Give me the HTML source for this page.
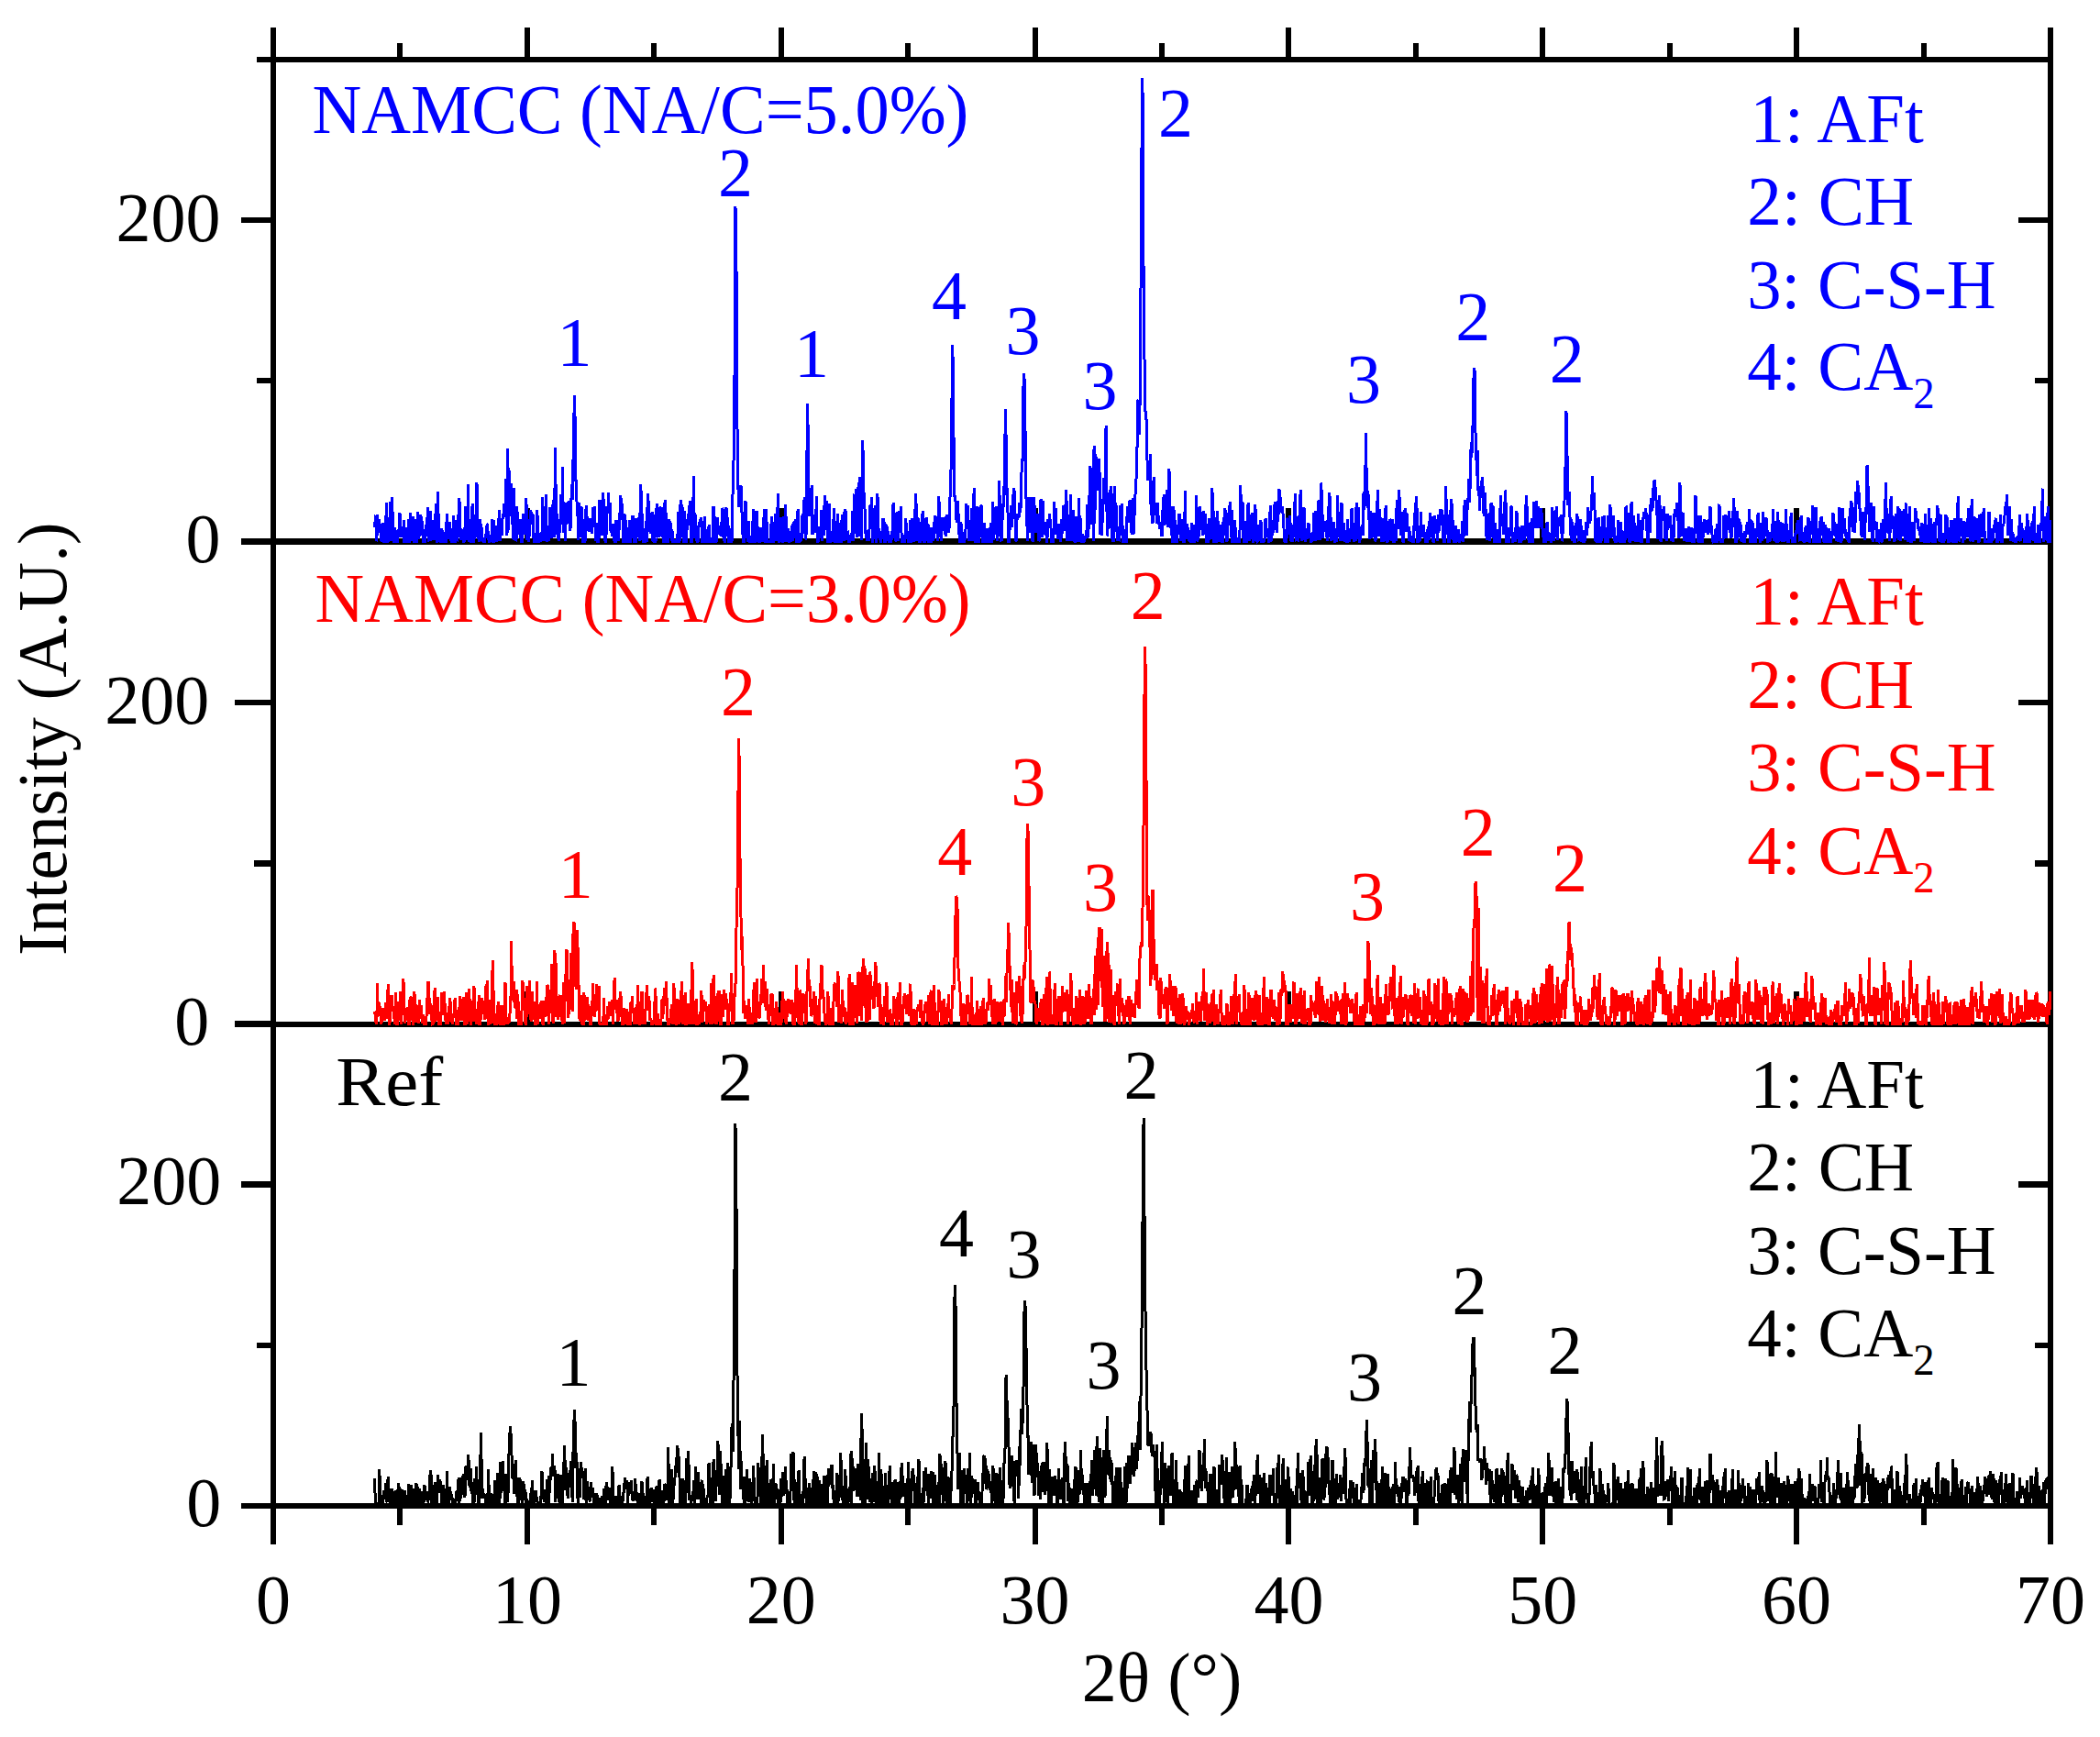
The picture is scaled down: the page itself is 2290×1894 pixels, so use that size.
<!DOCTYPE html>
<html lang="en"><head><meta charset="utf-8"><title>XRD patterns</title>
<style>html,body{margin:0;padding:0;background:#fff}svg{display:block}text{font-family:"Liberation Serif","Times New Roman",serif;font-size:76px}</style></head><body>
<svg width="2290" height="1894" viewBox="0 0 2290 1894">
<rect width="2290" height="1894" fill="#fff"/>
<g shape-rendering="crispEdges">
<rect x="295.0" y="30.0" width="6.0" height="1654.0" fill="#000"/>
<rect x="2233.0" y="30.0" width="6.0" height="1654.0" fill="#000"/>
<rect x="280.0" y="62.0" width="1959.0" height="6.0" fill="#000"/>
<rect x="263.0" y="587.0" width="1970.0" height="7.0" fill="#000"/>
<rect x="301.0" y="1114.0" width="1932.0" height="6.0" fill="#000"/>
<rect x="256.0" y="1112.7" width="39.0" height="7.0" fill="#000"/>
<rect x="263.0" y="1639.0" width="1976.0" height="6.0" fill="#000"/>
<rect x="295.0" y="30.0" width="6.0" height="32.0" fill="#000"/>
<rect x="295.0" y="1645.0" width="6.0" height="39.0" fill="#000"/>
<rect x="433.4" y="47.0" width="6.0" height="15.0" fill="#000"/>
<rect x="433.4" y="1645.0" width="6.0" height="18.0" fill="#000"/>
<rect x="571.9" y="30.0" width="6.0" height="32.0" fill="#000"/>
<rect x="571.9" y="1645.0" width="6.0" height="39.0" fill="#000"/>
<rect x="710.3" y="47.0" width="6.0" height="15.0" fill="#000"/>
<rect x="710.3" y="1645.0" width="6.0" height="18.0" fill="#000"/>
<rect x="848.7" y="30.0" width="6.0" height="32.0" fill="#000"/>
<rect x="848.7" y="1645.0" width="6.0" height="39.0" fill="#000"/>
<rect x="987.1" y="47.0" width="6.0" height="15.0" fill="#000"/>
<rect x="987.1" y="1645.0" width="6.0" height="18.0" fill="#000"/>
<rect x="1125.6" y="30.0" width="6.0" height="32.0" fill="#000"/>
<rect x="1125.6" y="1645.0" width="6.0" height="39.0" fill="#000"/>
<rect x="1264.0" y="47.0" width="6.0" height="15.0" fill="#000"/>
<rect x="1264.0" y="1645.0" width="6.0" height="18.0" fill="#000"/>
<rect x="1402.4" y="30.0" width="6.0" height="32.0" fill="#000"/>
<rect x="1402.4" y="1645.0" width="6.0" height="39.0" fill="#000"/>
<rect x="1540.9" y="47.0" width="6.0" height="15.0" fill="#000"/>
<rect x="1540.9" y="1645.0" width="6.0" height="18.0" fill="#000"/>
<rect x="1679.3" y="30.0" width="6.0" height="32.0" fill="#000"/>
<rect x="1679.3" y="1645.0" width="6.0" height="39.0" fill="#000"/>
<rect x="1817.7" y="47.0" width="6.0" height="15.0" fill="#000"/>
<rect x="1817.7" y="1645.0" width="6.0" height="18.0" fill="#000"/>
<rect x="1956.1" y="30.0" width="6.0" height="32.0" fill="#000"/>
<rect x="1956.1" y="1645.0" width="6.0" height="39.0" fill="#000"/>
<rect x="2094.6" y="47.0" width="6.0" height="15.0" fill="#000"/>
<rect x="2094.6" y="1645.0" width="6.0" height="18.0" fill="#000"/>
<rect x="2233.0" y="30.0" width="6.0" height="32.0" fill="#000"/>
<rect x="2233.0" y="1645.0" width="6.0" height="39.0" fill="#000"/>
<rect x="571.9" y="554.0" width="6.0" height="34.0" fill="#000"/>
<rect x="571.9" y="1081.0" width="6.0" height="34.0" fill="#000"/>
<rect x="848.7" y="554.0" width="6.0" height="34.0" fill="#000"/>
<rect x="848.7" y="1081.0" width="6.0" height="34.0" fill="#000"/>
<rect x="1125.6" y="554.0" width="6.0" height="34.0" fill="#000"/>
<rect x="1125.6" y="1081.0" width="6.0" height="34.0" fill="#000"/>
<rect x="1402.4" y="554.0" width="6.0" height="34.0" fill="#000"/>
<rect x="1402.4" y="1081.0" width="6.0" height="34.0" fill="#000"/>
<rect x="1679.3" y="554.0" width="6.0" height="34.0" fill="#000"/>
<rect x="1679.3" y="1081.0" width="6.0" height="34.0" fill="#000"/>
<rect x="1956.1" y="554.0" width="6.0" height="34.0" fill="#000"/>
<rect x="1956.1" y="1081.0" width="6.0" height="34.0" fill="#000"/>
<rect x="263.0" y="236.7" width="32.0" height="6.6" fill="#000"/>
<rect x="280.0" y="412.0" width="15.0" height="6.4" fill="#000"/>
<rect x="2201.0" y="236.7" width="32.0" height="6.6" fill="#000"/>
<rect x="2219.0" y="412.0" width="14.0" height="6.4" fill="#000"/>
<rect x="256.0" y="762.8" width="39.0" height="6.6" fill="#000"/>
<rect x="277.0" y="938.1" width="18.0" height="6.4" fill="#000"/>
<rect x="2201.0" y="762.8" width="32.0" height="6.6" fill="#000"/>
<rect x="2219.0" y="938.1" width="14.0" height="6.4" fill="#000"/>
<rect x="263.0" y="1288.3" width="32.0" height="6.6" fill="#000"/>
<rect x="280.0" y="1463.6" width="15.0" height="6.4" fill="#000"/>
<rect x="2201.0" y="1288.3" width="32.0" height="6.6" fill="#000"/>
<rect x="2219.0" y="1463.6" width="14.0" height="6.4" fill="#000"/>
</g>
<g shape-rendering="crispEdges">
<polyline fill="none" stroke="#000000" stroke-width="3" stroke-linejoin="miter" stroke-miterlimit="2" points="408.7,1612.1 409.3,1642.0 409.9,1641.6 410.4,1637.9 411.0,1641.4 411.5,1638.3 412.1,1642.0 412.6,1642.0 413.2,1642.0 413.7,1602.5 414.3,1615.4 414.8,1636.5 415.4,1638.5 415.9,1642.0 416.5,1642.0 417.0,1642.0 417.6,1630.5 418.2,1634.0 418.7,1624.7 419.3,1631.3 419.8,1634.5 420.4,1617.1 420.9,1620.5 421.5,1636.6 422.0,1638.2 422.6,1628.9 423.1,1610.4 423.7,1627.3 424.2,1637.7 424.8,1624.2 425.4,1638.4 425.9,1641.2 426.5,1625.7 427.0,1623.3 427.6,1630.0 428.1,1626.1 428.7,1642.0 429.2,1636.5 429.8,1639.1 430.3,1642.0 430.9,1638.9 431.4,1624.9 432.0,1635.1 432.6,1642.0 433.1,1638.7 433.7,1634.2 434.2,1618.9 434.8,1618.9 435.3,1628.0 435.9,1620.8 436.4,1630.6 437.0,1642.0 437.5,1631.9 438.1,1624.6 438.6,1633.2 439.2,1642.0 439.8,1635.1 440.3,1642.0 440.9,1638.4 441.4,1625.1 442.0,1642.0 442.5,1641.0 443.1,1642.0 443.6,1630.2 444.2,1642.0 444.7,1642.0 445.3,1630.5 445.8,1617.8 446.4,1642.0 446.9,1642.0 447.5,1632.6 448.1,1638.7 448.6,1619.5 449.2,1638.8 449.7,1635.7 450.3,1642.0 450.8,1623.6 451.4,1627.1 451.9,1637.8 452.5,1642.0 453.0,1623.8 453.6,1617.3 454.1,1621.8 454.7,1617.7 455.3,1624.3 455.8,1638.9 456.4,1642.0 456.9,1642.0 457.5,1622.7 458.0,1642.0 458.6,1642.0 459.1,1640.1 459.7,1632.8 460.2,1626.3 460.8,1642.0 461.3,1642.0 461.9,1642.0 462.5,1620.5 463.0,1619.5 463.6,1627.6 464.1,1636.0 464.7,1632.0 465.2,1634.8 465.8,1625.9 466.3,1638.3 466.9,1636.0 467.4,1634.2 468.0,1628.2 468.5,1628.5 469.1,1604.7 469.7,1604.8 470.2,1609.9 470.8,1642.0 471.3,1642.0 471.9,1641.9 472.4,1630.8 473.0,1642.0 473.5,1632.0 474.1,1616.2 474.6,1642.0 475.2,1642.0 475.7,1642.0 476.3,1637.0 476.8,1626.3 477.4,1608.0 478.0,1625.6 478.5,1626.1 479.1,1628.1 479.6,1613.5 480.2,1616.8 480.7,1614.9 481.3,1638.6 481.8,1640.9 482.4,1642.0 482.9,1621.0 483.5,1618.9 484.0,1633.6 484.6,1640.0 485.2,1630.4 485.7,1638.8 486.3,1642.0 486.8,1632.8 487.4,1604.1 487.9,1624.0 488.5,1640.8 489.0,1642.0 489.6,1642.0 490.1,1634.3 490.7,1621.5 491.2,1629.1 491.8,1629.7 492.4,1630.5 492.9,1631.3 493.5,1642.0 494.0,1642.0 494.6,1634.4 495.1,1641.4 495.7,1642.0 496.2,1642.0 496.8,1641.1 497.3,1625.6 497.9,1633.5 498.4,1637.0 499.0,1625.0 499.6,1622.1 500.1,1611.3 500.7,1642.0 501.2,1633.6 501.8,1633.5 502.3,1633.1 502.9,1620.5 503.4,1612.6 504.0,1611.0 504.5,1622.3 505.1,1607.1 505.6,1623.6 506.2,1633.1 506.8,1617.7 507.3,1630.5 507.9,1600.7 508.4,1600.7 509.0,1598.0 509.5,1601.1 510.1,1613.8 510.6,1586.1 511.2,1595.0 511.7,1620.0 512.3,1619.5 512.8,1621.9 513.4,1600.9 513.9,1626.0 514.5,1616.0 515.1,1630.8 515.6,1642.0 516.2,1642.0 516.7,1642.0 517.3,1634.9 517.8,1611.7 518.4,1619.0 518.9,1617.9 519.5,1598.8 520.0,1612.9 520.6,1623.3 521.1,1630.8 521.7,1642.0 522.3,1625.2 522.8,1642.0 523.4,1618.5 523.9,1591.9 524.5,1562.3 525.0,1589.4 525.6,1629.7 526.1,1623.3 526.7,1632.1 527.2,1634.0 527.8,1628.6 528.3,1630.3 528.9,1632.7 529.5,1642.0 530.0,1637.9 530.6,1642.0 531.1,1642.0 531.7,1642.0 532.2,1620.4 532.8,1601.8 533.3,1642.0 533.9,1641.0 534.4,1630.5 535.0,1642.0 535.5,1628.6 536.1,1633.1 536.7,1642.0 537.2,1642.0 537.8,1633.8 538.3,1629.0 538.9,1642.0 539.4,1628.6 540.0,1613.7 540.5,1642.0 541.1,1642.0 541.6,1635.4 542.2,1638.9 542.7,1606.2 543.3,1613.9 543.8,1642.0 544.4,1642.0 545.0,1635.7 545.5,1593.7 546.1,1615.7 546.6,1628.3 547.2,1620.0 547.7,1625.8 548.3,1593.3 548.8,1620.7 549.4,1620.3 549.9,1620.2 550.5,1616.7 551.0,1641.1 551.6,1607.1 552.2,1615.0 552.7,1624.6 553.3,1636.8 553.8,1637.6 554.4,1611.4 554.9,1587.7 555.5,1574.1 556.0,1561.8 556.6,1555.1 557.1,1565.0 557.7,1579.5 558.2,1591.9 558.8,1612.4 559.4,1609.0 559.9,1597.3 560.5,1611.6 561.0,1629.4 561.6,1617.7 562.1,1592.3 562.7,1617.4 563.2,1630.8 563.8,1630.9 564.3,1611.0 564.9,1642.0 565.4,1636.3 566.0,1610.8 566.6,1634.2 567.1,1615.7 567.7,1615.4 568.2,1635.3 568.8,1632.3 569.3,1642.0 569.9,1642.0 570.4,1615.1 571.0,1633.8 571.5,1618.2 572.1,1626.1 572.6,1624.0 573.2,1628.7 573.7,1642.0 574.3,1642.0 574.9,1634.4 575.4,1642.0 576.0,1642.0 576.5,1636.2 577.1,1638.6 577.6,1642.0 578.2,1642.0 578.7,1628.2 579.3,1634.6 579.8,1626.4 580.4,1614.0 580.9,1626.4 581.5,1642.0 582.1,1642.0 582.6,1639.9 583.2,1624.9 583.7,1626.9 584.3,1626.9 584.8,1635.6 585.4,1632.6 585.9,1637.0 586.5,1639.0 587.0,1642.0 587.6,1642.0 588.1,1642.0 588.7,1642.0 589.3,1642.0 589.8,1630.8 590.4,1631.2 590.9,1604.1 591.5,1610.4 592.0,1635.1 592.6,1627.8 593.1,1625.5 593.7,1637.8 594.2,1624.3 594.8,1634.6 595.3,1642.0 595.9,1637.0 596.5,1632.5 597.0,1612.8 597.6,1626.9 598.1,1642.0 598.7,1609.5 599.2,1627.9 599.8,1623.9 600.3,1600.0 600.9,1600.4 601.4,1608.1 602.0,1602.2 602.5,1585.4 603.1,1609.9 603.7,1603.7 604.2,1599.0 604.8,1600.0 605.3,1608.1 605.9,1638.0 606.4,1617.9 607.0,1625.1 607.5,1623.2 608.1,1621.4 608.6,1606.8 609.2,1628.3 609.7,1632.5 610.3,1642.0 610.8,1642.0 611.4,1608.5 612.0,1625.6 612.5,1640.7 613.1,1642.0 613.6,1619.9 614.2,1606.8 614.7,1614.0 615.3,1576.1 615.8,1587.8 616.4,1599.7 616.9,1624.7 617.5,1600.2 618.0,1605.5 618.6,1623.7 619.2,1633.9 619.7,1632.3 620.3,1612.8 620.8,1622.1 621.4,1608.1 621.9,1605.2 622.5,1595.0 623.0,1595.3 623.6,1608.9 624.1,1638.1 624.7,1607.3 625.2,1569.3 625.8,1554.1 626.4,1537.4 626.9,1544.9 627.5,1571.5 628.0,1601.2 628.6,1584.1 629.1,1596.0 629.7,1620.6 630.2,1642.0 630.8,1632.3 631.3,1601.0 631.9,1606.5 632.4,1632.9 633.0,1608.4 633.6,1593.9 634.1,1601.4 634.7,1608.0 635.2,1603.9 635.8,1611.2 636.3,1612.7 636.9,1635.2 637.4,1612.5 638.0,1616.8 638.5,1600.7 639.1,1642.0 639.6,1633.6 640.2,1614.7 640.7,1630.3 641.3,1628.3 641.9,1621.2 642.4,1622.3 643.0,1635.9 643.5,1637.2 644.1,1623.9 644.6,1616.0 645.2,1626.8 645.7,1632.4 646.3,1631.3 646.8,1622.2 647.4,1639.6 647.9,1642.0 648.5,1638.5 649.1,1642.0 649.6,1642.0 650.2,1635.6 650.7,1628.5 651.3,1642.0 651.8,1630.5 652.4,1642.0 652.9,1636.4 653.5,1642.0 654.0,1642.0 654.6,1633.1 655.1,1635.0 655.7,1642.0 656.3,1642.0 656.8,1631.1 657.4,1632.2 657.9,1634.4 658.5,1623.1 659.0,1636.3 659.6,1642.0 660.1,1641.4 660.7,1624.2 661.2,1618.2 661.8,1615.9 662.3,1628.2 662.9,1635.6 663.5,1625.7 664.0,1633.9 664.6,1627.1 665.1,1622.5 665.7,1637.7 666.2,1638.0 666.8,1635.5 667.3,1616.4 667.9,1598.8 668.4,1622.7 669.0,1634.1 669.5,1642.0 670.1,1642.0 670.6,1632.9 671.2,1642.0 671.8,1630.6 672.3,1642.0 672.9,1642.0 673.4,1633.4 674.0,1642.0 674.5,1630.7 675.1,1618.7 675.6,1642.0 676.2,1642.0 676.7,1634.1 677.3,1631.2 677.8,1642.0 678.4,1642.0 679.0,1636.3 679.5,1635.8 680.1,1625.7 680.6,1625.8 681.2,1613.2 681.7,1610.8 682.3,1620.0 682.8,1619.1 683.4,1614.6 683.9,1619.9 684.5,1642.0 685.0,1630.4 685.6,1628.8 686.2,1616.2 686.7,1625.0 687.3,1627.6 687.8,1627.7 688.4,1614.2 688.9,1623.7 689.5,1635.7 690.0,1631.7 690.6,1636.9 691.1,1634.0 691.7,1632.9 692.2,1630.8 692.8,1611.7 693.4,1628.7 693.9,1635.2 694.5,1635.6 695.0,1627.4 695.6,1642.0 696.1,1642.0 696.7,1637.4 697.2,1627.9 697.8,1631.4 698.3,1639.2 698.9,1642.0 699.4,1632.2 700.0,1615.5 700.6,1623.0 701.1,1629.9 701.7,1627.8 702.2,1641.6 702.8,1641.5 703.3,1637.9 703.9,1631.6 704.4,1632.4 705.0,1642.0 705.5,1627.2 706.1,1609.6 706.6,1628.0 707.2,1630.4 707.7,1628.6 708.3,1623.6 708.9,1642.0 709.4,1623.1 710.0,1630.6 710.5,1621.9 711.1,1626.3 711.6,1637.2 712.2,1636.8 712.7,1624.2 713.3,1638.4 713.8,1641.7 714.4,1640.5 714.9,1642.0 715.5,1627.5 716.1,1620.5 716.6,1630.7 717.2,1620.6 717.7,1638.0 718.3,1638.8 718.8,1614.6 719.4,1613.2 719.9,1642.0 720.5,1642.0 721.0,1642.0 721.6,1624.7 722.1,1631.8 722.7,1637.2 723.3,1624.7 723.8,1639.5 724.4,1633.5 724.9,1618.3 725.5,1618.7 726.0,1621.4 726.6,1636.3 727.1,1626.1 727.7,1632.5 728.2,1611.8 728.8,1578.5 729.3,1621.9 729.9,1642.0 730.5,1642.0 731.0,1625.1 731.6,1607.7 732.1,1602.0 732.7,1632.5 733.2,1642.0 733.8,1611.6 734.3,1635.0 734.9,1615.5 735.4,1620.0 736.0,1611.7 736.5,1602.7 737.1,1597.7 737.6,1588.9 738.2,1605.9 738.8,1576.1 739.3,1582.8 739.9,1590.1 740.4,1588.0 741.0,1611.1 741.5,1634.3 742.1,1640.4 742.6,1635.1 743.2,1614.8 743.7,1634.1 744.3,1613.0 744.8,1613.0 745.4,1628.7 746.0,1642.0 746.5,1633.5 747.1,1613.9 747.6,1642.0 748.2,1621.0 748.7,1590.3 749.3,1609.3 749.8,1616.8 750.4,1582.5 750.9,1587.9 751.5,1633.9 752.0,1635.3 752.6,1630.9 753.2,1631.9 753.7,1642.0 754.3,1633.4 754.8,1633.2 755.4,1630.1 755.9,1629.1 756.5,1613.8 757.0,1626.3 757.6,1642.0 758.1,1624.9 758.7,1599.1 759.2,1622.4 759.8,1606.3 760.4,1612.4 760.9,1635.2 761.5,1605.2 762.0,1630.1 762.6,1616.4 763.1,1628.5 763.7,1623.7 764.2,1642.0 764.8,1642.0 765.3,1615.4 765.9,1615.7 766.4,1625.4 767.0,1635.1 767.5,1623.1 768.1,1642.0 768.7,1642.0 769.2,1639.3 769.8,1642.0 770.3,1642.0 770.9,1634.2 771.4,1630.3 772.0,1632.3 772.5,1598.9 773.1,1595.3 773.6,1596.6 774.2,1617.5 774.7,1636.3 775.3,1642.0 775.9,1642.0 776.4,1642.0 777.0,1642.0 777.5,1617.5 778.1,1590.7 778.6,1595.5 779.2,1634.1 779.7,1624.3 780.3,1636.5 780.8,1617.5 781.4,1621.2 781.9,1611.0 782.5,1571.3 783.1,1587.3 783.6,1574.9 784.2,1602.7 784.7,1629.7 785.3,1603.1 785.8,1582.0 786.4,1620.4 786.9,1627.4 787.5,1642.0 788.0,1639.2 788.6,1608.6 789.1,1617.2 789.7,1633.6 790.3,1642.0 790.8,1626.3 791.4,1603.0 791.9,1602.4 792.5,1609.4 793.0,1639.2 793.6,1594.8 794.1,1601.6 794.7,1616.4 795.2,1598.6 795.8,1641.7 796.3,1623.3 796.9,1602.4 797.5,1587.2 798.0,1556.2 798.6,1551.7 799.1,1583.1 799.7,1547.2 800.2,1482.2 800.8,1412.8 801.3,1347.3 801.9,1225.5 802.4,1243.8 803.0,1314.1 803.5,1414.7 804.1,1515.1 804.6,1507.5 805.2,1591.9 805.8,1602.2 806.3,1548.6 806.9,1578.5 807.4,1596.4 808.0,1624.0 808.5,1592.7 809.1,1623.4 809.6,1619.2 810.2,1610.5 810.7,1634.8 811.3,1610.3 811.8,1637.7 812.4,1642.0 813.0,1626.9 813.5,1629.2 814.1,1616.7 814.6,1601.6 815.2,1620.6 815.7,1635.6 816.3,1637.6 816.8,1634.9 817.4,1612.3 817.9,1621.7 818.5,1618.9 819.0,1623.1 819.6,1641.2 820.2,1616.2 820.7,1637.2 821.3,1633.8 821.8,1598.1 822.4,1633.4 822.9,1635.7 823.5,1642.0 824.0,1642.0 824.6,1642.0 825.1,1642.0 825.7,1638.7 826.2,1627.8 826.8,1595.4 827.4,1607.1 827.9,1610.7 828.5,1620.1 829.0,1628.7 829.6,1639.4 830.1,1642.0 830.7,1621.2 831.2,1570.3 831.8,1563.7 832.3,1613.5 832.9,1592.4 833.4,1616.6 834.0,1639.0 834.5,1642.0 835.1,1642.0 835.7,1638.5 836.2,1591.6 836.8,1613.7 837.3,1642.0 837.9,1642.0 838.4,1635.9 839.0,1642.0 839.5,1638.8 840.1,1613.1 840.6,1615.4 841.2,1613.4 841.7,1642.0 842.3,1642.0 842.9,1617.6 843.4,1596.5 844.0,1642.0 844.5,1636.2 845.1,1625.1 845.6,1617.1 846.2,1619.0 846.7,1634.8 847.3,1627.9 847.8,1622.9 848.4,1627.0 848.9,1642.0 849.5,1642.0 850.1,1642.0 850.6,1642.0 851.2,1636.3 851.7,1612.2 852.3,1616.7 852.8,1632.1 853.4,1629.2 853.9,1605.5 854.5,1631.2 855.0,1616.6 855.6,1606.9 856.1,1616.9 856.7,1598.7 857.3,1628.7 857.8,1616.2 858.4,1636.8 858.9,1642.0 859.5,1642.0 860.0,1628.1 860.6,1641.1 861.1,1634.4 861.7,1642.0 862.2,1617.4 862.8,1585.0 863.3,1608.2 863.9,1595.5 864.4,1603.7 865.0,1583.1 865.6,1607.8 866.1,1642.0 866.7,1613.2 867.2,1617.6 867.8,1642.0 868.3,1642.0 868.9,1642.0 869.4,1642.0 870.0,1642.0 870.5,1609.2 871.1,1603.1 871.6,1642.0 872.2,1642.0 872.8,1642.0 873.3,1642.0 873.9,1642.0 874.4,1629.3 875.0,1642.0 875.5,1642.0 876.1,1623.0 876.6,1597.4 877.2,1588.4 877.7,1614.6 878.3,1611.6 878.8,1634.1 879.4,1626.2 880.0,1641.9 880.5,1622.2 881.1,1642.0 881.6,1642.0 882.2,1635.8 882.7,1617.5 883.3,1642.0 883.8,1642.0 884.4,1629.6 884.9,1622.3 885.5,1641.1 886.0,1632.8 886.6,1631.7 887.2,1604.0 887.7,1605.8 888.3,1642.0 888.8,1642.0 889.4,1642.0 889.9,1605.1 890.5,1614.6 891.0,1610.0 891.6,1629.2 892.1,1642.0 892.7,1625.1 893.2,1619.6 893.8,1614.2 894.4,1642.0 894.9,1635.7 895.5,1637.6 896.0,1617.9 896.6,1631.6 897.1,1642.0 897.7,1642.0 898.2,1609.2 898.8,1616.6 899.3,1641.3 899.9,1642.0 900.4,1642.0 901.0,1609.3 901.5,1642.0 902.1,1642.0 902.7,1622.8 903.2,1600.6 903.8,1620.5 904.3,1614.3 904.9,1607.0 905.4,1603.1 906.0,1618.5 906.5,1596.7 907.1,1609.8 907.6,1597.2 908.2,1634.5 908.7,1618.7 909.3,1642.0 909.9,1642.0 910.4,1629.9 911.0,1637.7 911.5,1625.2 912.1,1642.0 912.6,1605.8 913.2,1612.9 913.7,1642.0 914.3,1632.4 914.8,1608.5 915.4,1632.9 915.9,1622.9 916.5,1584.1 917.1,1593.0 917.6,1618.8 918.2,1636.3 918.7,1619.8 919.3,1642.0 919.8,1642.0 920.4,1642.0 920.9,1642.0 921.5,1602.3 922.0,1608.3 922.6,1642.0 923.1,1642.0 923.7,1625.5 924.3,1636.1 924.8,1642.0 925.4,1631.3 925.9,1623.8 926.5,1622.0 927.0,1621.5 927.6,1599.3 928.1,1582.0 928.7,1640.1 929.2,1589.8 929.8,1599.6 930.3,1599.0 930.9,1625.8 931.4,1622.2 932.0,1614.9 932.6,1617.1 933.1,1603.7 933.7,1600.8 934.2,1631.8 934.8,1628.0 935.3,1603.8 935.9,1596.0 936.4,1613.2 937.0,1617.9 937.5,1611.1 938.1,1635.8 938.6,1615.7 939.2,1548.1 939.8,1541.4 940.3,1580.8 940.9,1639.8 941.4,1639.9 942.0,1627.5 942.5,1591.0 943.1,1625.9 943.6,1640.7 944.2,1622.3 944.7,1573.2 945.3,1633.9 945.8,1634.4 946.4,1591.3 947.0,1599.0 947.5,1600.9 948.1,1637.8 948.6,1628.9 949.2,1632.3 949.7,1611.6 950.3,1634.7 950.8,1639.8 951.4,1605.8 951.9,1631.6 952.5,1637.8 953.0,1614.1 953.6,1597.9 954.2,1609.5 954.7,1604.5 955.3,1642.0 955.8,1642.0 956.4,1635.2 956.9,1627.5 957.5,1614.9 958.0,1642.0 958.6,1583.7 959.1,1614.5 959.7,1625.4 960.2,1606.6 960.8,1602.3 961.3,1613.5 961.9,1642.0 962.5,1642.0 963.0,1620.3 963.6,1636.0 964.1,1642.0 964.7,1642.0 965.2,1622.7 965.8,1606.2 966.3,1638.0 966.9,1635.7 967.4,1628.9 968.0,1642.0 968.5,1640.4 969.1,1623.8 969.7,1614.0 970.2,1598.5 970.8,1615.4 971.3,1634.7 971.9,1622.9 972.4,1634.8 973.0,1642.0 973.5,1616.0 974.1,1624.2 974.6,1627.6 975.2,1613.8 975.7,1641.7 976.3,1624.2 976.9,1613.2 977.4,1624.9 978.0,1620.4 978.5,1637.5 979.1,1642.0 979.6,1642.0 980.2,1642.0 980.7,1618.5 981.3,1614.8 981.8,1634.4 982.4,1630.4 982.9,1601.7 983.5,1594.9 984.1,1610.8 984.6,1616.0 985.2,1628.5 985.7,1631.6 986.3,1617.2 986.8,1624.3 987.4,1622.5 987.9,1642.0 988.5,1642.0 989.0,1642.0 989.6,1642.0 990.1,1606.2 990.7,1594.3 991.3,1635.5 991.8,1642.0 992.4,1625.3 992.9,1611.9 993.5,1642.0 994.0,1618.9 994.6,1615.0 995.1,1601.2 995.7,1609.8 996.2,1607.8 996.8,1613.7 997.3,1641.8 997.9,1639.2 998.4,1641.4 999.0,1617.3 999.6,1638.4 1000.1,1642.0 1000.7,1627.1 1001.2,1600.3 1001.8,1590.9 1002.3,1595.0 1002.9,1642.0 1003.4,1642.0 1004.0,1642.0 1004.5,1631.9 1005.1,1642.0 1005.6,1642.0 1006.2,1622.0 1006.8,1642.0 1007.3,1632.7 1007.9,1604.1 1008.4,1616.3 1009.0,1607.1 1009.5,1599.6 1010.1,1611.0 1010.6,1616.5 1011.2,1630.6 1011.7,1607.2 1012.3,1625.3 1012.8,1642.0 1013.4,1619.6 1014.0,1634.3 1014.5,1625.0 1015.1,1603.8 1015.6,1616.5 1016.2,1624.1 1016.7,1608.9 1017.3,1605.2 1017.8,1642.0 1018.4,1642.0 1018.9,1612.9 1019.5,1608.3 1020.0,1642.0 1020.6,1642.0 1021.2,1637.0 1021.7,1642.0 1022.3,1625.7 1022.8,1620.8 1023.4,1616.4 1023.9,1642.0 1024.5,1624.1 1025.0,1584.6 1025.6,1624.0 1026.1,1607.9 1026.7,1596.5 1027.2,1605.3 1027.8,1621.0 1028.3,1642.0 1028.9,1642.0 1029.5,1617.7 1030.0,1599.9 1030.6,1593.4 1031.1,1595.8 1031.7,1598.7 1032.2,1623.3 1032.8,1642.0 1033.3,1627.8 1033.9,1609.9 1034.4,1614.0 1035.0,1642.0 1035.5,1639.0 1036.1,1642.0 1036.7,1621.6 1037.2,1626.3 1037.8,1614.4 1038.3,1589.9 1038.9,1576.4 1039.4,1534.5 1040.0,1534.7 1040.5,1497.7 1041.1,1401.1 1041.6,1404.3 1042.2,1432.5 1042.7,1508.6 1043.3,1548.4 1043.9,1574.8 1044.4,1617.0 1045.0,1623.7 1045.5,1603.5 1046.1,1618.3 1046.6,1584.3 1047.2,1629.2 1047.7,1638.9 1048.3,1602.6 1048.8,1622.4 1049.4,1642.0 1049.9,1642.0 1050.5,1642.0 1051.1,1601.1 1051.6,1603.2 1052.2,1610.6 1052.7,1629.0 1053.3,1612.7 1053.8,1615.2 1054.4,1640.4 1054.9,1640.4 1055.5,1624.6 1056.0,1601.5 1056.6,1616.2 1057.1,1616.2 1057.7,1583.7 1058.2,1623.0 1058.8,1642.0 1059.4,1617.3 1059.9,1609.0 1060.5,1623.4 1061.0,1621.2 1061.6,1629.2 1062.1,1618.6 1062.7,1627.2 1063.2,1613.4 1063.8,1640.3 1064.3,1642.0 1064.9,1630.0 1065.4,1633.0 1066.0,1616.5 1066.6,1620.4 1067.1,1635.7 1067.7,1626.0 1068.2,1633.3 1068.8,1642.0 1069.3,1642.0 1069.9,1642.0 1070.4,1640.5 1071.0,1627.3 1071.5,1607.7 1072.1,1607.5 1072.6,1587.9 1073.2,1587.0 1073.8,1618.0 1074.3,1596.2 1074.9,1589.6 1075.4,1623.5 1076.0,1622.9 1076.5,1602.1 1077.1,1611.3 1077.6,1604.0 1078.2,1609.0 1078.7,1608.4 1079.3,1624.5 1079.8,1620.1 1080.4,1627.9 1081.0,1614.9 1081.5,1642.0 1082.1,1631.9 1082.6,1598.3 1083.2,1602.9 1083.7,1619.5 1084.3,1614.0 1084.8,1634.7 1085.4,1642.0 1085.9,1636.7 1086.5,1628.8 1087.0,1606.3 1087.6,1631.1 1088.2,1611.4 1088.7,1642.0 1089.3,1642.0 1089.8,1628.4 1090.4,1599.8 1090.9,1621.8 1091.5,1642.0 1092.0,1628.3 1092.6,1614.0 1093.1,1635.2 1093.7,1640.5 1094.2,1629.9 1094.8,1606.3 1095.3,1579.2 1095.9,1595.9 1096.5,1513.3 1097.0,1502.2 1097.6,1499.0 1098.1,1533.0 1098.7,1565.1 1099.2,1546.2 1099.8,1560.2 1100.3,1602.7 1100.9,1618.4 1101.4,1622.4 1102.0,1621.4 1102.5,1601.9 1103.1,1617.8 1103.7,1586.9 1104.2,1598.8 1104.8,1613.1 1105.3,1592.6 1105.9,1636.1 1106.4,1639.8 1107.0,1601.4 1107.5,1597.8 1108.1,1601.1 1108.6,1591.7 1109.2,1604.3 1109.7,1602.2 1110.3,1617.7 1110.9,1634.0 1111.4,1577.3 1112.0,1588.1 1112.5,1598.1 1113.1,1552.7 1113.6,1535.6 1114.2,1560.2 1114.7,1563.5 1115.3,1540.9 1115.8,1531.5 1116.4,1478.4 1116.9,1432.7 1117.5,1418.3 1118.1,1425.0 1118.6,1461.3 1119.2,1473.7 1119.7,1492.1 1120.3,1568.4 1120.8,1557.2 1121.4,1580.1 1121.9,1608.3 1122.5,1576.4 1123.0,1588.9 1123.6,1597.2 1124.1,1571.9 1124.7,1595.4 1125.2,1616.8 1125.8,1598.9 1126.4,1574.7 1126.9,1582.3 1127.5,1628.4 1128.0,1630.9 1128.6,1616.0 1129.1,1575.3 1129.7,1578.6 1130.2,1589.3 1130.8,1584.4 1131.3,1610.4 1131.9,1609.4 1132.4,1603.6 1133.0,1631.2 1133.6,1626.5 1134.1,1608.5 1134.7,1634.5 1135.2,1613.9 1135.8,1599.7 1136.3,1595.5 1136.9,1626.8 1137.4,1625.8 1138.0,1594.2 1138.5,1595.4 1139.1,1630.1 1139.6,1624.8 1140.2,1594.7 1140.8,1612.5 1141.3,1616.6 1141.9,1572.9 1142.4,1602.7 1143.0,1625.6 1143.5,1642.0 1144.1,1642.0 1144.6,1601.9 1145.2,1614.0 1145.7,1642.0 1146.3,1642.0 1146.8,1631.5 1147.4,1610.0 1148.0,1631.4 1148.5,1617.2 1149.1,1627.2 1149.6,1621.7 1150.2,1611.8 1150.7,1608.9 1151.3,1627.2 1151.8,1630.9 1152.4,1616.4 1152.9,1642.0 1153.5,1631.7 1154.0,1613.4 1154.6,1600.8 1155.1,1616.0 1155.7,1627.3 1156.3,1622.2 1156.8,1635.0 1157.4,1632.0 1157.9,1615.4 1158.5,1611.1 1159.0,1633.7 1159.6,1627.2 1160.1,1642.0 1160.7,1594.5 1161.2,1578.9 1161.8,1572.1 1162.3,1610.0 1162.9,1615.8 1163.5,1605.6 1164.0,1595.8 1164.6,1636.7 1165.1,1617.4 1165.7,1618.8 1166.2,1638.9 1166.8,1621.7 1167.3,1625.9 1167.9,1632.5 1168.4,1640.2 1169.0,1626.8 1169.5,1622.8 1170.1,1628.2 1170.7,1642.0 1171.2,1642.0 1171.8,1622.4 1172.3,1599.0 1172.9,1615.6 1173.4,1600.1 1174.0,1614.2 1174.5,1642.0 1175.1,1622.9 1175.6,1637.8 1176.2,1625.9 1176.7,1602.6 1177.3,1622.0 1177.9,1629.2 1178.4,1581.0 1179.0,1600.4 1179.5,1618.0 1180.1,1608.3 1180.6,1619.8 1181.2,1626.6 1181.7,1617.8 1182.3,1642.0 1182.8,1617.3 1183.4,1631.0 1183.9,1642.0 1184.5,1621.5 1185.1,1617.2 1185.6,1642.0 1186.2,1627.3 1186.7,1639.2 1187.3,1641.5 1187.8,1642.0 1188.4,1642.0 1188.9,1616.0 1189.5,1609.6 1190.0,1606.8 1190.6,1592.2 1191.1,1631.2 1191.7,1618.3 1192.2,1612.9 1192.8,1622.7 1193.4,1580.7 1193.9,1622.5 1194.5,1580.7 1195.0,1623.9 1195.6,1630.8 1196.1,1566.1 1196.7,1629.3 1197.2,1631.3 1197.8,1596.5 1198.3,1638.0 1198.9,1580.7 1199.4,1580.7 1200.0,1587.8 1200.6,1640.5 1201.1,1631.7 1201.7,1589.0 1202.2,1641.9 1202.8,1605.2 1203.3,1590.6 1203.9,1580.7 1204.4,1611.4 1205.0,1632.8 1205.5,1589.9 1206.1,1607.9 1206.6,1592.3 1207.2,1544.2 1207.8,1575.4 1208.3,1608.4 1208.9,1603.9 1209.4,1581.3 1210.0,1589.1 1210.5,1598.4 1211.1,1616.2 1211.6,1592.7 1212.2,1596.3 1212.7,1595.5 1213.3,1638.9 1213.8,1626.6 1214.4,1638.6 1215.0,1624.2 1215.5,1615.2 1216.1,1640.5 1216.6,1628.0 1217.2,1600.0 1217.7,1604.0 1218.3,1607.8 1218.8,1633.2 1219.4,1641.7 1219.9,1642.0 1220.5,1629.1 1221.0,1600.1 1221.6,1605.1 1222.1,1618.9 1222.7,1642.0 1223.3,1623.2 1223.8,1622.7 1224.4,1642.0 1224.9,1642.0 1225.5,1641.4 1226.0,1639.9 1226.6,1598.6 1227.1,1606.7 1227.7,1638.5 1228.2,1636.9 1228.8,1594.8 1229.3,1622.9 1229.9,1612.1 1230.5,1603.5 1231.0,1587.0 1231.6,1594.6 1232.1,1617.8 1232.7,1607.7 1233.2,1607.2 1233.8,1593.4 1234.3,1603.1 1234.9,1573.3 1235.4,1592.2 1236.0,1597.2 1236.5,1610.1 1237.1,1602.5 1237.7,1595.2 1238.2,1590.4 1238.8,1573.0 1239.3,1589.0 1239.9,1602.0 1240.4,1565.1 1241.0,1569.0 1241.5,1581.0 1242.1,1544.6 1242.6,1528.0 1243.2,1580.9 1243.7,1553.4 1244.3,1494.1 1244.9,1453.7 1245.4,1430.4 1246.0,1333.1 1246.5,1269.2 1247.1,1218.7 1247.6,1266.2 1248.2,1353.8 1248.7,1410.8 1249.3,1446.4 1249.8,1493.1 1250.4,1495.7 1250.9,1534.9 1251.5,1553.4 1252.0,1575.4 1252.6,1575.4 1253.2,1572.8 1253.7,1570.2 1254.3,1568.8 1254.8,1560.9 1255.4,1567.5 1255.9,1583.2 1256.5,1588.3 1257.0,1579.2 1257.6,1575.4 1258.1,1587.0 1258.7,1589.0 1259.2,1582.5 1259.8,1617.8 1260.4,1642.0 1260.9,1593.6 1261.5,1575.0 1262.0,1601.1 1262.6,1607.2 1263.1,1628.8 1263.7,1642.0 1264.2,1622.3 1264.8,1641.4 1265.3,1614.1 1265.9,1623.8 1266.4,1619.9 1267.0,1583.6 1267.6,1571.9 1268.1,1610.8 1268.7,1604.7 1269.2,1631.5 1269.8,1640.6 1270.3,1620.4 1270.9,1595.2 1271.4,1622.0 1272.0,1618.1 1272.5,1617.2 1273.1,1642.0 1273.6,1636.0 1274.2,1598.4 1274.8,1613.7 1275.3,1616.0 1275.9,1605.6 1276.4,1630.8 1277.0,1608.6 1277.5,1588.3 1278.1,1584.6 1278.6,1589.0 1279.2,1622.7 1279.7,1639.1 1280.3,1642.0 1280.8,1642.0 1281.4,1642.0 1282.0,1614.2 1282.5,1591.8 1283.1,1625.2 1283.6,1616.4 1284.2,1641.6 1284.7,1641.6 1285.3,1642.0 1285.8,1642.0 1286.4,1638.0 1286.9,1624.3 1287.5,1632.7 1288.0,1638.7 1288.6,1642.0 1289.1,1636.5 1289.7,1638.0 1290.3,1627.0 1290.8,1642.0 1291.4,1632.1 1291.9,1615.8 1292.5,1600.7 1293.0,1598.4 1293.6,1615.1 1294.1,1637.3 1294.7,1642.0 1295.2,1641.5 1295.8,1602.1 1296.3,1586.6 1296.9,1642.0 1297.5,1642.0 1298.0,1639.2 1298.6,1642.0 1299.1,1632.1 1299.7,1625.0 1300.2,1636.0 1300.8,1631.9 1301.3,1642.0 1301.9,1642.0 1302.4,1642.0 1303.0,1618.6 1303.5,1642.0 1304.1,1642.0 1304.7,1615.4 1305.2,1622.2 1305.8,1613.6 1306.3,1632.5 1306.9,1625.0 1307.4,1608.2 1308.0,1581.1 1308.5,1597.1 1309.1,1596.7 1309.6,1616.0 1310.2,1625.7 1310.7,1599.2 1311.3,1604.9 1311.9,1598.0 1312.4,1603.8 1313.0,1584.6 1313.5,1568.9 1314.1,1623.3 1314.6,1601.4 1315.2,1605.1 1315.7,1615.6 1316.3,1625.7 1316.8,1615.7 1317.4,1641.2 1317.9,1642.0 1318.5,1642.0 1319.0,1628.3 1319.6,1608.9 1320.2,1607.1 1320.7,1615.0 1321.3,1634.8 1321.8,1642.0 1322.4,1634.1 1322.9,1621.5 1323.5,1619.9 1324.0,1599.5 1324.6,1619.2 1325.1,1632.3 1325.7,1642.0 1326.2,1635.7 1326.8,1623.7 1327.4,1640.6 1327.9,1626.4 1328.5,1642.0 1329.0,1642.0 1329.6,1597.3 1330.1,1598.8 1330.7,1605.3 1331.2,1607.0 1331.8,1610.3 1332.3,1619.0 1332.9,1586.0 1333.4,1610.8 1334.0,1615.2 1334.6,1625.5 1335.1,1635.4 1335.7,1642.0 1336.2,1642.0 1336.8,1615.7 1337.3,1589.5 1337.9,1623.5 1338.4,1631.6 1339.0,1617.2 1339.5,1640.2 1340.1,1604.6 1340.6,1632.0 1341.2,1642.0 1341.8,1642.0 1342.3,1623.1 1342.9,1614.9 1343.4,1599.1 1344.0,1632.6 1344.5,1629.8 1345.1,1623.9 1345.6,1623.8 1346.2,1590.2 1346.7,1572.2 1347.3,1586.2 1347.8,1624.1 1348.4,1615.5 1348.9,1597.5 1349.5,1607.7 1350.1,1613.7 1350.6,1615.1 1351.2,1639.9 1351.7,1630.8 1352.3,1598.2 1352.8,1632.8 1353.4,1634.4 1353.9,1612.9 1354.5,1642.0 1355.0,1641.1 1355.6,1642.0 1356.1,1642.0 1356.7,1642.0 1357.3,1642.0 1357.8,1642.0 1358.4,1636.8 1358.9,1633.9 1359.5,1642.0 1360.0,1619.5 1360.6,1620.6 1361.1,1642.0 1361.7,1642.0 1362.2,1627.8 1362.8,1642.0 1363.3,1642.0 1363.9,1639.7 1364.5,1622.7 1365.0,1637.1 1365.6,1626.3 1366.1,1618.8 1366.7,1628.2 1367.2,1608.0 1367.8,1618.3 1368.3,1642.0 1368.9,1632.4 1369.4,1623.9 1370.0,1628.1 1370.5,1624.7 1371.1,1585.9 1371.7,1606.0 1372.2,1618.6 1372.8,1629.1 1373.3,1607.6 1373.9,1619.1 1374.4,1642.0 1375.0,1642.0 1375.5,1628.7 1376.1,1611.4 1376.6,1642.0 1377.2,1642.0 1377.7,1622.9 1378.3,1605.6 1378.9,1642.0 1379.4,1642.0 1380.0,1617.1 1380.5,1631.0 1381.1,1640.2 1381.6,1641.1 1382.2,1642.0 1382.7,1637.5 1383.3,1622.5 1383.8,1642.0 1384.4,1637.2 1384.9,1608.2 1385.5,1615.8 1386.0,1610.0 1386.6,1629.9 1387.2,1608.3 1387.7,1630.5 1388.3,1601.0 1388.8,1620.2 1389.4,1642.0 1389.9,1642.0 1390.5,1639.8 1391.0,1636.6 1391.6,1639.3 1392.1,1632.6 1392.7,1609.5 1393.2,1595.4 1393.8,1606.1 1394.4,1586.1 1394.9,1614.7 1395.5,1638.8 1396.0,1642.0 1396.6,1620.0 1397.1,1642.0 1397.7,1642.0 1398.2,1614.6 1398.8,1600.7 1399.3,1590.5 1399.9,1642.0 1400.4,1638.8 1401.0,1613.3 1401.6,1619.7 1402.1,1642.0 1402.7,1642.0 1403.2,1642.0 1403.8,1642.0 1404.3,1600.8 1404.9,1600.0 1405.4,1642.0 1406.0,1642.0 1406.5,1632.1 1407.1,1635.4 1407.6,1623.3 1408.2,1635.1 1408.8,1636.9 1409.3,1626.0 1409.9,1642.0 1410.4,1642.0 1411.0,1642.0 1411.5,1642.0 1412.1,1637.5 1412.6,1631.2 1413.2,1630.2 1413.7,1620.3 1414.3,1639.9 1414.8,1611.6 1415.4,1583.7 1415.9,1607.0 1416.5,1622.6 1417.1,1605.9 1417.6,1607.9 1418.2,1620.4 1418.7,1630.0 1419.3,1642.0 1419.8,1642.0 1420.4,1626.2 1420.9,1603.1 1421.5,1637.4 1422.0,1637.9 1422.6,1625.3 1423.1,1634.0 1423.7,1642.0 1424.3,1640.9 1424.8,1642.0 1425.4,1642.0 1425.9,1633.7 1426.5,1594.3 1427.0,1595.8 1427.6,1626.6 1428.1,1630.6 1428.7,1598.4 1429.2,1586.9 1429.8,1611.7 1430.3,1627.6 1430.9,1642.0 1431.5,1642.0 1432.0,1630.2 1432.6,1637.2 1433.1,1597.1 1433.7,1635.1 1434.2,1623.8 1434.8,1582.0 1435.3,1569.1 1435.9,1575.8 1436.4,1617.5 1437.0,1639.0 1437.5,1623.8 1438.1,1618.8 1438.7,1628.4 1439.2,1639.2 1439.8,1611.0 1440.3,1632.8 1440.9,1640.5 1441.4,1601.9 1442.0,1591.7 1442.5,1591.7 1443.1,1625.2 1443.6,1635.4 1444.2,1632.2 1444.7,1631.1 1445.3,1613.6 1445.8,1586.5 1446.4,1583.8 1447.0,1577.2 1447.5,1600.5 1448.1,1615.3 1448.6,1589.1 1449.2,1630.3 1449.7,1621.6 1450.3,1637.2 1450.8,1642.0 1451.4,1642.0 1451.9,1616.7 1452.5,1617.0 1453.0,1591.7 1453.6,1621.4 1454.2,1642.0 1454.7,1624.3 1455.3,1612.3 1455.8,1627.2 1456.4,1642.0 1456.9,1618.2 1457.5,1606.9 1458.0,1616.6 1458.6,1634.8 1459.1,1621.6 1459.7,1632.6 1460.2,1631.7 1460.8,1631.0 1461.4,1608.3 1461.9,1626.5 1462.5,1637.4 1463.0,1611.7 1463.6,1615.0 1464.1,1625.0 1464.7,1628.8 1465.2,1606.2 1465.8,1613.8 1466.3,1579.3 1466.9,1585.9 1467.4,1598.5 1468.0,1635.1 1468.6,1642.0 1469.1,1634.4 1469.7,1642.0 1470.2,1642.0 1470.8,1642.0 1471.3,1642.0 1471.9,1622.9 1472.4,1642.0 1473.0,1613.9 1473.5,1630.3 1474.1,1633.4 1474.6,1617.5 1475.2,1620.9 1475.8,1616.0 1476.3,1641.0 1476.9,1642.0 1477.4,1642.0 1478.0,1642.0 1478.5,1642.0 1479.1,1618.4 1479.6,1626.1 1480.2,1641.4 1480.7,1642.0 1481.3,1642.0 1481.8,1634.9 1482.4,1642.0 1482.9,1636.6 1483.5,1642.0 1484.1,1633.7 1484.6,1634.9 1485.2,1615.4 1485.7,1606.3 1486.3,1620.9 1486.8,1628.3 1487.4,1618.5 1487.9,1596.0 1488.5,1589.7 1489.0,1598.5 1489.6,1583.8 1490.1,1554.9 1490.7,1548.3 1491.3,1593.2 1491.8,1619.7 1492.4,1601.3 1492.9,1619.5 1493.5,1629.3 1494.0,1642.0 1494.6,1633.6 1495.1,1612.6 1495.7,1591.9 1496.2,1634.2 1496.8,1641.7 1497.3,1583.7 1497.9,1581.0 1498.5,1605.1 1499.0,1584.1 1499.6,1569.1 1500.1,1585.9 1500.7,1597.4 1501.2,1642.0 1501.8,1614.7 1502.3,1627.0 1502.9,1642.0 1503.4,1625.9 1504.0,1616.6 1504.5,1632.2 1505.1,1632.5 1505.7,1642.0 1506.2,1642.0 1506.8,1624.0 1507.3,1599.5 1507.9,1611.2 1508.4,1618.9 1509.0,1632.2 1509.5,1633.6 1510.1,1642.0 1510.6,1606.3 1511.2,1624.9 1511.7,1626.0 1512.3,1625.6 1512.8,1642.0 1513.4,1606.9 1514.0,1620.4 1514.5,1642.0 1515.1,1632.6 1515.6,1642.0 1516.2,1635.0 1516.7,1642.0 1517.3,1626.5 1517.8,1623.6 1518.4,1642.0 1518.9,1621.8 1519.5,1617.8 1520.0,1642.0 1520.6,1631.0 1521.2,1618.9 1521.7,1594.5 1522.3,1629.2 1522.8,1620.9 1523.4,1623.9 1523.9,1619.1 1524.5,1628.4 1525.0,1631.6 1525.6,1620.8 1526.1,1642.0 1526.7,1642.0 1527.2,1642.0 1527.8,1636.1 1528.4,1630.5 1528.9,1617.2 1529.5,1627.3 1530.0,1610.3 1530.6,1620.2 1531.1,1626.8 1531.7,1613.7 1532.2,1612.3 1532.8,1625.4 1533.3,1626.8 1533.9,1639.9 1534.4,1642.0 1535.0,1631.1 1535.6,1613.8 1536.1,1629.3 1536.7,1617.4 1537.2,1589.5 1537.8,1577.8 1538.3,1611.5 1538.9,1610.2 1539.4,1609.8 1540.0,1610.2 1540.5,1608.0 1541.1,1612.8 1541.6,1610.1 1542.2,1618.3 1542.7,1630.5 1543.3,1625.3 1543.9,1617.5 1544.4,1603.6 1545.0,1612.2 1545.5,1612.4 1546.1,1598.4 1546.6,1632.3 1547.2,1638.7 1547.7,1620.5 1548.3,1623.0 1548.8,1642.0 1549.4,1618.6 1549.9,1621.3 1550.5,1642.0 1551.1,1603.6 1551.6,1634.6 1552.2,1637.2 1552.7,1638.6 1553.3,1630.7 1553.8,1617.4 1554.4,1636.8 1554.9,1635.3 1555.5,1630.4 1556.0,1642.0 1556.6,1615.8 1557.1,1616.1 1557.7,1631.0 1558.3,1640.6 1558.8,1637.9 1559.4,1627.7 1559.9,1634.0 1560.5,1610.4 1561.0,1642.0 1561.6,1642.0 1562.1,1642.0 1562.7,1642.0 1563.2,1642.0 1563.8,1638.7 1564.3,1622.8 1564.9,1616.4 1565.5,1603.0 1566.0,1602.7 1566.6,1600.1 1567.1,1609.5 1567.7,1606.0 1568.2,1611.2 1568.8,1633.2 1569.3,1642.0 1569.9,1642.0 1570.4,1628.1 1571.0,1642.0 1571.5,1641.7 1572.1,1638.0 1572.7,1620.6 1573.2,1618.3 1573.8,1637.6 1574.3,1632.1 1574.9,1642.0 1575.4,1639.0 1576.0,1617.2 1576.5,1642.0 1577.1,1626.1 1577.6,1622.2 1578.2,1624.5 1578.7,1642.0 1579.3,1626.9 1579.8,1612.4 1580.4,1622.1 1581.0,1642.0 1581.5,1620.7 1582.1,1600.1 1582.6,1610.1 1583.2,1606.4 1583.7,1627.5 1584.3,1626.9 1584.8,1617.8 1585.4,1619.7 1585.9,1578.1 1586.5,1597.1 1587.0,1630.1 1587.6,1614.5 1588.2,1635.0 1588.7,1625.1 1589.3,1607.8 1589.8,1624.8 1590.4,1630.8 1590.9,1639.0 1591.5,1625.8 1592.0,1630.4 1592.6,1597.0 1593.1,1596.3 1593.7,1617.4 1594.2,1641.9 1594.8,1594.2 1595.4,1580.0 1595.9,1597.3 1596.5,1606.3 1597.0,1607.1 1597.6,1615.7 1598.1,1580.7 1598.7,1588.3 1599.2,1624.0 1599.8,1620.3 1600.3,1641.8 1600.9,1599.8 1601.4,1570.0 1602.0,1547.4 1602.6,1527.7 1603.1,1562.3 1603.7,1551.8 1604.2,1519.6 1604.8,1500.3 1605.3,1500.2 1605.9,1465.9 1606.4,1461.2 1607.0,1458.0 1607.5,1461.9 1608.1,1495.6 1608.6,1521.4 1609.2,1537.9 1609.7,1556.1 1610.3,1562.1 1610.9,1553.6 1611.4,1554.6 1612.0,1591.2 1612.5,1591.2 1613.1,1591.2 1613.6,1595.3 1614.2,1591.2 1614.7,1591.2 1615.3,1599.0 1615.8,1613.6 1616.4,1608.6 1616.9,1606.2 1617.5,1591.4 1618.1,1592.9 1618.6,1576.7 1619.2,1596.0 1619.7,1597.1 1620.3,1602.6 1620.8,1618.8 1621.4,1595.4 1621.9,1600.8 1622.5,1602.8 1623.0,1615.2 1623.6,1607.0 1624.1,1602.5 1624.7,1616.4 1625.3,1642.0 1625.8,1620.0 1626.4,1604.4 1626.9,1614.0 1627.5,1617.2 1628.0,1619.1 1628.6,1619.3 1629.1,1637.9 1629.7,1631.8 1630.2,1619.6 1630.8,1631.7 1631.3,1642.0 1631.9,1602.7 1632.5,1602.5 1633.0,1625.8 1633.6,1635.2 1634.1,1642.0 1634.7,1642.0 1635.2,1639.7 1635.8,1607.7 1636.3,1642.0 1636.9,1642.0 1637.4,1601.4 1638.0,1602.6 1638.5,1615.3 1639.1,1605.1 1639.6,1620.1 1640.2,1630.3 1640.8,1616.9 1641.3,1608.7 1641.9,1637.5 1642.4,1610.7 1643.0,1642.0 1643.5,1642.0 1644.1,1584.4 1644.6,1613.7 1645.2,1620.6 1645.7,1638.2 1646.3,1639.2 1646.8,1640.7 1647.4,1638.5 1648.0,1620.0 1648.5,1595.9 1649.1,1601.8 1649.6,1597.4 1650.2,1624.5 1650.7,1608.5 1651.3,1608.7 1651.8,1602.6 1652.4,1624.6 1652.9,1634.1 1653.5,1608.3 1654.0,1608.9 1654.6,1621.9 1655.2,1637.6 1655.7,1634.2 1656.3,1621.2 1656.8,1613.6 1657.4,1631.6 1657.9,1637.2 1658.5,1624.0 1659.0,1642.0 1659.6,1621.6 1660.1,1622.1 1660.7,1630.7 1661.2,1642.0 1661.8,1642.0 1662.4,1642.0 1662.9,1642.0 1663.5,1642.0 1664.0,1631.1 1664.6,1624.7 1665.1,1632.5 1665.7,1642.0 1666.2,1622.1 1666.8,1624.1 1667.3,1622.3 1667.9,1635.6 1668.4,1634.1 1669.0,1618.9 1669.6,1621.1 1670.1,1613.2 1670.7,1625.6 1671.2,1600.5 1671.8,1642.0 1672.3,1642.0 1672.9,1618.4 1673.4,1626.6 1674.0,1637.9 1674.5,1642.0 1675.1,1623.4 1675.6,1642.0 1676.2,1634.6 1676.7,1623.0 1677.3,1614.8 1677.9,1601.3 1678.4,1629.9 1679.0,1642.0 1679.5,1639.4 1680.1,1642.0 1680.6,1628.1 1681.2,1629.1 1681.7,1628.8 1682.3,1642.0 1682.8,1635.4 1683.4,1636.8 1683.9,1632.2 1684.5,1642.0 1685.1,1616.9 1685.6,1626.2 1686.2,1642.0 1686.7,1625.0 1687.3,1612.5 1687.8,1621.2 1688.4,1590.3 1688.9,1583.7 1689.5,1626.3 1690.0,1630.5 1690.6,1615.8 1691.1,1621.7 1691.7,1606.1 1692.3,1600.5 1692.8,1630.5 1693.4,1631.4 1693.9,1617.3 1694.5,1629.4 1695.0,1637.5 1695.6,1617.9 1696.1,1615.4 1696.7,1642.0 1697.2,1642.0 1697.8,1637.8 1698.3,1632.4 1698.9,1639.1 1699.5,1612.2 1700.0,1632.5 1700.6,1642.0 1701.1,1630.3 1701.7,1642.0 1702.2,1642.0 1702.8,1621.2 1703.3,1637.7 1703.9,1641.8 1704.4,1607.5 1705.0,1600.7 1705.5,1606.1 1706.1,1599.2 1706.6,1601.6 1707.2,1578.5 1707.8,1559.4 1708.3,1528.1 1708.9,1525.0 1709.4,1538.1 1710.0,1561.4 1710.5,1578.1 1711.1,1613.2 1711.6,1624.5 1712.2,1592.9 1712.7,1625.2 1713.3,1635.9 1713.8,1609.2 1714.4,1593.2 1715.0,1628.7 1715.5,1610.0 1716.1,1621.2 1716.6,1604.3 1717.2,1608.5 1717.7,1628.1 1718.3,1618.8 1718.8,1614.9 1719.4,1635.8 1719.9,1602.0 1720.5,1619.5 1721.0,1614.2 1721.6,1628.5 1722.2,1642.0 1722.7,1642.0 1723.3,1638.2 1723.8,1620.1 1724.4,1599.2 1724.9,1616.7 1725.5,1633.1 1726.0,1642.0 1726.6,1638.4 1727.1,1625.6 1727.7,1642.0 1728.2,1625.1 1728.8,1604.4 1729.4,1588.8 1729.9,1627.7 1730.5,1634.5 1731.0,1628.4 1731.6,1642.0 1732.1,1642.0 1732.7,1642.0 1733.2,1623.0 1733.8,1609.5 1734.3,1584.6 1734.9,1578.8 1735.4,1572.1 1736.0,1609.9 1736.5,1611.0 1737.1,1612.2 1737.7,1604.3 1738.2,1628.4 1738.8,1621.1 1739.3,1638.7 1739.9,1634.0 1740.4,1619.0 1741.0,1627.3 1741.5,1627.9 1742.1,1642.0 1742.6,1642.0 1743.2,1632.7 1743.7,1642.0 1744.3,1642.0 1744.9,1601.3 1745.4,1611.4 1746.0,1641.1 1746.5,1642.0 1747.1,1617.9 1747.6,1642.0 1748.2,1642.0 1748.7,1625.4 1749.3,1636.5 1749.8,1628.7 1750.4,1642.0 1750.9,1639.8 1751.5,1632.4 1752.1,1632.5 1752.6,1630.9 1753.2,1631.6 1753.7,1616.9 1754.3,1629.8 1754.8,1642.0 1755.4,1641.1 1755.9,1639.5 1756.5,1642.0 1757.0,1642.0 1757.6,1642.0 1758.1,1638.1 1758.7,1641.2 1759.3,1642.0 1759.8,1595.3 1760.4,1599.1 1760.9,1629.4 1761.5,1642.0 1762.0,1618.1 1762.6,1635.9 1763.1,1621.0 1763.7,1617.4 1764.2,1610.2 1764.8,1635.1 1765.3,1625.5 1765.9,1642.0 1766.5,1642.0 1767.0,1619.5 1767.6,1617.0 1768.1,1642.0 1768.7,1635.7 1769.2,1623.0 1769.8,1631.8 1770.3,1642.0 1770.9,1642.0 1771.4,1642.0 1772.0,1624.1 1772.5,1621.2 1773.1,1615.8 1773.6,1617.3 1774.2,1642.0 1774.8,1640.1 1775.3,1602.8 1775.9,1635.9 1776.4,1637.0 1777.0,1642.0 1777.5,1642.0 1778.1,1636.5 1778.6,1619.6 1779.2,1617.3 1779.7,1622.6 1780.3,1617.7 1780.8,1642.0 1781.4,1632.7 1782.0,1623.1 1782.5,1634.0 1783.1,1635.3 1783.6,1642.0 1784.2,1623.0 1784.7,1637.2 1785.3,1642.0 1785.8,1642.0 1786.4,1642.0 1786.9,1638.6 1787.5,1613.3 1788.0,1626.4 1788.6,1633.1 1789.2,1601.5 1789.7,1639.3 1790.3,1637.6 1790.8,1615.3 1791.4,1605.4 1791.9,1593.0 1792.5,1628.9 1793.0,1629.4 1793.6,1631.2 1794.1,1640.6 1794.7,1642.0 1795.2,1642.0 1795.8,1638.1 1796.4,1621.0 1796.9,1642.0 1797.5,1629.5 1798.0,1636.3 1798.6,1642.0 1799.1,1642.0 1799.7,1634.2 1800.2,1616.2 1800.8,1632.7 1801.3,1639.9 1801.9,1642.0 1802.4,1632.9 1803.0,1629.0 1803.5,1623.3 1804.1,1623.1 1804.7,1642.0 1805.2,1642.0 1805.8,1611.2 1806.3,1566.8 1806.9,1585.1 1807.4,1592.5 1808.0,1631.7 1808.5,1623.3 1809.1,1621.8 1809.6,1619.2 1810.2,1631.3 1810.7,1627.1 1811.3,1609.6 1811.9,1578.1 1812.4,1571.4 1813.0,1585.1 1813.5,1630.6 1814.1,1627.1 1814.6,1634.5 1815.2,1634.1 1815.7,1626.7 1816.3,1615.6 1816.8,1616.8 1817.4,1625.0 1817.9,1631.1 1818.5,1613.3 1819.1,1635.5 1819.6,1636.7 1820.2,1612.7 1820.7,1626.0 1821.3,1621.7 1821.8,1614.6 1822.4,1599.4 1822.9,1604.3 1823.5,1642.0 1824.0,1642.0 1824.6,1628.1 1825.1,1619.1 1825.7,1621.9 1826.3,1604.1 1826.8,1605.7 1827.4,1641.8 1827.9,1642.0 1828.5,1642.0 1829.0,1621.8 1829.6,1623.9 1830.1,1635.7 1830.7,1642.0 1831.2,1642.0 1831.8,1630.3 1832.3,1636.6 1832.9,1641.7 1833.4,1642.0 1834.0,1610.7 1834.6,1629.5 1835.1,1642.0 1835.7,1642.0 1836.2,1642.0 1836.8,1638.1 1837.3,1638.7 1837.9,1642.0 1838.4,1642.0 1839.0,1631.0 1839.5,1642.0 1840.1,1616.7 1840.6,1599.7 1841.2,1642.0 1841.8,1642.0 1842.3,1623.7 1842.9,1610.7 1843.4,1602.5 1844.0,1642.0 1844.5,1642.0 1845.1,1642.0 1845.6,1630.9 1846.2,1642.0 1846.7,1635.9 1847.3,1626.3 1847.8,1622.4 1848.4,1642.0 1849.0,1640.2 1849.5,1632.7 1850.1,1640.1 1850.6,1619.5 1851.2,1630.7 1851.7,1616.6 1852.3,1633.7 1852.8,1614.8 1853.4,1601.3 1853.9,1635.4 1854.5,1634.6 1855.0,1627.7 1855.6,1642.0 1856.2,1629.2 1856.7,1620.8 1857.3,1642.0 1857.8,1637.6 1858.4,1620.7 1858.9,1630.1 1859.5,1642.0 1860.0,1615.1 1860.6,1636.3 1861.1,1634.1 1861.7,1615.0 1862.2,1614.3 1862.8,1642.0 1863.4,1642.0 1863.9,1630.3 1864.5,1620.2 1865.0,1584.9 1865.6,1605.1 1866.1,1621.0 1866.7,1624.9 1867.2,1615.2 1867.8,1608.0 1868.3,1642.0 1868.9,1613.6 1869.4,1626.0 1870.0,1624.6 1870.5,1642.0 1871.1,1642.0 1871.7,1642.0 1872.2,1624.8 1872.8,1613.2 1873.3,1626.4 1873.9,1634.2 1874.4,1627.7 1875.0,1642.0 1875.5,1642.0 1876.1,1642.0 1876.6,1625.5 1877.2,1626.6 1877.7,1642.0 1878.3,1635.1 1878.9,1622.7 1879.4,1609.9 1880.0,1631.0 1880.5,1629.8 1881.1,1601.2 1881.6,1623.6 1882.2,1638.9 1882.7,1627.3 1883.3,1635.7 1883.8,1635.0 1884.4,1638.8 1884.9,1642.0 1885.5,1624.9 1886.1,1631.8 1886.6,1642.0 1887.2,1642.0 1887.7,1635.8 1888.3,1628.9 1888.8,1617.6 1889.4,1602.4 1889.9,1638.0 1890.5,1642.0 1891.0,1642.0 1891.6,1640.4 1892.1,1623.9 1892.7,1638.0 1893.3,1642.0 1893.8,1642.0 1894.4,1642.0 1894.9,1633.2 1895.5,1603.0 1896.0,1636.4 1896.6,1617.6 1897.1,1624.4 1897.7,1642.0 1898.2,1633.7 1898.8,1619.2 1899.3,1623.0 1899.9,1634.1 1900.4,1612.1 1901.0,1626.7 1901.6,1626.2 1902.1,1620.5 1902.7,1641.3 1903.2,1642.0 1903.8,1642.0 1904.3,1642.0 1904.9,1630.9 1905.4,1642.0 1906.0,1642.0 1906.5,1617.1 1907.1,1642.0 1907.6,1638.1 1908.2,1625.9 1908.8,1620.7 1909.3,1642.0 1909.9,1637.9 1910.4,1642.0 1911.0,1624.0 1911.5,1637.1 1912.1,1633.7 1912.6,1642.0 1913.2,1636.6 1913.7,1642.0 1914.3,1639.1 1914.8,1623.8 1915.4,1630.1 1916.0,1612.0 1916.5,1618.9 1917.1,1620.8 1917.6,1622.1 1918.2,1605.3 1918.7,1631.1 1919.3,1641.2 1919.8,1638.1 1920.4,1626.5 1920.9,1626.2 1921.5,1620.6 1922.0,1624.3 1922.6,1638.3 1923.2,1637.0 1923.7,1627.4 1924.3,1642.0 1924.8,1627.3 1925.4,1630.6 1925.9,1637.9 1926.5,1623.8 1927.0,1591.7 1927.6,1633.1 1928.1,1636.9 1928.7,1612.3 1929.2,1608.7 1929.8,1608.9 1930.3,1632.1 1930.9,1638.6 1931.5,1619.6 1932.0,1606.2 1932.6,1623.1 1933.1,1642.0 1933.7,1642.0 1934.2,1625.1 1934.8,1642.0 1935.3,1635.9 1935.9,1617.8 1936.4,1583.1 1937.0,1610.0 1937.5,1632.7 1938.1,1626.7 1938.7,1622.5 1939.2,1610.9 1939.8,1614.7 1940.3,1638.2 1940.9,1642.0 1941.4,1640.8 1942.0,1639.3 1942.5,1617.0 1943.1,1641.1 1943.6,1637.2 1944.2,1640.6 1944.7,1642.0 1945.3,1614.7 1945.9,1619.4 1946.4,1633.3 1947.0,1622.9 1947.5,1638.0 1948.1,1641.6 1948.6,1642.0 1949.2,1608.9 1949.7,1615.3 1950.3,1621.3 1950.8,1612.9 1951.4,1627.6 1951.9,1635.1 1952.5,1642.0 1953.1,1635.4 1953.6,1625.4 1954.2,1635.9 1954.7,1618.1 1955.3,1642.0 1955.8,1637.1 1956.4,1642.0 1956.9,1642.0 1957.5,1641.8 1958.0,1615.1 1958.6,1639.9 1959.1,1642.0 1959.7,1642.0 1960.3,1612.0 1960.8,1612.6 1961.4,1623.2 1961.9,1601.4 1962.5,1615.9 1963.0,1642.0 1963.6,1642.0 1964.1,1642.0 1964.7,1611.8 1965.2,1638.8 1965.8,1636.5 1966.3,1637.1 1966.9,1641.1 1967.4,1634.4 1968.0,1633.6 1968.6,1642.0 1969.1,1642.0 1969.7,1642.0 1970.2,1642.0 1970.8,1642.0 1971.3,1635.9 1971.9,1633.3 1972.4,1626.4 1973.0,1632.3 1973.5,1607.4 1974.1,1630.2 1974.6,1642.0 1975.2,1624.2 1975.8,1635.3 1976.3,1634.6 1976.9,1617.9 1977.4,1627.3 1978.0,1637.4 1978.5,1621.0 1979.1,1621.5 1979.6,1637.0 1980.2,1642.0 1980.7,1642.0 1981.3,1642.0 1981.8,1642.0 1982.4,1642.0 1983.0,1633.6 1983.5,1618.1 1984.1,1632.7 1984.6,1634.1 1985.2,1628.9 1985.7,1592.4 1986.3,1638.4 1986.8,1623.6 1987.4,1620.5 1987.9,1620.2 1988.5,1631.5 1989.0,1642.0 1989.6,1635.8 1990.2,1608.4 1990.7,1611.5 1991.3,1614.2 1991.8,1611.6 1992.4,1589.1 1992.9,1611.3 1993.5,1608.9 1994.0,1611.5 1994.6,1617.7 1995.1,1629.4 1995.7,1637.2 1996.2,1642.0 1996.8,1630.6 1997.3,1632.4 1997.9,1642.0 1998.5,1642.0 1999.0,1642.0 1999.6,1617.3 2000.1,1625.3 2000.7,1631.7 2001.2,1642.0 2001.8,1642.0 2002.3,1623.8 2002.9,1628.4 2003.4,1630.0 2004.0,1605.5 2004.5,1592.3 2005.1,1609.6 2005.7,1620.8 2006.2,1625.3 2006.8,1633.8 2007.3,1605.9 2007.9,1635.4 2008.4,1639.9 2009.0,1642.0 2009.5,1642.0 2010.1,1633.4 2010.6,1622.6 2011.2,1623.8 2011.7,1633.4 2012.3,1642.0 2012.9,1642.0 2013.4,1639.3 2014.0,1618.4 2014.5,1604.6 2015.1,1615.9 2015.6,1635.1 2016.2,1642.0 2016.7,1631.9 2017.3,1631.4 2017.8,1642.0 2018.4,1622.4 2018.9,1621.3 2019.5,1633.5 2020.1,1642.0 2020.6,1642.0 2021.2,1621.2 2021.7,1634.6 2022.3,1631.0 2022.8,1616.6 2023.4,1595.9 2023.9,1603.6 2024.5,1617.3 2025.0,1623.1 2025.6,1602.8 2026.1,1583.3 2026.7,1583.6 2027.2,1559.5 2027.8,1552.8 2028.4,1603.2 2028.9,1619.7 2029.5,1599.3 2030.0,1583.4 2030.6,1641.6 2031.1,1608.2 2031.7,1638.2 2032.2,1606.7 2032.8,1637.7 2033.3,1629.0 2033.9,1610.6 2034.4,1615.5 2035.0,1605.8 2035.6,1600.1 2036.1,1599.4 2036.7,1594.8 2037.2,1598.8 2037.8,1625.7 2038.3,1637.1 2038.9,1610.7 2039.4,1607.1 2040.0,1639.0 2040.5,1642.0 2041.1,1635.6 2041.6,1631.7 2042.2,1600.6 2042.8,1624.0 2043.3,1624.4 2043.9,1642.0 2044.4,1642.0 2045.0,1620.7 2045.5,1611.1 2046.1,1642.0 2046.6,1626.3 2047.2,1615.4 2047.7,1614.2 2048.3,1627.1 2048.8,1631.4 2049.4,1642.0 2050.0,1632.7 2050.5,1616.8 2051.1,1637.9 2051.6,1631.6 2052.2,1635.8 2052.7,1620.3 2053.3,1611.8 2053.8,1642.0 2054.4,1639.2 2054.9,1615.0 2055.5,1632.6 2056.0,1637.5 2056.6,1634.6 2057.2,1642.0 2057.7,1639.8 2058.3,1611.5 2058.8,1615.8 2059.4,1608.4 2059.9,1609.2 2060.5,1609.7 2061.0,1622.7 2061.6,1620.5 2062.1,1600.2 2062.7,1600.0 2063.2,1618.5 2063.8,1638.9 2064.3,1642.0 2064.9,1633.9 2065.5,1624.4 2066.0,1642.0 2066.6,1639.7 2067.1,1625.7 2067.7,1625.6 2068.2,1637.1 2068.8,1604.5 2069.3,1606.4 2069.9,1642.0 2070.4,1642.0 2071.0,1625.3 2071.5,1620.1 2072.1,1626.9 2072.7,1631.2 2073.2,1634.5 2073.8,1638.6 2074.3,1642.0 2074.9,1629.6 2075.4,1642.0 2076.0,1642.0 2076.5,1617.3 2077.1,1630.3 2077.6,1642.0 2078.2,1593.8 2078.7,1584.9 2079.3,1607.6 2079.9,1631.6 2080.4,1634.1 2081.0,1635.6 2081.5,1636.0 2082.1,1642.0 2082.6,1629.0 2083.2,1636.1 2083.7,1642.0 2084.3,1642.0 2084.8,1640.2 2085.4,1642.0 2085.9,1642.0 2086.5,1627.8 2087.1,1617.5 2087.6,1636.3 2088.2,1642.0 2088.7,1629.5 2089.3,1612.1 2089.8,1633.3 2090.4,1631.5 2090.9,1639.0 2091.5,1632.7 2092.0,1642.0 2092.6,1642.0 2093.1,1642.0 2093.7,1633.8 2094.2,1624.4 2094.8,1637.9 2095.4,1619.4 2095.9,1624.1 2096.5,1612.8 2097.0,1628.9 2097.6,1615.8 2098.1,1625.5 2098.7,1632.0 2099.2,1620.1 2099.8,1642.0 2100.3,1642.0 2100.9,1615.8 2101.4,1642.0 2102.0,1642.0 2102.6,1629.3 2103.1,1611.2 2103.7,1631.5 2104.2,1634.8 2104.8,1642.0 2105.3,1642.0 2105.9,1622.4 2106.4,1623.2 2107.0,1631.9 2107.5,1628.1 2108.1,1629.1 2108.6,1630.4 2109.2,1637.0 2109.8,1642.0 2110.3,1630.3 2110.9,1642.0 2111.4,1626.8 2112.0,1599.7 2112.5,1601.1 2113.1,1594.3 2113.6,1633.2 2114.2,1636.1 2114.7,1642.0 2115.3,1642.0 2115.8,1642.0 2116.4,1642.0 2117.0,1629.1 2117.5,1619.0 2118.1,1613.3 2118.6,1611.3 2119.2,1616.2 2119.7,1638.7 2120.3,1639.0 2120.8,1623.9 2121.4,1612.3 2121.9,1630.3 2122.5,1641.2 2123.0,1641.2 2123.6,1614.5 2124.1,1616.0 2124.7,1633.3 2125.3,1642.0 2125.8,1631.3 2126.4,1642.0 2126.9,1642.0 2127.5,1641.1 2128.0,1642.0 2128.6,1633.2 2129.1,1625.8 2129.7,1590.7 2130.2,1613.3 2130.8,1622.7 2131.3,1638.6 2131.9,1642.0 2132.5,1627.1 2133.0,1600.3 2133.6,1633.6 2134.1,1638.8 2134.7,1618.2 2135.2,1624.4 2135.8,1642.0 2136.3,1632.9 2136.9,1628.0 2137.4,1623.5 2138.0,1640.1 2138.5,1626.2 2139.1,1613.5 2139.7,1635.2 2140.2,1629.8 2140.8,1637.2 2141.3,1642.0 2141.9,1642.0 2142.4,1642.0 2143.0,1642.0 2143.5,1620.8 2144.1,1628.0 2144.6,1642.0 2145.2,1620.8 2145.7,1617.0 2146.3,1616.0 2146.9,1626.9 2147.4,1623.2 2148.0,1629.0 2148.5,1642.0 2149.1,1635.8 2149.6,1629.2 2150.2,1629.1 2150.7,1620.1 2151.3,1642.0 2151.8,1637.7 2152.4,1640.0 2152.9,1639.7 2153.5,1627.4 2154.1,1628.0 2154.6,1639.6 2155.2,1625.5 2155.7,1627.7 2156.3,1619.6 2156.8,1610.1 2157.4,1628.6 2157.9,1642.0 2158.5,1636.2 2159.0,1620.1 2159.6,1622.2 2160.1,1642.0 2160.7,1642.0 2161.2,1642.0 2161.8,1642.0 2162.4,1628.2 2162.9,1626.2 2163.5,1619.0 2164.0,1626.5 2164.6,1609.6 2165.1,1620.5 2165.7,1623.0 2166.2,1632.0 2166.8,1626.5 2167.3,1613.4 2167.9,1613.5 2168.4,1608.7 2169.0,1629.4 2169.6,1626.5 2170.1,1604.3 2170.7,1615.2 2171.2,1628.4 2171.8,1631.2 2172.3,1634.8 2172.9,1627.5 2173.4,1607.4 2174.0,1611.5 2174.5,1622.2 2175.1,1640.6 2175.6,1641.7 2176.2,1634.6 2176.8,1613.6 2177.3,1621.8 2177.9,1625.0 2178.4,1619.2 2179.0,1640.6 2179.5,1640.5 2180.1,1627.6 2180.6,1616.4 2181.2,1612.3 2181.7,1612.3 2182.3,1605.5 2182.8,1618.5 2183.4,1640.5 2184.0,1624.5 2184.5,1642.0 2185.1,1642.0 2185.6,1640.2 2186.2,1636.8 2186.7,1628.7 2187.3,1607.4 2187.8,1628.3 2188.4,1622.1 2188.9,1617.9 2189.5,1631.1 2190.0,1641.5 2190.6,1624.8 2191.1,1617.3 2191.7,1628.0 2192.3,1630.8 2192.8,1628.5 2193.4,1642.0 2193.9,1634.6 2194.5,1624.6 2195.0,1605.9 2195.6,1635.7 2196.1,1642.0 2196.7,1634.1 2197.2,1637.3 2197.8,1639.0 2198.3,1633.0 2198.9,1634.6 2199.5,1633.2 2200.0,1626.0 2200.6,1642.0 2201.1,1633.5 2201.7,1642.0 2202.2,1623.0 2202.8,1610.7 2203.3,1634.0 2203.9,1622.5 2204.4,1627.9 2205.0,1627.2 2205.5,1620.1 2206.1,1623.3 2206.7,1629.9 2207.2,1624.2 2207.8,1630.7 2208.3,1637.5 2208.9,1642.0 2209.4,1642.0 2210.0,1622.4 2210.5,1613.6 2211.1,1642.0 2211.6,1634.8 2212.2,1627.2 2212.7,1642.0 2213.3,1642.0 2213.9,1637.8 2214.4,1611.5 2215.0,1609.1 2215.5,1610.5 2216.1,1621.1 2216.6,1618.0 2217.2,1640.8 2217.7,1630.9 2218.3,1619.6 2218.8,1642.0 2219.4,1635.8 2219.9,1611.9 2220.5,1600.0 2221.0,1604.0 2221.6,1632.7 2222.2,1636.8 2222.7,1638.6 2223.3,1619.6 2223.8,1635.4 2224.4,1642.0 2224.9,1642.0 2225.5,1638.3 2226.0,1625.4 2226.6,1636.7 2227.1,1642.0 2227.7,1638.2 2228.2,1616.4 2228.8,1640.8 2229.4,1639.6 2229.9,1629.4 2230.5,1626.0 2231.0,1614.4 2231.6,1614.7 2232.1,1623.8 2232.7,1612.4 2233.2,1609.8 2233.8,1621.9 2234.3,1627.2 2234.9,1642.0 2235.4,1636.6 2236.0,1640.5"/>
<polyline fill="none" stroke="#ff0000" stroke-width="3" stroke-linejoin="miter" stroke-miterlimit="2" points="408.7,1102.5 409.3,1108.2 409.9,1114.8 410.4,1116.5 411.0,1111.6 411.5,1072.4 412.1,1095.6 412.6,1099.7 413.2,1093.0 413.7,1107.6 414.3,1099.9 414.8,1097.3 415.4,1111.6 415.9,1116.5 416.5,1108.3 417.0,1100.7 417.6,1099.7 418.2,1105.2 418.7,1109.8 419.3,1112.9 419.8,1105.1 420.4,1093.3 420.9,1098.9 421.5,1096.4 422.0,1111.1 422.6,1107.0 423.1,1073.4 423.7,1099.9 424.2,1116.5 424.8,1116.5 425.4,1111.8 425.9,1093.9 426.5,1091.3 427.0,1084.7 427.6,1094.3 428.1,1099.1 428.7,1103.3 429.2,1096.8 429.8,1107.4 430.3,1116.5 430.9,1106.5 431.4,1082.0 432.0,1093.1 432.6,1116.5 433.1,1116.5 433.7,1100.0 434.2,1096.4 434.8,1092.5 435.3,1110.5 435.9,1112.7 436.4,1080.6 437.0,1108.7 437.5,1116.5 438.1,1089.4 438.6,1090.1 439.2,1092.5 439.8,1067.2 440.3,1075.2 440.9,1104.5 441.4,1116.1 442.0,1105.8 442.5,1099.5 443.1,1108.6 443.6,1107.6 444.2,1098.4 444.7,1109.0 445.3,1116.5 445.8,1116.5 446.4,1116.5 446.9,1090.3 447.5,1086.9 448.1,1087.8 448.6,1112.7 449.2,1107.3 449.7,1100.0 450.3,1116.5 450.8,1116.5 451.4,1094.6 451.9,1080.9 452.5,1095.8 453.0,1102.8 453.6,1115.1 454.1,1102.1 454.7,1095.6 455.3,1114.0 455.8,1114.3 456.4,1115.9 456.9,1112.3 457.5,1089.7 458.0,1101.1 458.6,1097.8 459.1,1095.9 459.7,1110.1 460.2,1111.9 460.8,1116.1 461.3,1106.3 461.9,1108.6 462.5,1116.5 463.0,1116.5 463.6,1116.5 464.1,1116.5 464.7,1116.5 465.2,1102.8 465.8,1089.7 466.3,1087.0 466.9,1069.7 467.4,1073.4 468.0,1105.8 468.5,1088.5 469.1,1095.1 469.7,1105.2 470.2,1104.1 470.8,1111.0 471.3,1116.5 471.9,1116.2 472.4,1096.0 473.0,1116.5 473.5,1096.3 474.1,1077.0 474.6,1095.2 475.2,1112.1 475.7,1113.1 476.3,1106.6 476.8,1098.0 477.4,1087.2 478.0,1102.8 478.5,1116.5 479.1,1116.3 479.6,1116.5 480.2,1116.5 480.7,1111.9 481.3,1097.5 481.8,1081.7 482.4,1098.5 482.9,1107.1 483.5,1103.0 484.0,1085.9 484.6,1081.5 485.2,1099.1 485.7,1109.1 486.3,1116.5 486.8,1111.0 487.4,1106.2 487.9,1104.5 488.5,1116.5 489.0,1114.3 489.6,1106.8 490.1,1094.9 490.7,1088.1 491.2,1095.1 491.8,1107.5 492.4,1115.0 492.9,1109.3 493.5,1116.5 494.0,1109.3 494.6,1107.4 495.1,1104.7 495.7,1092.8 496.2,1088.4 496.8,1097.8 497.3,1116.5 497.9,1116.5 498.4,1115.4 499.0,1116.5 499.6,1116.5 500.1,1098.3 500.7,1109.6 501.2,1096.2 501.8,1085.9 502.3,1094.1 502.9,1112.9 503.4,1111.9 504.0,1096.7 504.5,1110.1 505.1,1102.3 505.6,1086.6 506.2,1116.5 506.8,1116.5 507.3,1116.5 507.9,1105.5 508.4,1082.1 509.0,1107.4 509.5,1116.5 510.1,1112.9 510.6,1105.6 511.2,1089.5 511.7,1078.4 512.3,1098.8 512.8,1100.7 513.4,1116.5 513.9,1116.5 514.5,1090.7 515.1,1096.2 515.6,1114.0 516.2,1105.6 516.7,1075.4 517.3,1079.5 517.8,1114.3 518.4,1100.3 518.9,1108.8 519.5,1116.5 520.0,1104.8 520.6,1100.0 521.1,1103.0 521.7,1098.5 522.3,1085.5 522.8,1116.5 523.4,1116.5 523.9,1116.5 524.5,1092.8 525.0,1087.7 525.6,1101.7 526.1,1105.8 526.7,1098.1 527.2,1091.2 527.8,1096.4 528.3,1111.8 528.9,1101.5 529.5,1074.8 530.0,1103.1 530.6,1092.4 531.1,1069.4 531.7,1101.1 532.2,1116.5 532.8,1116.5 533.3,1089.9 533.9,1104.2 534.4,1116.5 535.0,1111.3 535.5,1097.6 536.1,1115.8 536.7,1076.6 537.2,1047.0 537.8,1068.5 538.3,1097.9 538.9,1101.4 539.4,1116.5 540.0,1116.5 540.5,1111.0 541.1,1116.5 541.6,1116.5 542.2,1115.6 542.7,1096.4 543.3,1100.6 543.8,1092.0 544.4,1103.4 545.0,1116.5 545.5,1116.5 546.1,1116.5 546.6,1098.4 547.2,1096.2 547.7,1097.5 548.3,1109.2 548.8,1116.5 549.4,1116.5 549.9,1116.5 550.5,1095.6 551.0,1071.3 551.6,1101.1 552.2,1116.5 552.7,1110.9 553.3,1116.5 553.8,1111.7 554.4,1108.8 554.9,1116.2 555.5,1110.0 556.0,1105.3 556.6,1096.6 557.1,1083.6 557.7,1026.1 558.2,1069.1 558.8,1086.9 559.4,1090.6 559.9,1075.6 560.5,1070.1 561.0,1092.4 561.6,1094.5 562.1,1100.3 562.7,1092.5 563.2,1078.6 563.8,1111.1 564.3,1108.9 564.9,1084.1 565.4,1116.5 566.0,1116.5 566.6,1116.5 567.1,1116.5 567.7,1116.5 568.2,1116.5 568.8,1107.7 569.3,1093.3 569.9,1068.9 570.4,1076.9 571.0,1093.9 571.5,1088.4 572.1,1098.6 572.6,1112.9 573.2,1116.5 573.7,1116.5 574.3,1102.6 574.9,1075.5 575.4,1077.3 576.0,1089.8 576.5,1106.4 577.1,1094.4 577.6,1069.2 578.2,1093.0 578.7,1109.0 579.3,1114.3 579.8,1096.8 580.4,1080.6 580.9,1098.5 581.5,1098.5 582.1,1092.2 582.6,1101.6 583.2,1116.5 583.7,1116.5 584.3,1116.5 584.8,1116.3 585.4,1070.5 585.9,1095.4 586.5,1116.5 587.0,1094.8 587.6,1107.6 588.1,1109.8 588.7,1111.0 589.3,1099.3 589.8,1093.3 590.4,1105.8 590.9,1090.8 591.5,1096.7 592.0,1116.5 592.6,1116.5 593.1,1096.2 593.7,1090.7 594.2,1096.6 594.8,1107.7 595.3,1108.3 595.9,1087.0 596.5,1087.8 597.0,1073.7 597.6,1075.9 598.1,1109.4 598.7,1116.5 599.2,1098.8 599.8,1079.8 600.3,1080.2 600.9,1102.3 601.4,1063.4 602.0,1050.9 602.5,1113.7 603.1,1072.2 603.7,1116.0 604.2,1042.4 604.8,1035.7 605.3,1042.4 605.9,1045.0 606.4,1066.2 607.0,1108.8 607.5,1090.5 608.1,1094.4 608.6,1111.6 609.2,1088.5 609.7,1087.3 610.3,1084.7 610.8,1098.6 611.4,1108.6 612.0,1085.3 612.5,1092.6 613.1,1116.5 613.6,1105.0 614.2,1078.8 614.7,1070.7 615.3,1115.8 615.8,1089.5 616.4,1062.4 616.9,1091.6 617.5,1042.0 618.0,1035.4 618.6,1056.6 619.2,1075.6 619.7,1109.8 620.3,1068.0 620.8,1105.5 621.4,1093.4 621.9,1074.3 622.5,1041.5 623.0,1039.4 623.6,1049.2 624.1,1103.4 624.7,1017.9 625.2,1028.9 625.8,1005.2 626.4,1008.4 626.9,1051.2 627.5,1072.3 628.0,1076.1 628.6,1078.6 629.1,1033.3 629.7,1014.4 630.2,1043.5 630.8,1057.0 631.3,1098.2 631.9,1109.8 632.4,1113.1 633.0,1085.0 633.6,1100.2 634.1,1116.5 634.7,1115.1 635.2,1090.1 635.8,1116.5 636.3,1116.5 636.9,1082.4 637.4,1094.8 638.0,1101.2 638.5,1099.4 639.1,1110.8 639.6,1112.1 640.2,1087.1 640.7,1100.0 641.3,1113.3 641.9,1094.6 642.4,1105.8 643.0,1113.2 643.5,1116.5 644.1,1116.5 644.6,1110.2 645.2,1096.7 645.7,1107.5 646.3,1075.9 646.8,1072.2 647.4,1106.4 647.9,1102.5 648.5,1108.8 649.1,1091.1 649.6,1092.1 650.2,1091.8 650.7,1073.1 651.3,1100.8 651.8,1102.1 652.4,1097.6 652.9,1077.9 653.5,1074.8 654.0,1116.5 654.6,1116.5 655.1,1116.5 655.7,1116.5 656.3,1116.5 656.8,1116.5 657.4,1116.5 657.9,1113.0 658.5,1088.1 659.0,1105.5 659.6,1116.5 660.1,1116.5 660.7,1116.5 661.2,1116.5 661.8,1116.5 662.3,1105.0 662.9,1096.7 663.5,1111.3 664.0,1102.0 664.6,1092.5 665.1,1102.2 665.7,1101.0 666.2,1108.1 666.8,1105.3 667.3,1090.2 667.9,1102.3 668.4,1116.5 669.0,1099.5 669.5,1084.2 670.1,1066.4 670.6,1075.1 671.2,1100.7 671.8,1098.2 672.3,1105.2 672.9,1090.4 673.4,1102.7 674.0,1113.6 674.5,1102.4 675.1,1100.0 675.6,1094.9 676.2,1084.3 676.7,1081.5 677.3,1090.4 677.8,1104.2 678.4,1116.5 679.0,1116.5 679.5,1116.5 680.1,1101.4 680.6,1099.5 681.2,1116.5 681.7,1110.4 682.3,1105.3 682.8,1116.5 683.4,1114.8 683.9,1100.4 684.5,1116.5 685.0,1116.5 685.6,1114.3 686.2,1105.5 686.7,1116.5 687.3,1116.5 687.8,1093.5 688.4,1092.5 688.9,1100.4 689.5,1085.8 690.0,1099.4 690.6,1103.4 691.1,1103.5 691.7,1115.7 692.2,1116.5 692.8,1106.3 693.4,1097.8 693.9,1114.5 694.5,1116.5 695.0,1095.5 695.6,1073.7 696.1,1096.3 696.7,1113.1 697.2,1116.5 697.8,1116.5 698.3,1096.7 698.9,1116.5 699.4,1106.3 700.0,1080.8 700.6,1105.6 701.1,1116.5 701.7,1114.9 702.2,1106.6 702.8,1103.3 703.3,1116.5 703.9,1105.4 704.4,1082.6 705.0,1085.0 705.5,1074.1 706.1,1091.2 706.6,1101.9 707.2,1090.9 707.7,1085.9 708.3,1096.4 708.9,1112.6 709.4,1110.3 710.0,1112.4 710.5,1116.5 711.1,1116.5 711.6,1116.5 712.2,1114.5 712.7,1116.5 713.3,1110.6 713.8,1100.4 714.4,1077.7 714.9,1079.0 715.5,1116.5 716.1,1116.5 716.6,1108.9 717.2,1105.8 717.7,1106.8 718.3,1116.5 718.8,1116.5 719.4,1116.5 719.9,1116.5 720.5,1116.5 721.0,1111.5 721.6,1089.6 722.1,1092.9 722.7,1111.3 723.3,1101.1 723.8,1090.4 724.4,1078.5 724.9,1077.9 725.5,1096.9 726.0,1088.1 726.6,1069.9 727.1,1091.2 727.7,1107.2 728.2,1116.5 728.8,1116.5 729.3,1116.5 729.9,1116.3 730.5,1111.6 731.0,1111.1 731.6,1106.6 732.1,1098.9 732.7,1095.0 733.2,1107.4 733.8,1116.5 734.3,1104.1 734.9,1072.4 735.4,1092.2 736.0,1102.2 736.5,1114.8 737.1,1116.5 737.6,1116.5 738.2,1089.4 738.8,1098.5 739.3,1116.5 739.9,1094.4 740.4,1106.8 741.0,1116.5 741.5,1090.2 742.1,1100.2 742.6,1103.7 743.2,1070.5 743.7,1085.9 744.3,1116.5 744.8,1109.9 745.4,1114.3 746.0,1116.5 746.5,1100.5 747.1,1082.2 747.6,1116.5 748.2,1116.5 748.7,1106.9 749.3,1093.9 749.8,1115.6 750.4,1116.5 750.9,1101.4 751.5,1095.7 752.0,1094.2 752.6,1116.5 753.2,1103.1 753.7,1079.2 754.3,1079.7 754.8,1048.6 755.4,1071.7 755.9,1116.5 756.5,1107.7 757.0,1095.3 757.6,1110.8 758.1,1116.5 758.7,1095.7 759.2,1088.7 759.8,1116.5 760.4,1116.5 760.9,1116.5 761.5,1115.0 762.0,1106.4 762.6,1116.5 763.1,1108.6 763.7,1103.8 764.2,1102.3 764.8,1079.9 765.3,1092.7 765.9,1115.1 766.4,1108.5 767.0,1090.4 767.5,1092.7 768.1,1101.6 768.7,1101.8 769.2,1099.8 769.8,1092.1 770.3,1104.0 770.9,1116.5 771.4,1108.2 772.0,1110.4 772.5,1109.3 773.1,1095.1 773.6,1097.0 774.2,1110.3 774.7,1116.5 775.3,1091.5 775.9,1072.0 776.4,1105.7 777.0,1116.5 777.5,1090.7 778.1,1063.0 778.6,1083.5 779.2,1087.6 779.7,1106.6 780.3,1116.5 780.8,1093.9 781.4,1115.7 781.9,1116.5 782.5,1102.4 783.1,1079.9 783.6,1096.0 784.2,1105.8 784.7,1079.9 785.3,1087.8 785.8,1116.5 786.4,1116.5 786.9,1107.2 787.5,1091.0 788.0,1084.4 788.6,1109.0 789.1,1082.5 789.7,1078.8 790.3,1101.3 790.8,1087.3 791.4,1083.4 791.9,1089.1 792.5,1091.1 793.0,1093.7 793.6,1116.5 794.1,1116.5 794.7,1103.5 795.2,1102.4 795.8,1097.9 796.3,1102.4 796.9,1087.5 797.5,1060.7 798.0,1100.9 798.6,1116.5 799.1,1098.2 799.7,1116.5 800.2,1110.3 800.8,1082.7 801.3,1086.4 801.9,1079.0 802.4,1050.6 803.0,1011.8 803.5,996.1 804.1,963.0 804.6,908.4 805.2,843.3 805.8,805.3 806.3,851.9 806.9,923.2 807.4,978.5 808.0,999.8 808.5,1025.8 809.1,1038.1 809.6,1021.2 810.2,1067.7 810.7,1104.9 811.3,1090.9 811.8,1099.6 812.4,1111.3 813.0,1107.2 813.5,1095.8 814.1,1105.2 814.6,1106.2 815.2,1106.6 815.7,1116.5 816.3,1112.8 816.8,1089.3 817.4,1113.7 817.9,1106.9 818.5,1103.8 819.0,1116.5 819.6,1115.4 820.2,1109.7 820.7,1116.5 821.3,1101.9 821.8,1083.6 822.4,1071.1 822.9,1085.2 823.5,1108.3 824.0,1115.3 824.6,1093.5 825.1,1067.5 825.7,1073.9 826.2,1102.6 826.8,1096.8 827.4,1093.5 827.9,1110.3 828.5,1108.9 829.0,1096.6 829.6,1089.3 830.1,1083.0 830.7,1068.1 831.2,1067.1 831.8,1093.6 832.3,1052.0 832.9,1090.3 833.4,1087.5 834.0,1070.6 834.5,1073.2 835.1,1102.0 835.7,1091.4 836.2,1077.6 836.8,1091.9 837.3,1099.1 837.9,1109.9 838.4,1116.5 839.0,1099.0 839.5,1104.6 840.1,1108.3 840.6,1083.7 841.2,1085.6 841.7,1082.9 842.3,1085.3 842.9,1116.5 843.4,1116.5 844.0,1116.5 844.5,1099.2 845.1,1105.5 845.6,1116.5 846.2,1115.6 846.7,1091.7 847.3,1104.5 847.8,1116.5 848.4,1111.6 848.9,1116.5 849.5,1116.5 850.1,1104.5 850.6,1116.5 851.2,1116.5 851.7,1116.5 852.3,1113.0 852.8,1096.8 853.4,1081.2 853.9,1085.6 854.5,1102.1 855.0,1108.8 855.6,1110.3 856.1,1091.0 856.7,1113.5 857.3,1116.5 857.8,1101.7 858.4,1108.6 858.9,1098.4 859.5,1089.2 860.0,1090.3 860.6,1105.0 861.1,1104.1 861.7,1099.3 862.2,1105.4 862.8,1103.1 863.3,1090.4 863.9,1091.2 864.4,1099.7 865.0,1116.5 865.6,1116.5 866.1,1116.5 866.7,1116.5 867.2,1105.7 867.8,1098.9 868.3,1052.2 868.9,1072.3 869.4,1092.0 870.0,1082.5 870.5,1104.8 871.1,1116.5 871.6,1106.3 872.2,1079.7 872.8,1082.1 873.3,1116.5 873.9,1116.5 874.4,1116.5 875.0,1089.2 875.5,1083.0 876.1,1095.0 876.6,1083.8 877.2,1089.7 877.7,1104.7 878.3,1103.6 878.8,1116.5 879.4,1112.3 880.0,1081.3 880.5,1063.1 881.1,1056.0 881.6,1045.0 882.2,1078.2 882.7,1076.7 883.3,1076.5 883.8,1093.0 884.4,1108.2 884.9,1106.8 885.5,1106.0 886.0,1104.0 886.6,1101.6 887.2,1083.2 887.7,1081.6 888.3,1116.1 888.8,1113.0 889.4,1086.2 889.9,1109.9 890.5,1116.5 891.0,1113.3 891.6,1096.0 892.1,1101.4 892.7,1116.5 893.2,1116.5 893.8,1097.6 894.4,1071.9 894.9,1089.2 895.5,1088.3 896.0,1052.2 896.6,1078.6 897.1,1079.6 897.7,1082.1 898.2,1090.2 898.8,1100.0 899.3,1110.7 899.9,1114.0 900.4,1116.5 901.0,1116.5 901.5,1114.0 902.1,1103.9 902.7,1081.0 903.2,1089.8 903.8,1104.2 904.3,1099.9 904.9,1116.5 905.4,1116.5 906.0,1099.5 906.5,1103.2 907.1,1116.4 907.6,1116.5 908.2,1116.5 908.7,1101.9 909.3,1083.0 909.9,1073.2 910.4,1071.8 911.0,1080.9 911.5,1084.4 912.1,1091.2 912.6,1097.5 913.2,1083.9 913.7,1059.3 914.3,1067.5 914.8,1114.6 915.4,1101.1 915.9,1095.3 916.5,1112.4 917.1,1106.4 917.6,1116.4 918.2,1097.0 918.7,1079.0 919.3,1102.1 919.8,1108.3 920.4,1106.1 920.9,1099.5 921.5,1098.8 922.0,1115.1 922.6,1116.5 923.1,1114.1 923.7,1102.9 924.3,1108.5 924.8,1112.8 925.4,1096.4 925.9,1067.3 926.5,1062.2 927.0,1116.5 927.6,1116.5 928.1,1110.3 928.7,1100.0 929.2,1076.2 929.8,1070.8 930.3,1116.5 930.9,1116.5 931.4,1091.7 932.0,1089.8 932.6,1074.0 933.1,1091.0 933.7,1092.9 934.2,1098.2 934.8,1115.6 935.3,1083.0 935.9,1059.6 936.4,1064.1 937.0,1108.1 937.5,1087.5 938.1,1070.4 938.6,1059.6 939.2,1112.9 939.8,1072.5 940.3,1054.3 940.9,1097.1 941.4,1045.0 942.0,1053.7 942.5,1054.3 943.1,1056.9 943.6,1061.9 944.2,1115.0 944.7,1105.1 945.3,1111.1 945.8,1114.8 946.4,1109.5 947.0,1063.1 947.5,1074.9 948.1,1112.4 948.6,1059.6 949.2,1063.9 949.7,1084.7 950.3,1076.1 950.8,1086.8 951.4,1089.5 951.9,1075.4 952.5,1078.5 953.0,1100.3 953.6,1077.7 954.2,1067.4 954.7,1049.4 955.3,1056.1 955.8,1068.9 956.4,1079.1 956.9,1084.0 957.5,1097.9 958.0,1092.8 958.6,1071.8 959.1,1073.4 959.7,1107.8 960.2,1116.5 960.8,1095.1 961.3,1104.6 961.9,1116.5 962.5,1110.0 963.0,1116.5 963.6,1116.5 964.1,1094.3 964.7,1086.1 965.2,1109.1 965.8,1103.7 966.3,1086.9 966.9,1071.1 967.4,1086.2 968.0,1115.2 968.5,1105.9 969.1,1103.0 969.7,1102.5 970.2,1102.2 970.8,1111.6 971.3,1116.5 971.9,1116.5 972.4,1116.5 973.0,1116.5 973.5,1116.5 974.1,1102.9 974.6,1086.2 975.2,1104.8 975.7,1111.4 976.3,1089.4 976.9,1093.7 977.4,1116.5 978.0,1116.5 978.5,1116.5 979.1,1082.5 979.6,1088.8 980.2,1112.4 980.7,1098.4 981.3,1071.2 981.8,1089.2 982.4,1106.5 982.9,1116.5 983.5,1116.5 984.1,1113.7 984.6,1114.5 985.2,1086.5 985.7,1093.5 986.3,1083.3 986.8,1088.3 987.4,1100.2 987.9,1086.8 988.5,1090.9 989.0,1105.5 989.6,1093.7 990.1,1083.6 990.7,1100.7 991.3,1107.7 991.8,1103.9 992.4,1074.5 992.9,1074.8 993.5,1105.1 994.0,1116.5 994.6,1116.5 995.1,1116.5 995.7,1116.5 996.2,1100.3 996.8,1115.5 997.3,1116.5 997.9,1116.5 998.4,1113.7 999.0,1116.5 999.6,1115.9 1000.1,1098.2 1000.7,1102.4 1001.2,1094.9 1001.8,1102.1 1002.3,1095.1 1002.9,1099.4 1003.4,1109.6 1004.0,1089.8 1004.5,1099.1 1005.1,1102.5 1005.6,1114.8 1006.2,1116.5 1006.8,1116.5 1007.3,1114.8 1007.9,1105.2 1008.4,1096.1 1009.0,1095.8 1009.5,1092.3 1010.1,1097.3 1010.6,1100.0 1011.2,1106.9 1011.7,1113.6 1012.3,1084.6 1012.8,1100.2 1013.4,1116.5 1014.0,1093.7 1014.5,1086.4 1015.1,1081.5 1015.6,1079.9 1016.2,1112.0 1016.7,1116.5 1017.3,1116.5 1017.8,1108.4 1018.4,1074.2 1018.9,1091.3 1019.5,1102.1 1020.0,1101.7 1020.6,1116.5 1021.2,1116.5 1021.7,1116.5 1022.3,1116.5 1022.8,1107.5 1023.4,1091.9 1023.9,1078.8 1024.5,1091.5 1025.0,1104.2 1025.6,1095.1 1026.1,1091.2 1026.7,1116.5 1027.2,1116.5 1027.8,1102.5 1028.3,1106.5 1028.9,1113.0 1029.5,1089.3 1030.0,1115.0 1030.6,1116.5 1031.1,1101.2 1031.7,1098.6 1032.2,1116.5 1032.8,1115.2 1033.3,1103.2 1033.9,1097.0 1034.4,1084.5 1035.0,1100.4 1035.5,1102.6 1036.1,1103.3 1036.7,1112.6 1037.2,1116.5 1037.8,1113.9 1038.3,1082.3 1038.9,1074.1 1039.4,1078.5 1040.0,1079.4 1040.5,1073.5 1041.1,1039.4 1041.6,1027.0 1042.2,985.0 1042.7,976.7 1043.3,979.8 1043.9,979.0 1044.4,1033.2 1045.0,1056.2 1045.5,1060.1 1046.1,1071.5 1046.6,1070.7 1047.2,1087.0 1047.7,1107.0 1048.3,1107.6 1048.8,1116.5 1049.4,1116.5 1049.9,1099.7 1050.5,1094.4 1051.1,1095.5 1051.6,1103.9 1052.2,1097.2 1052.7,1116.5 1053.3,1116.5 1053.8,1111.9 1054.4,1096.6 1054.9,1084.9 1055.5,1086.3 1056.0,1094.3 1056.6,1092.7 1057.1,1105.2 1057.7,1116.0 1058.2,1116.5 1058.8,1109.8 1059.4,1065.3 1059.9,1093.3 1060.5,1116.5 1061.0,1116.5 1061.6,1116.5 1062.1,1116.5 1062.7,1106.0 1063.2,1116.5 1063.8,1116.5 1064.3,1116.5 1064.9,1108.1 1065.4,1091.5 1066.0,1099.8 1066.6,1107.0 1067.1,1104.4 1067.7,1116.5 1068.2,1116.5 1068.8,1104.3 1069.3,1097.4 1069.9,1116.5 1070.4,1116.5 1071.0,1104.2 1071.5,1110.2 1072.1,1087.8 1072.6,1108.8 1073.2,1116.5 1073.8,1109.4 1074.3,1107.4 1074.9,1116.5 1075.4,1109.9 1076.0,1100.7 1076.5,1098.5 1077.1,1092.4 1077.6,1102.1 1078.2,1093.8 1078.7,1067.0 1079.3,1080.0 1079.8,1088.6 1080.4,1073.6 1081.0,1090.1 1081.5,1098.2 1082.1,1110.8 1082.6,1116.5 1083.2,1109.0 1083.7,1102.0 1084.3,1089.5 1084.8,1104.6 1085.4,1116.5 1085.9,1115.6 1086.5,1113.8 1087.0,1091.8 1087.6,1104.4 1088.2,1108.0 1088.7,1100.3 1089.3,1114.3 1089.8,1094.7 1090.4,1093.9 1090.9,1097.5 1091.5,1092.2 1092.0,1101.7 1092.6,1106.7 1093.1,1116.5 1093.7,1116.5 1094.2,1103.7 1094.8,1090.3 1095.3,1107.7 1095.9,1094.4 1096.5,1064.2 1097.0,1084.6 1097.6,1093.1 1098.1,1055.3 1098.7,1044.0 1099.2,1030.0 1099.8,1006.3 1100.3,1030.8 1100.9,1050.6 1101.4,1060.1 1102.0,1079.9 1102.5,1097.9 1103.1,1068.3 1103.7,1082.8 1104.2,1115.6 1104.8,1099.0 1105.3,1102.6 1105.9,1090.0 1106.4,1082.0 1107.0,1088.0 1107.5,1116.5 1108.1,1115.9 1108.6,1070.3 1109.2,1093.8 1109.7,1091.7 1110.3,1079.0 1110.9,1083.1 1111.4,1063.8 1112.0,1073.1 1112.5,1106.5 1113.1,1106.7 1113.6,1108.5 1114.2,1116.3 1114.7,1107.7 1115.3,1103.6 1115.8,1076.1 1116.4,1051.8 1116.9,1069.2 1117.5,1054.7 1118.1,1048.2 1118.6,1046.4 1119.2,993.7 1119.7,928.6 1120.3,901.2 1120.8,898.0 1121.4,919.9 1121.9,959.5 1122.5,992.6 1123.0,1034.5 1123.6,1087.5 1124.1,1094.0 1124.7,1071.0 1125.2,1068.3 1125.8,1071.7 1126.4,1069.3 1126.9,1076.2 1127.5,1076.8 1128.0,1093.3 1128.6,1091.1 1129.1,1095.7 1129.7,1111.2 1130.2,1116.5 1130.8,1109.9 1131.3,1112.1 1131.9,1101.6 1132.4,1099.4 1133.0,1113.7 1133.6,1099.3 1134.1,1113.4 1134.7,1096.8 1135.2,1091.5 1135.8,1089.0 1136.3,1096.5 1136.9,1116.5 1137.4,1116.5 1138.0,1116.5 1138.5,1084.4 1139.1,1088.5 1139.6,1101.7 1140.2,1115.7 1140.8,1085.2 1141.3,1065.1 1141.9,1116.1 1142.4,1116.5 1143.0,1116.5 1143.5,1115.4 1144.1,1059.7 1144.6,1061.1 1145.2,1085.8 1145.7,1110.8 1146.3,1116.5 1146.8,1113.6 1147.4,1105.6 1148.0,1116.5 1148.5,1115.4 1149.1,1114.6 1149.6,1095.9 1150.2,1071.6 1150.7,1080.7 1151.3,1101.0 1151.8,1116.4 1152.4,1116.5 1152.9,1116.5 1153.5,1105.2 1154.0,1089.2 1154.6,1088.2 1155.1,1086.0 1155.7,1102.7 1156.3,1116.5 1156.8,1116.5 1157.4,1116.5 1157.9,1095.9 1158.5,1075.2 1159.0,1104.0 1159.6,1083.0 1160.1,1083.1 1160.7,1100.6 1161.2,1097.9 1161.8,1100.3 1162.3,1102.8 1162.9,1101.1 1163.5,1079.1 1164.0,1100.5 1164.6,1116.5 1165.1,1113.1 1165.7,1083.8 1166.2,1089.6 1166.8,1095.2 1167.3,1086.9 1167.9,1061.0 1168.4,1094.2 1169.0,1108.2 1169.5,1101.3 1170.1,1116.5 1170.7,1116.5 1171.2,1098.7 1171.8,1111.8 1172.3,1116.5 1172.9,1102.5 1173.4,1086.3 1174.0,1096.5 1174.5,1110.8 1175.1,1116.5 1175.6,1108.1 1176.2,1097.7 1176.7,1097.4 1177.3,1080.1 1177.9,1079.7 1178.4,1116.5 1179.0,1116.5 1179.5,1112.3 1180.1,1085.7 1180.6,1093.2 1181.2,1113.4 1181.7,1105.0 1182.3,1108.6 1182.8,1116.5 1183.4,1111.8 1183.9,1089.1 1184.5,1079.7 1185.1,1094.9 1185.6,1095.3 1186.2,1106.8 1186.7,1111.3 1187.3,1073.0 1187.8,1080.7 1188.4,1108.7 1188.9,1086.3 1189.5,1114.5 1190.0,1116.5 1190.6,1115.6 1191.1,1088.3 1191.7,1093.6 1192.2,1097.2 1192.8,1078.4 1193.4,1106.6 1193.9,1066.8 1194.5,1042.1 1195.0,1096.1 1195.6,1100.7 1196.1,1085.2 1196.7,1055.7 1197.2,1022.0 1197.8,1096.1 1198.3,1035.3 1198.9,1010.9 1199.4,1014.0 1200.0,1039.7 1200.6,1018.8 1201.1,1013.1 1201.7,1041.7 1202.2,1097.5 1202.8,1069.3 1203.3,1084.9 1203.9,1061.1 1204.4,1041.7 1205.0,1113.8 1205.5,1112.1 1206.1,1066.3 1206.6,1060.9 1207.2,1027.1 1207.8,1090.7 1208.3,1111.0 1208.9,1039.1 1209.4,1094.3 1210.0,1115.1 1210.5,1106.4 1211.1,1057.5 1211.6,1083.3 1212.2,1112.2 1212.7,1115.3 1213.3,1095.8 1213.8,1085.3 1214.4,1112.4 1215.0,1116.5 1215.5,1116.5 1216.1,1081.2 1216.6,1084.9 1217.2,1096.5 1217.7,1092.6 1218.3,1074.1 1218.8,1072.7 1219.4,1094.7 1219.9,1106.4 1220.5,1116.5 1221.0,1101.7 1221.6,1067.5 1222.1,1096.8 1222.7,1103.5 1223.3,1087.9 1223.8,1100.2 1224.4,1108.1 1224.9,1094.1 1225.5,1105.1 1226.0,1116.5 1226.6,1106.9 1227.1,1100.5 1227.7,1102.0 1228.2,1099.1 1228.8,1089.8 1229.3,1103.3 1229.9,1108.6 1230.5,1103.8 1231.0,1086.0 1231.6,1096.5 1232.1,1116.5 1232.7,1091.2 1233.2,1091.4 1233.8,1103.6 1234.3,1106.1 1234.9,1097.4 1235.4,1104.4 1236.0,1108.4 1236.5,1094.4 1237.1,1110.3 1237.7,1104.5 1238.2,1090.8 1238.8,1088.9 1239.3,1070.8 1239.9,1068.3 1240.4,1091.2 1241.0,1088.8 1241.5,1090.7 1242.1,1100.3 1242.6,1055.5 1243.2,1040.2 1243.7,1034.3 1244.3,1027.1 1244.9,1033.3 1245.4,1027.2 1246.0,990.6 1246.5,942.6 1247.1,892.9 1247.6,811.7 1248.2,733.7 1248.7,705.3 1249.3,741.2 1249.8,823.4 1250.4,903.9 1250.9,982.8 1251.5,1004.1 1252.0,976.5 1252.6,985.9 1253.2,994.3 1253.7,1009.5 1254.3,1055.1 1254.8,1075.4 1255.4,1053.1 1255.9,1028.8 1256.5,1018.1 1257.0,970.2 1257.6,984.5 1258.1,1031.6 1258.7,1051.1 1259.2,1068.8 1259.8,1058.0 1260.4,1066.2 1260.9,1067.1 1261.5,1051.4 1262.0,1079.5 1262.6,1068.7 1263.1,1075.9 1263.7,1106.7 1264.2,1083.3 1264.8,1110.9 1265.3,1108.0 1265.9,1066.5 1266.4,1081.1 1267.0,1092.1 1267.6,1088.4 1268.1,1094.6 1268.7,1084.2 1269.2,1086.2 1269.8,1099.9 1270.3,1090.6 1270.9,1079.1 1271.4,1076.2 1272.0,1097.0 1272.5,1116.5 1273.1,1115.3 1273.6,1088.0 1274.2,1096.0 1274.8,1088.3 1275.3,1061.7 1275.9,1068.3 1276.4,1070.9 1277.0,1079.0 1277.5,1102.3 1278.1,1076.2 1278.6,1076.2 1279.2,1101.0 1279.7,1107.9 1280.3,1080.4 1280.8,1076.2 1281.4,1076.2 1282.0,1076.5 1282.5,1098.7 1283.1,1116.4 1283.6,1088.3 1284.2,1097.2 1284.7,1112.9 1285.3,1116.5 1285.8,1105.4 1286.4,1084.2 1286.9,1095.6 1287.5,1112.6 1288.0,1116.5 1288.6,1095.0 1289.1,1083.2 1289.7,1112.3 1290.3,1101.8 1290.8,1088.4 1291.4,1116.5 1291.9,1116.5 1292.5,1113.1 1293.0,1101.0 1293.6,1097.4 1294.1,1102.8 1294.7,1110.6 1295.2,1102.7 1295.8,1107.8 1296.3,1116.5 1296.9,1116.5 1297.5,1108.7 1298.0,1103.9 1298.6,1109.9 1299.1,1111.1 1299.7,1105.9 1300.2,1098.9 1300.8,1093.9 1301.3,1113.7 1301.9,1106.2 1302.4,1110.1 1303.0,1115.4 1303.5,1104.4 1304.1,1104.0 1304.7,1082.4 1305.2,1112.6 1305.8,1116.5 1306.3,1091.9 1306.9,1105.0 1307.4,1103.7 1308.0,1104.1 1308.5,1107.4 1309.1,1114.2 1309.6,1106.1 1310.2,1086.0 1310.7,1086.5 1311.3,1101.8 1311.9,1088.4 1312.4,1056.1 1313.0,1079.8 1313.5,1109.1 1314.1,1113.0 1314.6,1099.5 1315.2,1082.0 1315.7,1099.5 1316.3,1116.5 1316.8,1116.5 1317.4,1097.9 1317.9,1101.4 1318.5,1094.6 1319.0,1110.3 1319.6,1115.9 1320.2,1106.0 1320.7,1102.2 1321.3,1083.6 1321.8,1088.3 1322.4,1113.7 1322.9,1098.5 1323.5,1079.4 1324.0,1097.2 1324.6,1116.5 1325.1,1116.5 1325.7,1112.5 1326.2,1095.1 1326.8,1103.4 1327.4,1104.8 1327.9,1106.1 1328.5,1116.5 1329.0,1102.4 1329.6,1100.6 1330.1,1105.4 1330.7,1091.4 1331.2,1079.4 1331.8,1097.3 1332.3,1114.2 1332.9,1116.5 1333.4,1116.5 1334.0,1116.3 1334.6,1106.7 1335.1,1116.5 1335.7,1116.5 1336.2,1107.9 1336.8,1116.5 1337.3,1102.9 1337.9,1094.2 1338.4,1100.0 1339.0,1116.5 1339.5,1116.5 1340.1,1104.5 1340.6,1116.5 1341.2,1116.5 1341.8,1115.0 1342.3,1086.4 1342.9,1101.1 1343.4,1095.4 1344.0,1097.7 1344.5,1116.5 1345.1,1113.9 1345.6,1083.7 1346.2,1085.7 1346.7,1079.1 1347.3,1062.2 1347.8,1090.7 1348.4,1116.5 1348.9,1098.7 1349.5,1091.2 1350.1,1099.4 1350.6,1090.2 1351.2,1083.7 1351.7,1100.4 1352.3,1107.9 1352.8,1111.2 1353.4,1115.1 1353.9,1116.5 1354.5,1116.5 1355.0,1116.5 1355.6,1116.5 1356.1,1100.3 1356.7,1074.0 1357.3,1084.5 1357.8,1097.9 1358.4,1105.9 1358.9,1116.5 1359.5,1116.5 1360.0,1110.8 1360.6,1103.7 1361.1,1098.9 1361.7,1082.3 1362.2,1086.3 1362.8,1116.5 1363.3,1116.5 1363.9,1110.3 1364.5,1109.2 1365.0,1087.6 1365.6,1097.8 1366.1,1112.4 1366.7,1098.3 1367.2,1108.8 1367.8,1112.5 1368.3,1094.4 1368.9,1087.1 1369.4,1080.4 1370.0,1083.5 1370.5,1092.1 1371.1,1115.6 1371.7,1116.5 1372.2,1116.5 1372.8,1097.9 1373.3,1084.8 1373.9,1116.5 1374.4,1116.5 1375.0,1104.1 1375.5,1116.5 1376.1,1116.5 1376.6,1110.3 1377.2,1104.6 1377.7,1090.3 1378.3,1065.3 1378.9,1081.8 1379.4,1115.9 1380.0,1116.5 1380.5,1107.1 1381.1,1087.6 1381.6,1090.4 1382.2,1090.6 1382.7,1115.9 1383.3,1116.5 1383.8,1116.5 1384.4,1116.5 1384.9,1113.8 1385.5,1088.1 1386.0,1079.4 1386.6,1086.1 1387.2,1103.3 1387.7,1103.3 1388.3,1106.8 1388.8,1110.4 1389.4,1089.8 1389.9,1094.5 1390.5,1110.3 1391.0,1113.1 1391.6,1099.9 1392.1,1098.2 1392.7,1116.5 1393.2,1116.5 1393.8,1116.5 1394.4,1095.3 1394.9,1081.6 1395.5,1116.5 1396.0,1112.1 1396.6,1083.3 1397.1,1078.3 1397.7,1085.8 1398.2,1081.5 1398.8,1059.0 1399.3,1065.7 1399.9,1069.4 1400.4,1070.9 1401.0,1073.6 1401.6,1081.5 1402.1,1080.1 1402.7,1116.5 1403.2,1116.5 1403.8,1116.5 1404.3,1116.5 1404.9,1107.7 1405.4,1095.1 1406.0,1102.5 1406.5,1105.4 1407.1,1113.0 1407.6,1115.0 1408.2,1104.5 1408.8,1094.8 1409.3,1110.8 1409.9,1109.7 1410.4,1078.0 1411.0,1070.6 1411.5,1086.8 1412.1,1107.3 1412.6,1116.5 1413.2,1106.6 1413.7,1116.5 1414.3,1108.7 1414.8,1082.9 1415.4,1099.3 1415.9,1104.9 1416.5,1107.5 1417.1,1111.2 1417.6,1091.5 1418.2,1077.1 1418.7,1078.9 1419.3,1090.8 1419.8,1116.4 1420.4,1096.3 1420.9,1100.3 1421.5,1116.5 1422.0,1100.7 1422.6,1080.2 1423.1,1104.6 1423.7,1116.5 1424.3,1104.6 1424.8,1102.8 1425.4,1113.4 1425.9,1103.5 1426.5,1099.3 1427.0,1110.2 1427.6,1116.5 1428.1,1116.5 1428.7,1116.5 1429.2,1114.9 1429.8,1085.2 1430.3,1099.5 1430.9,1103.0 1431.5,1095.0 1432.0,1098.2 1432.6,1094.5 1433.1,1093.5 1433.7,1102.8 1434.2,1110.0 1434.8,1107.2 1435.3,1070.1 1435.9,1089.5 1436.4,1081.9 1437.0,1085.1 1437.5,1097.2 1438.1,1106.7 1438.7,1064.9 1439.2,1114.1 1439.8,1092.6 1440.3,1098.9 1440.9,1080.3 1441.4,1074.7 1442.0,1084.5 1442.5,1112.9 1443.1,1092.8 1443.6,1091.0 1444.2,1102.8 1444.7,1093.6 1445.3,1115.0 1445.8,1108.2 1446.4,1112.9 1447.0,1107.4 1447.5,1088.9 1448.1,1110.2 1448.6,1111.1 1449.2,1104.8 1449.7,1115.6 1450.3,1104.6 1450.8,1104.3 1451.4,1087.6 1451.9,1083.9 1452.5,1116.5 1453.0,1115.9 1453.6,1094.9 1454.2,1097.0 1454.7,1091.9 1455.3,1099.5 1455.8,1116.5 1456.4,1090.5 1456.9,1080.6 1457.5,1093.9 1458.0,1088.2 1458.6,1088.1 1459.1,1093.7 1459.7,1103.0 1460.2,1090.7 1460.8,1094.4 1461.4,1106.2 1461.9,1092.2 1462.5,1098.4 1463.0,1116.5 1463.6,1114.8 1464.1,1083.6 1464.7,1086.1 1465.2,1116.5 1465.8,1114.6 1466.3,1071.0 1466.9,1097.2 1467.4,1116.5 1468.0,1116.5 1468.6,1104.3 1469.1,1092.1 1469.7,1083.2 1470.2,1091.5 1470.8,1094.8 1471.3,1091.9 1471.9,1096.9 1472.4,1101.6 1473.0,1104.9 1473.5,1095.8 1474.1,1089.2 1474.6,1102.6 1475.2,1094.4 1475.8,1098.0 1476.3,1113.7 1476.9,1103.5 1477.4,1116.5 1478.0,1116.5 1478.5,1096.6 1479.1,1082.5 1479.6,1106.8 1480.2,1116.5 1480.7,1116.5 1481.3,1116.5 1481.8,1105.6 1482.4,1116.5 1482.9,1116.5 1483.5,1097.2 1484.1,1101.7 1484.6,1110.4 1485.2,1111.5 1485.7,1116.5 1486.3,1116.5 1486.8,1095.0 1487.4,1098.4 1487.9,1114.1 1488.5,1096.5 1489.0,1067.3 1489.6,1101.6 1490.1,1104.8 1490.7,1071.0 1491.3,1087.5 1491.8,1026.1 1492.4,1032.8 1492.9,1042.6 1493.5,1067.2 1494.0,1093.3 1494.6,1106.4 1495.1,1095.6 1495.7,1077.5 1496.2,1090.5 1496.8,1108.4 1497.3,1094.8 1497.9,1116.5 1498.5,1116.5 1499.0,1097.5 1499.6,1116.5 1500.1,1115.8 1500.7,1099.0 1501.2,1095.2 1501.8,1070.1 1502.3,1063.4 1502.9,1115.3 1503.4,1108.4 1504.0,1116.5 1504.5,1111.6 1505.1,1089.7 1505.7,1087.3 1506.2,1111.5 1506.8,1116.5 1507.3,1094.0 1507.9,1116.5 1508.4,1112.7 1509.0,1107.8 1509.5,1116.3 1510.1,1115.6 1510.6,1108.5 1511.2,1072.7 1511.7,1081.3 1512.3,1101.1 1512.8,1086.4 1513.4,1092.1 1514.0,1106.8 1514.5,1091.8 1515.1,1087.3 1515.6,1078.4 1516.2,1069.1 1516.7,1064.9 1517.3,1079.1 1517.8,1088.5 1518.4,1097.9 1518.9,1100.3 1519.5,1069.7 1520.0,1052.5 1520.6,1088.0 1521.2,1116.5 1521.7,1094.5 1522.3,1102.8 1522.8,1104.7 1523.4,1087.8 1523.9,1100.1 1524.5,1112.8 1525.0,1116.5 1525.6,1108.0 1526.1,1082.0 1526.7,1082.2 1527.2,1064.3 1527.8,1085.3 1528.4,1116.5 1528.9,1099.5 1529.5,1106.2 1530.0,1110.0 1530.6,1086.8 1531.1,1088.8 1531.7,1101.1 1532.2,1092.1 1532.8,1084.5 1533.3,1087.0 1533.9,1085.5 1534.4,1102.1 1535.0,1116.5 1535.6,1116.5 1536.1,1103.0 1536.7,1100.7 1537.2,1091.6 1537.8,1086.3 1538.3,1086.1 1538.9,1087.7 1539.4,1107.8 1540.0,1099.2 1540.5,1084.7 1541.1,1104.8 1541.6,1115.6 1542.2,1072.4 1542.7,1107.9 1543.3,1116.5 1543.9,1086.7 1544.4,1101.1 1545.0,1105.4 1545.5,1110.7 1546.1,1079.0 1546.6,1078.2 1547.2,1110.1 1547.7,1095.3 1548.3,1087.1 1548.8,1098.9 1549.4,1106.9 1549.9,1116.5 1550.5,1104.4 1551.1,1101.2 1551.6,1116.5 1552.2,1116.5 1552.7,1080.1 1553.3,1088.6 1553.8,1103.8 1554.4,1093.7 1554.9,1100.5 1555.5,1116.5 1556.0,1116.5 1556.6,1090.2 1557.1,1084.7 1557.7,1069.4 1558.3,1066.9 1558.8,1094.6 1559.4,1106.9 1559.9,1093.5 1560.5,1091.9 1561.0,1104.2 1561.6,1116.5 1562.1,1116.5 1562.7,1116.5 1563.2,1114.7 1563.8,1097.5 1564.3,1091.7 1564.9,1071.7 1565.5,1082.5 1566.0,1086.6 1566.6,1098.1 1567.1,1113.6 1567.7,1088.4 1568.2,1066.7 1568.8,1091.5 1569.3,1116.5 1569.9,1103.1 1570.4,1101.2 1571.0,1114.4 1571.5,1116.5 1572.1,1116.5 1572.7,1116.5 1573.2,1116.5 1573.8,1096.3 1574.3,1065.2 1574.9,1109.7 1575.4,1116.5 1576.0,1091.3 1576.5,1067.8 1577.1,1070.3 1577.6,1105.1 1578.2,1116.5 1578.7,1090.1 1579.3,1084.4 1579.8,1105.4 1580.4,1100.4 1581.0,1082.9 1581.5,1087.3 1582.1,1096.2 1582.6,1084.8 1583.2,1094.5 1583.7,1116.5 1584.3,1102.3 1584.8,1105.7 1585.4,1108.8 1585.9,1103.0 1586.5,1098.8 1587.0,1104.2 1587.6,1100.5 1588.2,1082.5 1588.7,1099.8 1589.3,1113.5 1589.8,1111.5 1590.4,1112.0 1590.9,1116.5 1591.5,1099.9 1592.0,1077.9 1592.6,1075.6 1593.1,1098.9 1593.7,1116.5 1594.2,1116.5 1594.8,1107.3 1595.4,1077.7 1595.9,1107.5 1596.5,1104.1 1597.0,1086.0 1597.6,1112.0 1598.1,1113.3 1598.7,1083.9 1599.2,1084.2 1599.8,1091.7 1600.3,1110.2 1600.9,1115.3 1601.4,1103.0 1602.0,1103.0 1602.6,1088.4 1603.1,1107.5 1603.7,1063.6 1604.2,1102.3 1604.8,1106.4 1605.3,1047.6 1605.9,1068.3 1606.4,1104.0 1607.0,1012.3 1607.5,1002.9 1608.1,1002.4 1608.6,963.4 1609.2,991.3 1609.7,961.1 1610.3,990.7 1610.9,1087.6 1611.4,1069.8 1612.0,1113.2 1612.5,989.7 1613.1,1112.0 1613.6,1111.2 1614.2,1054.4 1614.7,1103.0 1615.3,1102.1 1615.8,1075.6 1616.4,1116.3 1616.9,1069.3 1617.5,1111.8 1618.1,1072.4 1618.6,1116.2 1619.2,1092.3 1619.7,1091.4 1620.3,1093.4 1620.8,1068.7 1621.4,1056.4 1621.9,1092.6 1622.5,1112.4 1623.0,1116.5 1623.6,1116.5 1624.1,1116.5 1624.7,1116.5 1625.3,1108.6 1625.8,1111.2 1626.4,1099.4 1626.9,1085.2 1627.5,1089.3 1628.0,1107.5 1628.6,1097.5 1629.1,1073.3 1629.7,1080.6 1630.2,1096.4 1630.8,1098.0 1631.3,1110.9 1631.9,1116.5 1632.5,1116.5 1633.0,1104.7 1633.6,1106.9 1634.1,1079.6 1634.7,1080.8 1635.2,1101.0 1635.8,1101.2 1636.3,1091.0 1636.9,1090.3 1637.4,1082.1 1638.0,1081.8 1638.5,1095.1 1639.1,1079.6 1639.6,1091.9 1640.2,1094.0 1640.8,1090.4 1641.3,1110.1 1641.9,1116.5 1642.4,1105.8 1643.0,1075.9 1643.5,1086.0 1644.1,1101.1 1644.6,1105.0 1645.2,1108.5 1645.7,1114.6 1646.3,1116.5 1646.8,1111.6 1647.4,1111.2 1648.0,1114.4 1648.5,1093.0 1649.1,1091.3 1649.6,1112.3 1650.2,1116.5 1650.7,1116.5 1651.3,1094.5 1651.8,1089.0 1652.4,1104.8 1652.9,1095.1 1653.5,1083.1 1654.0,1079.7 1654.6,1094.2 1655.2,1116.5 1655.7,1116.5 1656.3,1116.5 1656.8,1115.0 1657.4,1097.7 1657.9,1089.3 1658.5,1105.1 1659.0,1098.2 1659.6,1106.6 1660.1,1116.5 1660.7,1116.5 1661.2,1116.5 1661.8,1116.5 1662.4,1115.4 1662.9,1116.5 1663.5,1095.0 1664.0,1103.5 1664.6,1116.5 1665.1,1116.5 1665.7,1099.4 1666.2,1090.5 1666.8,1099.1 1667.3,1109.4 1667.9,1109.3 1668.4,1095.7 1669.0,1103.6 1669.6,1116.5 1670.1,1116.5 1670.7,1113.0 1671.2,1115.8 1671.8,1084.5 1672.3,1082.4 1672.9,1076.8 1673.4,1097.0 1674.0,1116.1 1674.5,1091.8 1675.1,1084.2 1675.6,1097.4 1676.2,1105.1 1676.7,1094.3 1677.3,1094.7 1677.9,1112.3 1678.4,1116.5 1679.0,1109.9 1679.5,1084.1 1680.1,1089.6 1680.6,1085.4 1681.2,1072.0 1681.7,1116.3 1682.3,1096.0 1682.8,1106.1 1683.4,1111.8 1683.9,1113.0 1684.5,1072.8 1685.1,1113.1 1685.6,1110.9 1686.2,1080.6 1686.7,1056.2 1687.3,1062.8 1687.8,1115.2 1688.4,1109.3 1688.9,1077.7 1689.5,1051.7 1690.0,1052.8 1690.6,1113.6 1691.1,1086.4 1691.7,1112.4 1692.3,1054.4 1692.8,1053.0 1693.4,1111.3 1693.9,1108.8 1694.5,1116.5 1695.0,1116.5 1695.6,1115.5 1696.1,1108.5 1696.7,1100.9 1697.2,1090.3 1697.8,1081.6 1698.3,1064.8 1698.9,1074.7 1699.5,1095.7 1700.0,1116.5 1700.6,1113.4 1701.1,1083.0 1701.7,1096.9 1702.2,1109.5 1702.8,1108.5 1703.3,1090.6 1703.9,1074.2 1704.4,1071.6 1705.0,1092.9 1705.5,1074.3 1706.1,1068.5 1706.6,1111.0 1707.2,1095.5 1707.8,1085.9 1708.3,1060.7 1708.9,1051.0 1709.4,1069.7 1710.0,1037.1 1710.5,1008.4 1711.1,1005.2 1711.6,1023.1 1712.2,1032.1 1712.7,1047.2 1713.3,1038.2 1713.8,1032.8 1714.4,1048.7 1715.0,1054.2 1715.5,1071.0 1716.1,1078.8 1716.6,1082.2 1717.2,1103.5 1717.7,1083.9 1718.3,1097.1 1718.8,1116.5 1719.4,1104.5 1719.9,1116.5 1720.5,1116.5 1721.0,1102.9 1721.6,1093.1 1722.2,1104.2 1722.7,1100.9 1723.3,1087.5 1723.8,1087.0 1724.4,1114.2 1724.9,1116.5 1725.5,1113.9 1726.0,1101.7 1726.6,1103.3 1727.1,1116.5 1727.7,1116.5 1728.2,1116.5 1728.8,1116.5 1729.4,1101.4 1729.9,1103.0 1730.5,1116.5 1731.0,1116.5 1731.6,1103.8 1732.1,1100.6 1732.7,1088.7 1733.2,1098.9 1733.8,1110.2 1734.3,1112.8 1734.9,1107.3 1735.4,1109.1 1736.0,1105.3 1736.5,1076.8 1737.1,1082.7 1737.7,1099.8 1738.2,1063.4 1738.8,1084.6 1739.3,1076.1 1739.9,1075.3 1740.4,1078.0 1741.0,1089.8 1741.5,1093.7 1742.1,1111.5 1742.6,1110.6 1743.2,1093.1 1743.7,1075.1 1744.3,1060.9 1744.9,1095.8 1745.4,1116.5 1746.0,1098.8 1746.5,1116.5 1747.1,1116.5 1747.6,1109.3 1748.2,1090.6 1748.7,1092.9 1749.3,1086.7 1749.8,1092.1 1750.4,1105.0 1750.9,1104.0 1751.5,1116.5 1752.1,1115.5 1752.6,1109.0 1753.2,1108.6 1753.7,1116.5 1754.3,1116.5 1754.8,1108.2 1755.4,1116.5 1755.9,1109.8 1756.5,1108.1 1757.0,1097.6 1757.6,1077.0 1758.1,1077.5 1758.7,1080.9 1759.3,1087.1 1759.8,1098.3 1760.4,1116.5 1760.9,1116.5 1761.5,1093.0 1762.0,1079.4 1762.6,1099.7 1763.1,1107.6 1763.7,1089.1 1764.2,1092.3 1764.8,1085.6 1765.3,1092.7 1765.9,1102.6 1766.5,1085.3 1767.0,1092.7 1767.6,1097.4 1768.1,1093.0 1768.7,1116.5 1769.2,1116.5 1769.8,1083.7 1770.3,1084.6 1770.9,1084.6 1771.4,1103.5 1772.0,1116.5 1772.5,1099.8 1773.1,1102.2 1773.6,1091.9 1774.2,1083.0 1774.8,1103.3 1775.3,1099.3 1775.9,1083.5 1776.4,1098.4 1777.0,1100.7 1777.5,1091.0 1778.1,1094.2 1778.6,1113.6 1779.2,1102.7 1779.7,1080.0 1780.3,1095.5 1780.8,1099.1 1781.4,1094.8 1782.0,1102.5 1782.5,1113.5 1783.1,1108.7 1783.6,1108.8 1784.2,1115.7 1784.7,1116.5 1785.3,1116.5 1785.8,1094.2 1786.4,1088.3 1786.9,1099.7 1787.5,1106.0 1788.0,1111.6 1788.6,1116.5 1789.2,1100.9 1789.7,1091.7 1790.3,1116.5 1790.8,1115.7 1791.4,1094.9 1791.9,1105.7 1792.5,1116.5 1793.0,1116.5 1793.6,1100.2 1794.1,1085.1 1794.7,1111.5 1795.2,1087.9 1795.8,1086.5 1796.4,1116.5 1796.9,1106.4 1797.5,1090.9 1798.0,1078.7 1798.6,1101.3 1799.1,1116.3 1799.7,1116.5 1800.2,1115.3 1800.8,1102.6 1801.3,1113.2 1801.9,1113.7 1802.4,1097.7 1803.0,1068.9 1803.5,1079.0 1804.1,1100.2 1804.7,1103.7 1805.2,1092.5 1805.8,1096.2 1806.3,1057.8 1806.9,1057.8 1807.4,1058.0 1808.0,1055.2 1808.5,1071.6 1809.1,1082.6 1809.6,1043.3 1810.2,1061.4 1810.7,1068.6 1811.3,1083.8 1811.9,1061.5 1812.4,1057.8 1813.0,1083.1 1813.5,1106.1 1814.1,1073.0 1814.6,1084.6 1815.2,1103.0 1815.7,1087.3 1816.3,1079.1 1816.8,1107.2 1817.4,1099.6 1817.9,1091.5 1818.5,1084.4 1819.1,1090.3 1819.6,1116.5 1820.2,1116.5 1820.7,1086.2 1821.3,1081.4 1821.8,1094.1 1822.4,1111.3 1822.9,1102.4 1823.5,1113.6 1824.0,1115.1 1824.6,1107.6 1825.1,1116.5 1825.7,1116.5 1826.3,1116.5 1826.8,1095.9 1827.4,1098.9 1827.9,1114.2 1828.5,1109.5 1829.0,1099.2 1829.6,1105.2 1830.1,1116.5 1830.7,1088.0 1831.2,1066.6 1831.8,1078.7 1832.3,1107.9 1832.9,1054.7 1833.4,1061.3 1834.0,1078.1 1834.6,1094.2 1835.1,1094.3 1835.7,1116.5 1836.2,1116.5 1836.8,1116.5 1837.3,1089.4 1837.9,1092.7 1838.4,1116.5 1839.0,1116.5 1839.5,1099.2 1840.1,1082.3 1840.6,1090.7 1841.2,1083.6 1841.8,1102.1 1842.3,1116.5 1842.9,1091.0 1843.4,1068.3 1844.0,1099.2 1844.5,1113.1 1845.1,1116.5 1845.6,1116.5 1846.2,1116.5 1846.7,1116.5 1847.3,1116.5 1847.8,1087.7 1848.4,1091.8 1849.0,1105.4 1849.5,1105.9 1850.1,1105.6 1850.6,1116.5 1851.2,1099.9 1851.7,1091.5 1852.3,1110.0 1852.8,1116.5 1853.4,1108.4 1853.9,1078.7 1854.5,1075.9 1855.0,1089.0 1855.6,1100.5 1856.2,1094.7 1856.7,1107.7 1857.3,1090.0 1857.8,1100.2 1858.4,1106.9 1858.9,1072.7 1859.5,1060.6 1860.0,1071.0 1860.6,1088.0 1861.1,1112.2 1861.7,1098.9 1862.2,1095.3 1862.8,1098.0 1863.4,1093.7 1863.9,1107.7 1864.5,1103.6 1865.0,1096.1 1865.6,1100.9 1866.1,1105.3 1866.7,1105.0 1867.2,1098.6 1867.8,1084.1 1868.3,1075.4 1868.9,1058.2 1869.4,1090.1 1870.0,1089.5 1870.5,1091.2 1871.1,1093.4 1871.7,1113.2 1872.2,1105.8 1872.8,1102.7 1873.3,1108.3 1873.9,1116.5 1874.4,1116.5 1875.0,1090.3 1875.5,1107.3 1876.1,1108.3 1876.6,1101.9 1877.2,1092.4 1877.7,1080.1 1878.3,1111.5 1878.9,1116.5 1879.4,1116.5 1880.0,1116.5 1880.5,1101.9 1881.1,1088.2 1881.6,1096.0 1882.2,1108.7 1882.7,1105.5 1883.3,1109.8 1883.8,1107.8 1884.4,1087.2 1884.9,1088.7 1885.5,1091.7 1886.1,1103.2 1886.6,1116.5 1887.2,1105.8 1887.7,1075.8 1888.3,1067.6 1888.8,1071.2 1889.4,1082.3 1889.9,1087.5 1890.5,1107.6 1891.0,1115.5 1891.6,1116.5 1892.1,1108.9 1892.7,1074.9 1893.3,1067.7 1893.8,1050.3 1894.4,1043.6 1894.9,1082.2 1895.5,1093.6 1896.0,1075.0 1896.6,1073.3 1897.1,1099.2 1897.7,1114.3 1898.2,1116.5 1898.8,1113.1 1899.3,1106.1 1899.9,1109.5 1900.4,1108.5 1901.0,1116.5 1901.6,1103.3 1902.1,1081.8 1902.7,1082.3 1903.2,1081.8 1903.8,1102.2 1904.3,1104.6 1904.9,1099.6 1905.4,1108.5 1906.0,1115.5 1906.5,1085.2 1907.1,1069.7 1907.6,1098.3 1908.2,1103.2 1908.8,1106.9 1909.3,1096.6 1909.9,1098.6 1910.4,1104.6 1911.0,1092.3 1911.5,1102.4 1912.1,1112.3 1912.6,1115.7 1913.2,1115.2 1913.7,1116.5 1914.3,1107.9 1914.8,1068.2 1915.4,1077.7 1916.0,1095.5 1916.5,1091.6 1917.1,1111.7 1917.6,1095.8 1918.2,1080.0 1918.7,1082.4 1919.3,1088.5 1919.8,1100.2 1920.4,1111.1 1920.9,1115.9 1921.5,1086.6 1922.0,1110.2 1922.6,1116.5 1923.2,1081.4 1923.7,1076.6 1924.3,1083.4 1924.8,1095.9 1925.4,1093.0 1925.9,1076.3 1926.5,1090.0 1927.0,1083.9 1927.6,1089.1 1928.1,1116.5 1928.7,1116.5 1929.2,1104.5 1929.8,1114.3 1930.3,1116.5 1930.9,1114.7 1931.5,1116.5 1932.0,1110.0 1932.6,1088.6 1933.1,1071.6 1933.7,1071.9 1934.2,1098.6 1934.8,1116.1 1935.3,1108.8 1935.9,1103.9 1936.4,1109.5 1937.0,1086.0 1937.5,1083.4 1938.1,1103.9 1938.7,1116.5 1939.2,1103.7 1939.8,1080.5 1940.3,1072.5 1940.9,1086.6 1941.4,1104.7 1942.0,1083.5 1942.5,1089.2 1943.1,1101.2 1943.6,1098.0 1944.2,1116.5 1944.7,1116.5 1945.3,1111.0 1945.9,1095.4 1946.4,1095.0 1947.0,1101.6 1947.5,1113.2 1948.1,1105.8 1948.6,1102.1 1949.2,1116.5 1949.7,1116.5 1950.3,1088.7 1950.8,1092.6 1951.4,1105.9 1951.9,1098.0 1952.5,1095.9 1953.1,1105.1 1953.6,1116.5 1954.2,1113.1 1954.7,1106.5 1955.3,1112.1 1955.8,1107.6 1956.4,1096.1 1956.9,1089.5 1957.5,1099.0 1958.0,1113.3 1958.6,1116.5 1959.1,1116.5 1959.7,1103.7 1960.3,1086.0 1960.8,1088.9 1961.4,1101.6 1961.9,1116.5 1962.5,1102.3 1963.0,1088.4 1963.6,1095.5 1964.1,1108.4 1964.7,1116.5 1965.2,1104.2 1965.8,1087.8 1966.3,1106.7 1966.9,1111.9 1967.4,1113.9 1968.0,1103.2 1968.6,1082.1 1969.1,1070.0 1969.7,1060.3 1970.2,1093.8 1970.8,1108.8 1971.3,1106.6 1971.9,1107.1 1972.4,1092.4 1973.0,1093.7 1973.5,1101.2 1974.1,1115.0 1974.6,1105.8 1975.2,1082.5 1975.8,1064.3 1976.3,1070.9 1976.9,1084.9 1977.4,1092.1 1978.0,1100.8 1978.5,1098.7 1979.1,1092.6 1979.6,1110.3 1980.2,1112.9 1980.7,1116.5 1981.3,1116.5 1981.8,1116.0 1982.4,1108.4 1983.0,1104.6 1983.5,1112.2 1984.1,1113.4 1984.6,1116.5 1985.2,1116.5 1985.7,1096.8 1986.3,1088.9 1986.8,1083.1 1987.4,1094.4 1987.9,1107.5 1988.5,1110.6 1989.0,1115.1 1989.6,1108.3 1990.2,1087.8 1990.7,1108.2 1991.3,1116.5 1991.8,1106.9 1992.4,1112.5 1992.9,1111.0 1993.5,1115.2 1994.0,1116.5 1994.6,1116.5 1995.1,1116.5 1995.7,1110.3 1996.2,1106.2 1996.8,1100.7 1997.3,1116.5 1997.9,1116.5 1998.5,1108.1 1999.0,1103.6 1999.6,1107.9 2000.1,1111.7 2000.7,1108.7 2001.2,1095.4 2001.8,1101.9 2002.3,1106.5 2002.9,1114.9 2003.4,1109.5 2004.0,1090.7 2004.5,1104.9 2005.1,1112.5 2005.7,1116.5 2006.2,1116.5 2006.8,1106.7 2007.3,1116.5 2007.9,1116.5 2008.4,1103.5 2009.0,1096.6 2009.5,1100.0 2010.1,1108.1 2010.6,1101.7 2011.2,1095.8 2011.7,1095.8 2012.3,1071.0 2012.9,1102.5 2013.4,1116.5 2014.0,1110.2 2014.5,1112.8 2015.1,1101.4 2015.6,1097.2 2016.2,1090.1 2016.7,1077.9 2017.3,1091.5 2017.8,1100.0 2018.4,1095.3 2018.9,1089.7 2019.5,1082.7 2020.1,1083.4 2020.6,1088.1 2021.2,1088.2 2021.7,1095.7 2022.3,1116.5 2022.8,1116.5 2023.4,1098.9 2023.9,1111.5 2024.5,1116.5 2025.0,1116.5 2025.6,1101.6 2026.1,1115.8 2026.7,1113.8 2027.2,1081.8 2027.8,1082.5 2028.4,1081.9 2028.9,1061.7 2029.5,1083.9 2030.0,1090.5 2030.6,1083.7 2031.1,1106.9 2031.7,1107.8 2032.2,1085.8 2032.8,1103.7 2033.3,1104.0 2033.9,1095.2 2034.4,1116.5 2035.0,1116.5 2035.6,1116.5 2036.1,1102.3 2036.7,1094.5 2037.2,1096.7 2037.8,1085.5 2038.3,1043.6 2038.9,1080.9 2039.4,1108.2 2040.0,1096.1 2040.5,1085.2 2041.1,1099.4 2041.6,1108.2 2042.2,1097.4 2042.8,1097.4 2043.3,1090.4 2043.9,1076.0 2044.4,1090.2 2045.0,1116.5 2045.5,1116.5 2046.1,1091.1 2046.6,1077.4 2047.2,1079.2 2047.7,1079.3 2048.3,1097.7 2048.8,1106.8 2049.4,1089.6 2050.0,1089.7 2050.5,1091.9 2051.1,1105.7 2051.6,1116.5 2052.2,1095.8 2052.7,1074.3 2053.3,1089.4 2053.8,1081.9 2054.4,1064.5 2054.9,1049.3 2055.5,1099.2 2056.0,1116.5 2056.6,1088.9 2057.2,1113.8 2057.7,1116.5 2058.3,1116.5 2058.8,1085.8 2059.4,1073.8 2059.9,1070.9 2060.5,1077.9 2061.0,1089.6 2061.6,1076.3 2062.1,1082.9 2062.7,1099.5 2063.2,1103.1 2063.8,1116.5 2064.3,1116.5 2064.9,1116.5 2065.5,1116.5 2066.0,1105.6 2066.6,1092.6 2067.1,1116.5 2067.7,1116.5 2068.2,1090.8 2068.8,1094.3 2069.3,1095.0 2069.9,1091.0 2070.4,1116.5 2071.0,1116.5 2071.5,1110.0 2072.1,1116.5 2072.7,1116.5 2073.2,1113.8 2073.8,1114.2 2074.3,1114.7 2074.9,1102.5 2075.4,1069.5 2076.0,1086.8 2076.5,1109.9 2077.1,1103.1 2077.6,1098.6 2078.2,1100.8 2078.7,1116.5 2079.3,1116.5 2079.9,1099.9 2080.4,1114.1 2081.0,1113.1 2081.5,1103.9 2082.1,1093.1 2082.6,1077.6 2083.2,1047.3 2083.7,1055.8 2084.3,1073.1 2084.8,1087.5 2085.4,1083.9 2085.9,1084.7 2086.5,1107.1 2087.1,1092.4 2087.6,1083.6 2088.2,1085.8 2088.7,1098.7 2089.3,1109.6 2089.8,1080.3 2090.4,1072.9 2090.9,1090.3 2091.5,1110.1 2092.0,1116.5 2092.6,1113.4 2093.1,1116.5 2093.7,1116.5 2094.2,1116.5 2094.8,1116.5 2095.4,1113.3 2095.9,1116.5 2096.5,1116.5 2097.0,1096.4 2097.6,1108.1 2098.1,1116.5 2098.7,1114.8 2099.2,1105.6 2099.8,1095.9 2100.3,1116.4 2100.9,1116.5 2101.4,1091.4 2102.0,1089.8 2102.6,1086.0 2103.1,1064.0 2103.7,1088.3 2104.2,1095.5 2104.8,1084.3 2105.3,1100.2 2105.9,1108.5 2106.4,1110.7 2107.0,1116.5 2107.5,1116.5 2108.1,1097.4 2108.6,1082.4 2109.2,1096.3 2109.8,1103.9 2110.3,1094.9 2110.9,1116.5 2111.4,1116.5 2112.0,1110.9 2112.5,1116.5 2113.1,1108.7 2113.6,1079.2 2114.2,1099.6 2114.7,1116.5 2115.3,1116.5 2115.8,1116.5 2116.4,1115.1 2117.0,1116.5 2117.5,1116.5 2118.1,1104.2 2118.6,1092.5 2119.2,1116.5 2119.7,1104.3 2120.3,1100.2 2120.8,1098.3 2121.4,1086.4 2121.9,1087.4 2122.5,1099.7 2123.0,1103.3 2123.6,1115.3 2124.1,1116.5 2124.7,1116.5 2125.3,1108.2 2125.8,1095.0 2126.4,1094.7 2126.9,1116.5 2127.5,1116.5 2128.0,1108.2 2128.6,1106.8 2129.1,1115.8 2129.7,1116.5 2130.2,1113.1 2130.8,1097.5 2131.3,1094.0 2131.9,1093.9 2132.5,1112.9 2133.0,1116.5 2133.6,1105.7 2134.1,1093.7 2134.7,1093.2 2135.2,1105.5 2135.8,1109.4 2136.3,1107.8 2136.9,1116.5 2137.4,1116.5 2138.0,1097.2 2138.5,1090.3 2139.1,1116.5 2139.7,1116.5 2140.2,1116.5 2140.8,1109.8 2141.3,1089.2 2141.9,1093.1 2142.4,1105.2 2143.0,1116.5 2143.5,1116.5 2144.1,1116.5 2144.6,1116.5 2145.2,1116.5 2145.7,1098.3 2146.3,1101.4 2146.9,1113.4 2147.4,1116.5 2148.0,1116.5 2148.5,1094.9 2149.1,1093.0 2149.6,1089.4 2150.2,1076.0 2150.7,1101.6 2151.3,1116.5 2151.8,1098.0 2152.4,1096.4 2152.9,1085.8 2153.5,1087.2 2154.1,1091.0 2154.6,1082.3 2155.2,1092.7 2155.7,1098.6 2156.3,1107.6 2156.8,1109.8 2157.4,1100.5 2157.9,1105.0 2158.5,1111.3 2159.0,1100.4 2159.6,1096.9 2160.1,1084.1 2160.7,1070.3 2161.2,1085.1 2161.8,1103.5 2162.4,1102.0 2162.9,1095.0 2163.5,1102.9 2164.0,1114.9 2164.6,1110.1 2165.1,1097.1 2165.7,1107.1 2166.2,1116.0 2166.8,1114.1 2167.3,1116.5 2167.9,1116.5 2168.4,1097.0 2169.0,1098.0 2169.6,1089.1 2170.1,1095.7 2170.7,1107.4 2171.2,1084.2 2171.8,1083.6 2172.3,1088.5 2172.9,1114.9 2173.4,1109.4 2174.0,1084.0 2174.5,1094.5 2175.1,1116.5 2175.6,1116.5 2176.2,1103.8 2176.8,1116.5 2177.3,1096.1 2177.9,1080.9 2178.4,1089.1 2179.0,1106.9 2179.5,1094.4 2180.1,1078.4 2180.6,1095.9 2181.2,1115.8 2181.7,1111.7 2182.3,1115.4 2182.8,1101.6 2183.4,1084.2 2184.0,1104.1 2184.5,1105.1 2185.1,1116.5 2185.6,1116.5 2186.2,1112.3 2186.7,1116.5 2187.3,1116.5 2187.8,1108.5 2188.4,1116.0 2188.9,1116.5 2189.5,1116.5 2190.0,1116.5 2190.6,1116.5 2191.1,1115.8 2191.7,1093.4 2192.3,1092.3 2192.8,1081.8 2193.4,1087.9 2193.9,1103.6 2194.5,1099.6 2195.0,1105.0 2195.6,1116.5 2196.1,1116.5 2196.7,1116.5 2197.2,1115.8 2197.8,1110.5 2198.3,1115.9 2198.9,1105.0 2199.5,1099.7 2200.0,1086.6 2200.6,1088.8 2201.1,1115.6 2201.7,1103.6 2202.2,1098.8 2202.8,1111.0 2203.3,1098.2 2203.9,1095.9 2204.4,1098.6 2205.0,1105.8 2205.5,1114.8 2206.1,1103.4 2206.7,1105.5 2207.2,1114.8 2207.8,1110.3 2208.3,1092.3 2208.9,1078.7 2209.4,1090.9 2210.0,1103.4 2210.5,1111.7 2211.1,1100.4 2211.6,1090.5 2212.2,1093.8 2212.7,1110.0 2213.3,1111.2 2213.9,1097.3 2214.4,1097.6 2215.0,1089.8 2215.5,1096.4 2216.1,1108.8 2216.6,1102.7 2217.2,1110.1 2217.7,1103.6 2218.3,1089.9 2218.8,1112.2 2219.4,1103.9 2219.9,1085.6 2220.5,1083.4 2221.0,1083.1 2221.6,1092.2 2222.2,1101.2 2222.7,1114.8 2223.3,1107.8 2223.8,1093.4 2224.4,1103.6 2224.9,1103.6 2225.5,1107.7 2226.0,1103.6 2226.6,1094.6 2227.1,1101.6 2227.7,1109.3 2228.2,1103.2 2228.8,1095.6 2229.4,1108.7 2229.9,1106.8 2230.5,1103.7 2231.0,1098.1 2231.6,1109.4 2232.1,1116.5 2232.7,1097.9 2233.2,1092.3 2233.8,1105.5 2234.3,1104.7 2234.9,1107.1 2235.4,1081.4 2236.0,1100.1"/>
<polyline fill="none" stroke="#0000ff" stroke-width="3" stroke-linejoin="miter" stroke-miterlimit="2" points="408.7,574.6 409.3,563.3 409.9,563.5 410.4,590.4 411.0,584.7 411.5,560.8 412.1,580.5 412.6,578.7 413.2,566.4 413.7,570.3 414.3,574.9 414.8,571.4 415.4,581.9 415.9,590.4 416.5,588.1 417.0,577.7 417.6,570.5 418.2,582.7 418.7,590.4 419.3,590.4 419.8,582.7 420.4,582.9 420.9,565.4 421.5,547.8 422.0,590.4 422.6,590.4 423.1,590.4 423.7,587.4 424.2,582.1 424.8,573.4 425.4,547.4 425.9,565.5 426.5,590.4 427.0,556.5 427.6,542.5 428.1,561.4 428.7,577.2 429.2,590.4 429.8,590.4 430.3,575.5 430.9,590.4 431.4,590.4 432.0,589.6 432.6,590.4 433.1,590.4 433.7,579.3 434.2,577.5 434.8,585.7 435.3,578.1 435.9,559.0 436.4,562.7 437.0,586.0 437.5,580.4 438.1,576.1 438.6,574.1 439.2,581.9 439.8,581.4 440.3,567.0 440.9,590.4 441.4,590.4 442.0,582.8 442.5,574.8 443.1,588.9 443.6,590.4 444.2,590.4 444.7,582.9 445.3,582.4 445.8,565.6 446.4,590.4 446.9,590.4 447.5,559.0 448.1,566.6 448.6,590.4 449.2,580.0 449.7,565.5 450.3,563.5 450.8,571.7 451.4,590.4 451.9,590.4 452.5,586.8 453.0,574.7 453.6,566.0 454.1,590.4 454.7,590.4 455.3,583.5 455.8,557.9 456.4,578.7 456.9,588.0 457.5,573.1 458.0,566.7 458.6,560.8 459.1,563.7 459.7,577.0 460.2,584.0 460.8,568.3 461.3,590.4 461.9,590.4 462.5,580.6 463.0,590.4 463.6,590.4 464.1,583.5 464.7,576.3 465.2,569.1 465.8,571.8 466.3,553.4 466.9,557.3 467.4,585.9 468.0,590.4 468.5,575.9 469.1,556.7 469.7,590.1 470.2,586.6 470.8,579.8 471.3,570.1 471.9,567.1 472.4,578.5 473.0,588.7 473.5,582.5 474.1,586.9 474.6,584.2 475.2,549.2 475.7,579.2 476.3,590.4 476.8,590.4 477.4,535.9 478.0,558.0 478.5,590.4 479.1,588.2 479.6,582.6 480.2,590.4 480.7,590.4 481.3,576.6 481.8,577.4 482.4,580.9 482.9,577.7 483.5,590.4 484.0,590.4 484.6,590.4 485.2,590.4 485.7,590.4 486.3,590.4 486.8,574.1 487.4,559.9 487.9,580.5 488.5,572.8 489.0,577.8 489.6,587.9 490.1,576.4 490.7,569.4 491.2,590.4 491.8,583.5 492.4,575.7 492.9,590.4 493.5,590.4 494.0,590.4 494.6,562.1 495.1,572.9 495.7,590.4 496.2,590.4 496.8,590.4 497.3,566.7 497.9,569.9 498.4,590.4 499.0,584.4 499.6,566.3 500.1,560.4 500.7,543.0 501.2,549.2 501.8,584.2 502.3,588.8 502.9,581.7 503.4,578.4 504.0,577.9 504.5,577.0 505.1,590.4 505.6,590.4 506.2,575.4 506.8,590.4 507.3,586.2 507.9,552.2 508.4,554.1 509.0,569.9 509.5,589.4 510.1,552.3 510.6,527.6 511.2,582.3 511.7,590.4 512.3,588.2 512.8,590.4 513.4,590.4 513.9,582.7 514.5,568.3 515.1,548.8 515.6,590.4 516.2,590.4 516.7,590.4 517.3,585.6 517.8,561.2 518.4,568.8 518.9,585.7 519.5,568.2 520.0,526.0 520.6,565.5 521.1,588.0 521.7,582.6 522.3,588.0 522.8,590.4 523.4,570.2 523.9,566.1 524.5,590.4 525.0,575.5 525.6,580.3 526.1,590.4 526.7,589.2 527.2,587.7 527.8,590.4 528.3,590.4 528.9,586.8 529.5,585.4 530.0,581.7 530.6,581.1 531.1,571.5 531.7,571.9 532.2,584.0 532.8,588.5 533.3,590.4 533.9,590.4 534.4,587.5 535.0,585.7 535.5,590.4 536.1,582.3 536.7,566.4 537.2,576.7 537.8,590.4 538.3,590.4 538.9,566.9 539.4,590.4 540.0,584.5 540.5,574.5 541.1,590.4 541.6,588.9 542.2,575.5 542.7,573.6 543.3,590.4 543.8,570.1 544.4,555.7 545.0,590.4 545.5,583.1 546.1,565.9 546.6,568.6 547.2,583.5 547.7,570.2 548.3,559.9 548.8,566.4 549.4,556.9 549.9,548.6 550.5,564.0 551.0,549.3 551.6,522.4 552.2,578.1 552.7,583.9 553.3,577.4 553.8,489.0 554.4,578.1 554.9,510.4 555.5,525.4 556.0,537.0 556.6,529.8 557.1,526.8 557.7,545.8 558.2,572.3 558.8,559.8 559.4,588.3 559.9,553.4 560.5,531.8 561.0,589.2 561.6,566.1 562.1,558.0 562.7,590.4 563.2,586.8 563.8,551.7 564.3,567.0 564.9,583.0 565.4,570.7 566.0,579.7 566.6,580.7 567.1,565.9 567.7,581.3 568.2,590.4 568.8,590.4 569.3,590.4 569.9,573.9 570.4,560.2 571.0,563.3 571.5,563.5 572.1,570.7 572.6,583.2 573.2,577.7 573.7,542.9 574.3,556.2 574.9,588.5 575.4,586.5 576.0,584.9 576.5,590.4 577.1,583.9 577.6,578.2 578.2,560.5 578.7,556.5 579.3,571.5 579.8,558.5 580.4,566.9 580.9,560.2 581.5,564.6 582.1,590.4 582.6,590.4 583.2,581.5 583.7,590.4 584.3,590.4 584.8,590.4 585.4,577.9 585.9,556.1 586.5,583.4 587.0,590.4 587.6,590.4 588.1,581.0 588.7,589.6 589.3,590.4 589.8,586.7 590.4,580.9 590.9,590.1 591.5,542.4 592.0,583.5 592.6,584.0 593.1,590.2 593.7,586.3 594.2,560.2 594.8,561.9 595.3,539.4 595.9,585.7 596.5,590.4 597.0,586.5 597.6,572.8 598.1,575.3 598.7,589.7 599.2,568.7 599.8,553.3 600.3,554.7 600.9,573.3 601.4,587.4 602.0,558.0 602.5,549.6 603.1,582.8 603.7,568.2 604.2,532.2 604.8,586.0 605.3,487.7 605.9,520.1 606.4,553.1 607.0,564.4 607.5,560.1 608.1,587.0 608.6,584.1 609.2,589.8 609.7,585.8 610.3,565.6 610.8,580.7 611.4,539.3 612.0,570.6 612.5,570.7 613.1,534.4 613.6,509.3 614.2,564.4 614.7,581.4 615.3,551.1 615.8,566.0 616.4,590.4 616.9,577.7 617.5,548.3 618.0,564.5 618.6,571.0 619.2,560.3 619.7,546.7 620.3,547.7 620.8,553.9 621.4,564.7 621.9,578.7 622.5,565.1 623.0,543.3 623.6,528.2 624.1,544.5 624.7,528.5 625.2,484.6 625.8,461.3 626.4,431.5 626.9,443.8 627.5,496.1 628.0,525.2 628.6,522.8 629.1,551.9 629.7,554.5 630.2,567.6 630.8,589.3 631.3,580.3 631.9,548.3 632.4,565.1 633.0,585.6 633.6,552.3 634.1,555.7 634.7,553.1 635.2,572.3 635.8,590.4 636.3,590.4 636.9,581.6 637.4,590.4 638.0,590.4 638.5,578.3 639.1,551.0 639.6,575.0 640.2,574.7 640.7,563.5 641.3,577.6 641.9,578.6 642.4,579.6 643.0,572.2 643.5,565.3 644.1,578.4 644.6,569.1 645.2,572.7 645.7,582.4 646.3,568.6 646.8,552.6 647.4,565.1 647.9,561.6 648.5,552.5 649.1,578.6 649.6,590.0 650.2,579.6 650.7,569.9 651.3,590.4 651.8,590.4 652.4,590.4 652.9,590.4 653.5,573.1 654.0,545.5 654.6,548.5 655.1,562.2 655.7,579.7 656.3,583.7 656.8,566.1 657.4,538.3 657.9,537.9 658.5,570.3 659.0,582.1 659.6,584.8 660.1,590.4 660.7,590.4 661.2,578.7 661.8,551.7 662.3,553.6 662.9,560.0 663.5,537.0 664.0,554.2 664.6,556.4 665.1,547.8 665.7,575.0 666.2,581.0 666.8,575.1 667.3,581.8 667.9,584.8 668.4,579.8 669.0,571.3 669.5,585.1 670.1,590.4 670.6,590.4 671.2,590.4 671.8,567.2 672.3,568.6 672.9,573.1 673.4,567.4 674.0,580.1 674.5,590.4 675.1,575.5 675.6,558.9 676.2,560.5 676.7,539.7 677.3,546.2 677.8,567.0 678.4,548.9 679.0,564.0 679.5,590.4 680.1,590.4 680.6,590.4 681.2,562.2 681.7,560.7 682.3,573.3 682.8,582.0 683.4,576.8 683.9,590.4 684.5,590.4 685.0,575.8 685.6,590.4 686.2,568.5 686.7,568.7 687.3,590.4 687.8,590.4 688.4,580.5 688.9,576.3 689.5,582.2 690.0,562.5 690.6,568.0 691.1,590.4 691.7,590.4 692.2,565.1 692.8,574.2 693.4,590.4 693.9,590.4 694.5,570.7 695.0,565.2 695.6,566.0 696.1,583.6 696.7,580.9 697.2,559.1 697.8,590.4 698.3,580.0 698.9,528.2 699.4,559.0 700.0,588.8 700.6,560.0 701.1,580.5 701.7,590.4 702.2,590.4 702.8,590.4 703.3,590.4 703.9,579.0 704.4,567.7 705.0,590.4 705.5,588.4 706.1,546.8 706.6,538.5 707.2,550.2 707.7,565.9 708.3,566.0 708.9,579.1 709.4,582.2 710.0,570.5 710.5,565.5 711.1,558.1 711.6,587.7 712.2,590.4 712.7,561.5 713.3,578.2 713.8,590.4 714.4,590.4 714.9,590.4 715.5,586.5 716.1,549.2 716.6,551.3 717.2,565.5 717.7,576.9 718.3,576.9 718.8,585.9 719.4,577.2 719.9,553.6 720.5,553.1 721.0,574.1 721.6,585.4 722.1,580.6 722.7,557.8 723.3,553.3 723.8,590.4 724.4,590.4 724.9,549.1 725.5,545.3 726.0,558.6 726.6,567.2 727.1,590.4 727.7,590.4 728.2,590.4 728.8,590.4 729.3,577.0 729.9,566.1 730.5,574.8 731.0,571.2 731.6,570.4 732.1,590.4 732.7,577.5 733.2,580.2 733.8,590.4 734.3,590.4 734.9,590.4 735.4,590.4 736.0,590.4 736.5,588.5 737.1,590.4 737.6,590.4 738.2,590.4 738.8,590.4 739.3,570.0 739.9,557.7 740.4,590.4 741.0,590.4 741.5,581.4 742.1,544.9 742.6,549.2 743.2,570.2 743.7,550.6 744.3,555.1 744.8,583.8 745.4,590.4 746.0,590.4 746.5,557.3 747.1,569.4 747.6,590.4 748.2,590.4 748.7,590.4 749.3,565.9 749.8,570.8 750.4,572.9 750.9,560.2 751.5,563.9 752.0,550.8 752.6,546.4 753.2,573.1 753.7,590.4 754.3,590.4 754.8,584.2 755.4,577.3 755.9,547.5 756.5,518.9 757.0,557.8 757.6,586.5 758.1,561.3 758.7,581.8 759.2,590.4 759.8,572.7 760.4,578.8 760.9,590.4 761.5,590.2 762.0,575.2 762.6,568.7 763.1,572.1 763.7,566.1 764.2,571.0 764.8,564.2 765.3,574.2 765.9,590.4 766.4,590.4 767.0,590.4 767.5,590.4 768.1,572.8 768.7,563.2 769.2,584.7 769.8,590.4 770.3,590.4 770.9,590.4 771.4,590.4 772.0,590.4 772.5,590.4 773.1,571.8 773.6,590.4 774.2,590.4 774.7,590.4 775.3,590.4 775.9,586.3 776.4,590.4 777.0,590.4 777.5,553.5 778.1,553.3 778.6,561.9 779.2,564.2 779.7,590.4 780.3,590.4 780.8,577.5 781.4,590.4 781.9,587.2 782.5,564.1 783.1,581.3 783.6,573.5 784.2,578.0 784.7,580.8 785.3,581.6 785.8,582.9 786.4,584.9 786.9,572.2 787.5,554.2 788.0,554.7 788.6,568.7 789.1,590.4 789.7,571.4 790.3,590.4 790.8,590.4 791.4,575.4 791.9,554.8 792.5,554.9 793.0,564.4 793.6,569.0 794.1,573.5 794.7,590.4 795.2,590.4 795.8,590.4 796.3,578.5 796.9,576.3 797.5,590.4 798.0,590.4 798.6,574.9 799.1,532.1 799.7,512.6 800.2,495.1 800.8,462.9 801.3,338.1 801.9,224.8 802.4,234.3 803.0,291.8 803.5,397.0 804.1,480.0 804.6,514.6 805.2,542.2 805.8,553.4 806.3,546.9 806.9,549.4 807.4,541.4 808.0,529.0 808.5,549.0 809.1,560.0 809.6,566.8 810.2,590.4 810.7,590.4 811.3,590.4 811.8,573.9 812.4,549.6 813.0,546.3 813.5,559.1 814.1,572.6 814.6,580.1 815.2,590.4 815.7,585.9 816.3,567.6 816.8,588.1 817.4,584.1 817.9,590.4 818.5,590.4 819.0,588.3 819.6,590.4 820.2,590.4 820.7,579.8 821.3,558.3 821.8,555.4 822.4,561.2 822.9,590.4 823.5,590.4 824.0,590.4 824.6,588.3 825.1,557.1 825.7,558.9 826.2,582.6 826.8,590.4 827.4,581.3 827.9,590.4 828.5,590.4 829.0,574.8 829.6,583.9 830.1,590.4 830.7,582.7 831.2,588.0 831.8,590.4 832.3,580.1 832.9,566.5 833.4,554.8 834.0,570.6 834.5,590.4 835.1,590.4 835.7,555.0 836.2,577.0 836.8,590.4 837.3,590.4 837.9,590.4 838.4,590.4 839.0,590.4 839.5,590.4 840.1,590.4 840.6,590.4 841.2,563.5 841.7,563.9 842.3,573.7 842.9,578.6 843.4,590.4 844.0,590.4 844.5,586.3 845.1,567.6 845.6,560.0 846.2,574.6 846.7,590.4 847.3,582.4 847.8,561.1 848.4,538.4 848.9,565.3 849.5,590.4 850.1,590.4 850.6,585.8 851.2,564.4 851.7,590.2 852.3,589.8 852.8,590.4 853.4,590.4 853.9,590.4 854.5,563.4 855.0,573.6 855.6,590.4 856.1,586.1 856.7,550.0 857.3,573.6 857.8,590.4 858.4,586.2 858.9,581.7 859.5,575.9 860.0,582.5 860.6,590.4 861.1,590.4 861.7,588.9 862.2,590.4 862.8,583.5 863.3,573.0 863.9,579.8 864.4,590.4 865.0,570.9 865.6,569.6 866.1,586.9 866.7,572.8 867.2,565.8 867.8,575.8 868.3,576.5 868.9,590.4 869.4,590.4 870.0,557.1 870.5,555.5 871.1,590.4 871.6,590.4 872.2,587.9 872.8,590.4 873.3,580.7 873.9,590.4 874.4,577.1 875.0,562.1 875.5,568.6 876.1,558.8 876.6,550.7 877.2,541.9 877.7,576.1 878.3,586.8 878.8,587.1 879.4,575.0 880.0,492.5 880.5,440.4 881.1,467.4 881.6,529.7 882.2,560.6 882.7,562.7 883.3,554.5 883.8,537.6 884.4,560.1 884.9,532.7 885.5,528.7 886.0,583.0 886.6,575.5 887.2,561.2 887.7,562.1 888.3,580.5 888.8,568.6 889.4,559.6 889.9,558.8 890.5,541.5 891.0,578.0 891.6,590.4 892.1,590.4 892.7,589.3 893.2,575.7 893.8,575.4 894.4,586.6 894.9,584.6 895.5,555.9 896.0,578.7 896.6,590.4 897.1,578.9 897.7,578.0 898.2,583.8 898.8,559.2 899.3,540.1 899.9,552.0 900.4,578.4 901.0,560.4 901.5,545.9 902.1,582.3 902.7,590.4 903.2,590.2 903.8,558.4 904.3,549.4 904.9,575.9 905.4,590.4 906.0,590.4 906.5,583.5 907.1,590.4 907.6,586.0 908.2,582.5 908.7,579.6 909.3,553.9 909.9,587.8 910.4,590.4 911.0,590.4 911.5,590.4 912.1,568.1 912.6,584.8 913.2,573.3 913.7,559.7 914.3,590.4 914.8,590.4 915.4,570.2 915.9,586.3 916.5,590.4 917.1,590.4 917.6,580.7 918.2,560.9 918.7,581.9 919.3,570.4 919.8,581.4 920.4,590.4 920.9,559.2 921.5,555.6 922.0,561.7 922.6,557.4 923.1,583.7 923.7,589.2 924.3,578.9 924.8,580.6 925.4,590.4 925.9,590.4 926.5,590.4 927.0,590.4 927.6,584.4 928.1,583.4 928.7,584.3 929.2,588.7 929.8,557.0 930.3,583.5 930.9,589.8 931.4,547.5 932.0,538.6 932.6,581.6 933.1,534.3 933.7,534.3 934.2,577.7 934.8,586.1 935.3,583.3 935.9,532.2 936.4,529.1 937.0,526.5 937.5,519.8 938.1,526.5 938.6,575.2 939.2,588.9 939.8,534.3 940.3,522.2 940.9,480.5 941.4,530.1 942.0,537.1 942.5,543.4 943.1,556.6 943.6,571.7 944.2,586.7 944.7,577.7 945.3,586.2 945.8,589.6 946.4,588.3 947.0,579.2 947.5,590.4 948.1,574.9 948.6,550.6 949.2,554.1 949.7,562.8 950.3,542.5 950.8,562.8 951.4,590.4 951.9,590.4 952.5,578.6 953.0,562.3 953.6,559.7 954.2,551.1 954.7,568.4 955.3,590.4 955.8,590.4 956.4,562.7 956.9,537.6 957.5,558.5 958.0,575.4 958.6,585.6 959.1,585.7 959.7,587.4 960.2,590.4 960.8,590.4 961.3,584.7 961.9,580.3 962.5,572.7 963.0,565.5 963.6,568.4 964.1,569.2 964.7,590.4 965.2,590.4 965.8,571.3 966.3,572.9 966.9,590.4 967.4,573.9 968.0,581.7 968.5,581.5 969.1,588.5 969.7,590.4 970.2,590.4 970.8,590.4 971.3,590.4 971.9,583.9 972.4,579.5 973.0,588.7 973.5,560.3 974.1,548.3 974.6,581.5 975.2,574.4 975.7,577.0 976.3,590.4 976.9,586.7 977.4,566.9 978.0,559.4 978.5,559.2 979.1,574.9 979.6,590.4 980.2,564.0 980.7,557.2 981.3,576.7 981.8,564.2 982.4,552.1 982.9,578.9 983.5,590.4 984.1,590.4 984.6,589.2 985.2,590.4 985.7,590.4 986.3,590.4 986.8,590.4 987.4,569.1 987.9,565.3 988.5,587.5 989.0,583.0 989.6,578.6 990.1,590.4 990.7,590.4 991.3,590.4 991.8,588.4 992.4,567.0 992.9,590.4 993.5,590.4 994.0,575.1 994.6,565.6 995.1,570.6 995.7,590.4 996.2,586.6 996.8,587.5 997.3,590.4 997.9,559.7 998.4,538.1 999.0,549.0 999.6,561.7 1000.1,576.0 1000.7,590.4 1001.2,570.7 1001.8,564.6 1002.3,581.1 1002.9,590.4 1003.4,590.4 1004.0,569.3 1004.5,581.4 1005.1,590.4 1005.6,565.8 1006.2,557.0 1006.8,580.9 1007.3,590.4 1007.9,590.4 1008.4,590.4 1009.0,565.2 1009.5,569.8 1010.1,564.3 1010.6,568.4 1011.2,590.4 1011.7,573.2 1012.3,571.7 1012.8,590.4 1013.4,590.4 1014.0,575.3 1014.5,590.4 1015.1,590.4 1015.6,583.9 1016.2,585.8 1016.7,575.0 1017.3,577.1 1017.8,590.4 1018.4,583.3 1018.9,569.4 1019.5,572.6 1020.0,562.5 1020.6,571.3 1021.2,574.1 1021.7,573.5 1022.3,590.4 1022.8,576.2 1023.4,547.9 1023.9,541.1 1024.5,572.3 1025.0,567.1 1025.6,564.5 1026.1,590.4 1026.7,582.5 1027.2,571.0 1027.8,564.4 1028.3,572.4 1028.9,579.4 1029.5,564.1 1030.0,565.0 1030.6,573.0 1031.1,585.0 1031.7,572.4 1032.2,561.0 1032.8,565.2 1033.3,570.1 1033.9,574.5 1034.4,580.9 1035.0,576.6 1035.5,548.7 1036.1,540.9 1036.7,527.1 1037.2,502.5 1037.8,457.1 1038.3,402.6 1038.9,376.5 1039.4,432.9 1040.0,475.0 1040.5,531.8 1041.1,543.3 1041.6,540.1 1042.2,550.4 1042.7,563.0 1043.3,569.5 1043.9,564.5 1044.4,546.1 1045.0,559.4 1045.5,583.1 1046.1,570.5 1046.6,590.4 1047.2,590.4 1047.7,569.4 1048.3,571.9 1048.8,590.4 1049.4,581.0 1049.9,590.4 1050.5,590.4 1051.1,590.4 1051.6,579.6 1052.2,586.0 1052.7,588.5 1053.3,567.0 1053.8,549.0 1054.4,559.0 1054.9,568.7 1055.5,551.5 1056.0,571.2 1056.6,590.4 1057.1,580.9 1057.7,577.1 1058.2,590.4 1058.8,573.8 1059.4,553.7 1059.9,575.6 1060.5,590.2 1061.0,582.8 1061.6,567.4 1062.1,532.4 1062.7,570.6 1063.2,590.4 1063.8,590.4 1064.3,590.4 1064.9,590.4 1065.4,568.0 1066.0,551.8 1066.6,586.4 1067.1,590.4 1067.7,590.4 1068.2,584.1 1068.8,578.8 1069.3,572.9 1069.9,551.4 1070.4,550.8 1071.0,585.8 1071.5,590.4 1072.1,590.4 1072.6,575.4 1073.2,570.0 1073.8,590.4 1074.3,585.8 1074.9,590.4 1075.4,590.4 1076.0,587.0 1076.5,576.4 1077.1,588.6 1077.6,580.7 1078.2,582.3 1078.7,590.4 1079.3,590.4 1079.8,577.0 1080.4,570.4 1081.0,590.4 1081.5,590.4 1082.1,574.2 1082.6,546.7 1083.2,569.2 1083.7,588.5 1084.3,577.2 1084.8,571.0 1085.4,561.9 1085.9,553.5 1086.5,552.5 1087.0,577.8 1087.6,590.4 1088.2,578.6 1088.7,566.4 1089.3,540.8 1089.8,524.1 1090.4,568.5 1090.9,584.4 1091.5,585.2 1092.0,590.4 1092.6,580.5 1093.1,549.4 1093.7,566.8 1094.2,544.8 1094.8,529.7 1095.3,539.7 1095.9,479.3 1096.5,445.7 1097.0,471.9 1097.6,515.2 1098.1,535.8 1098.7,550.9 1099.2,564.1 1099.8,590.4 1100.3,590.4 1100.9,579.5 1101.4,572.9 1102.0,574.8 1102.5,551.0 1103.1,562.9 1103.7,575.2 1104.2,544.7 1104.8,539.6 1105.3,542.6 1105.9,532.0 1106.4,545.5 1107.0,566.0 1107.5,585.7 1108.1,590.4 1108.6,580.5 1109.2,559.8 1109.7,567.1 1110.3,561.0 1110.9,564.8 1111.4,559.3 1112.0,548.2 1112.5,558.6 1113.1,553.4 1113.6,546.0 1114.2,502.3 1114.7,502.5 1115.3,503.2 1115.8,428.9 1116.4,407.0 1116.9,410.1 1117.5,428.8 1118.1,476.8 1118.6,543.6 1119.2,541.9 1119.7,556.1 1120.3,590.4 1120.8,577.8 1121.4,542.3 1121.9,547.2 1122.5,565.2 1123.0,573.8 1123.6,581.2 1124.1,562.8 1124.7,541.6 1125.2,554.8 1125.8,589.9 1126.4,589.5 1126.9,546.7 1127.5,541.9 1128.0,551.0 1128.6,566.6 1129.1,581.1 1129.7,573.7 1130.2,564.8 1130.8,569.5 1131.3,578.4 1131.9,560.3 1132.4,571.2 1133.0,590.4 1133.6,585.4 1134.1,572.3 1134.7,547.1 1135.2,544.5 1135.8,553.0 1136.3,586.3 1136.9,569.7 1137.4,545.6 1138.0,573.2 1138.5,579.4 1139.1,582.4 1139.6,577.3 1140.2,569.2 1140.8,579.1 1141.3,590.4 1141.9,590.4 1142.4,572.9 1143.0,565.9 1143.5,573.8 1144.1,574.7 1144.6,559.9 1145.2,571.5 1145.7,566.0 1146.3,584.6 1146.8,590.4 1147.4,590.4 1148.0,590.4 1148.5,590.4 1149.1,575.4 1149.6,547.2 1150.2,561.7 1150.7,555.6 1151.3,553.8 1151.8,581.6 1152.4,581.6 1152.9,577.1 1153.5,570.8 1154.0,587.9 1154.6,584.6 1155.1,571.5 1155.7,573.3 1156.3,586.8 1156.8,590.4 1157.4,582.4 1157.9,565.9 1158.5,582.0 1159.0,572.4 1159.6,551.1 1160.1,578.5 1160.7,569.3 1161.2,561.3 1161.8,562.0 1162.3,534.2 1162.9,539.0 1163.5,574.6 1164.0,589.5 1164.6,575.6 1165.1,566.6 1165.7,584.2 1166.2,590.4 1166.8,577.3 1167.3,539.4 1167.9,580.6 1168.4,590.4 1169.0,570.4 1169.5,569.6 1170.1,556.0 1170.7,564.9 1171.2,588.4 1171.8,590.4 1172.3,590.4 1172.9,584.0 1173.4,563.0 1174.0,584.8 1174.5,585.4 1175.1,590.4 1175.6,587.6 1176.2,554.0 1176.7,543.3 1177.3,578.9 1177.9,575.7 1178.4,565.2 1179.0,590.4 1179.5,590.4 1180.1,590.4 1180.6,582.6 1181.2,588.5 1181.7,590.4 1182.3,590.1 1182.8,588.7 1183.4,584.7 1183.9,587.7 1184.5,578.5 1185.1,587.2 1185.6,550.4 1186.2,585.5 1186.7,558.0 1187.3,576.5 1187.8,558.8 1188.4,508.2 1188.9,512.4 1189.5,570.9 1190.0,539.3 1190.6,572.2 1191.1,530.0 1191.7,510.5 1192.2,590.1 1192.8,492.5 1193.4,485.8 1193.9,570.8 1194.5,495.1 1195.0,497.7 1195.6,521.3 1196.1,535.3 1196.7,523.5 1197.2,514.6 1197.8,518.1 1198.3,513.0 1198.9,500.5 1199.4,565.0 1200.0,583.0 1200.6,578.2 1201.1,583.7 1201.7,545.6 1202.2,544.8 1202.8,569.8 1203.3,523.2 1203.9,521.2 1204.4,522.0 1205.0,521.4 1205.5,484.1 1206.1,464.4 1206.6,499.1 1207.2,584.3 1207.8,582.0 1208.3,569.8 1208.9,536.7 1209.4,558.9 1210.0,570.6 1210.5,559.4 1211.1,529.9 1211.6,546.8 1212.2,587.9 1212.7,580.6 1213.3,577.5 1213.8,589.8 1214.4,590.4 1215.0,538.0 1215.5,530.3 1216.1,551.1 1216.6,556.9 1217.2,551.0 1217.7,568.1 1218.3,590.4 1218.8,575.7 1219.4,574.0 1219.9,576.0 1220.5,590.4 1221.0,585.3 1221.6,551.1 1222.1,560.0 1222.7,568.4 1223.3,548.8 1223.8,564.2 1224.4,590.4 1224.9,590.4 1225.5,589.1 1226.0,587.8 1226.6,581.7 1227.1,576.8 1227.7,590.4 1228.2,590.4 1228.8,571.7 1229.3,552.5 1229.9,569.5 1230.5,567.4 1231.0,564.5 1231.6,554.2 1232.1,544.8 1232.7,560.0 1233.2,575.5 1233.8,579.7 1234.3,582.9 1234.9,549.6 1235.4,542.9 1236.0,582.5 1236.5,578.4 1237.1,559.6 1237.7,541.2 1238.2,538.2 1238.8,530.9 1239.3,509.6 1239.9,494.4 1240.4,465.1 1241.0,436.8 1241.5,436.0 1242.1,471.6 1242.6,473.9 1243.2,428.1 1243.7,353.7 1244.3,278.6 1244.9,185.1 1245.4,84.8 1246.0,98.1 1246.5,190.7 1247.1,306.9 1247.6,375.1 1248.2,399.2 1248.7,438.4 1249.3,457.9 1249.8,449.2 1250.4,471.3 1250.9,499.9 1251.5,511.1 1252.0,523.9 1252.6,521.3 1253.2,518.5 1253.7,515.9 1254.3,495.3 1254.8,543.4 1255.4,561.8 1255.9,547.2 1256.5,555.4 1257.0,571.4 1257.6,539.6 1258.1,520.3 1258.7,551.5 1259.2,560.1 1259.8,561.4 1260.4,550.3 1260.9,551.0 1261.5,571.4 1262.0,548.2 1262.6,560.4 1263.1,562.3 1263.7,563.0 1264.2,576.8 1264.8,571.0 1265.3,575.5 1265.9,570.3 1266.4,570.5 1267.0,585.4 1267.6,573.9 1268.1,552.6 1268.7,547.4 1269.2,539.1 1269.8,571.5 1270.3,572.3 1270.9,539.0 1271.4,560.3 1272.0,561.8 1272.5,534.1 1273.1,548.5 1273.6,574.5 1274.2,556.2 1274.8,511.0 1275.3,517.7 1275.9,547.2 1276.4,569.6 1277.0,576.3 1277.5,583.5 1278.1,573.3 1278.6,590.4 1279.2,590.4 1279.7,552.1 1280.3,559.7 1280.8,582.5 1281.4,567.0 1282.0,578.2 1282.5,590.4 1283.1,590.4 1283.6,590.4 1284.2,574.1 1284.7,573.5 1285.3,571.7 1285.8,560.5 1286.4,561.3 1286.9,581.6 1287.5,590.4 1288.0,565.8 1288.6,575.5 1289.1,590.4 1289.7,586.4 1290.3,585.6 1290.8,590.4 1291.4,590.4 1291.9,563.5 1292.5,535.3 1293.0,575.6 1293.6,588.1 1294.1,571.0 1294.7,574.5 1295.2,575.3 1295.8,578.7 1296.3,590.4 1296.9,584.3 1297.5,585.5 1298.0,590.4 1298.6,590.4 1299.1,575.5 1299.7,569.9 1300.2,585.4 1300.8,587.0 1301.3,572.2 1301.9,590.4 1302.4,590.4 1303.0,590.4 1303.5,585.0 1304.1,578.6 1304.7,540.5 1305.2,560.1 1305.8,590.4 1306.3,587.9 1306.9,571.1 1307.4,585.0 1308.0,578.0 1308.5,551.8 1309.1,559.0 1309.6,577.9 1310.2,574.8 1310.7,557.6 1311.3,583.6 1311.9,568.5 1312.4,557.5 1313.0,578.6 1313.5,581.4 1314.1,581.2 1314.6,560.5 1315.2,575.2 1315.7,590.4 1316.3,590.4 1316.8,590.4 1317.4,590.4 1317.9,590.4 1318.5,581.9 1319.0,564.6 1319.6,576.2 1320.2,587.8 1320.7,581.5 1321.3,569.1 1321.8,531.9 1322.4,544.9 1322.9,555.4 1323.5,565.7 1324.0,590.4 1324.6,590.4 1325.1,590.4 1325.7,590.4 1326.2,590.4 1326.8,568.6 1327.4,557.1 1327.9,565.5 1328.5,579.3 1329.0,590.4 1329.6,588.2 1330.1,577.7 1330.7,575.0 1331.2,572.1 1331.8,576.7 1332.3,590.4 1332.9,590.4 1333.4,590.4 1334.0,569.2 1334.6,564.3 1335.1,576.8 1335.7,553.7 1336.2,557.8 1336.8,580.6 1337.3,588.3 1337.9,590.4 1338.4,588.7 1339.0,562.3 1339.5,559.1 1340.1,563.5 1340.6,561.7 1341.2,546.6 1341.8,563.1 1342.3,585.8 1342.9,569.4 1343.4,556.0 1344.0,590.4 1344.5,590.4 1345.1,588.9 1345.6,590.4 1346.2,582.2 1346.7,566.9 1347.3,582.1 1347.8,590.4 1348.4,590.4 1348.9,590.4 1349.5,586.5 1350.1,589.3 1350.6,590.4 1351.2,590.4 1351.7,590.4 1352.3,566.8 1352.8,529.0 1353.4,555.3 1353.9,574.3 1354.5,551.3 1355.0,547.2 1355.6,565.7 1356.1,590.4 1356.7,590.4 1357.3,590.4 1357.8,590.4 1358.4,567.6 1358.9,590.4 1359.5,590.4 1360.0,577.1 1360.6,561.2 1361.1,547.9 1361.7,553.4 1362.2,578.6 1362.8,590.4 1363.3,569.8 1363.9,572.7 1364.5,587.9 1365.0,561.5 1365.6,559.4 1366.1,590.4 1366.7,590.4 1367.2,575.8 1367.8,574.5 1368.3,568.1 1368.9,550.2 1369.4,572.3 1370.0,590.4 1370.5,587.4 1371.1,590.4 1371.7,590.0 1372.2,577.5 1372.8,572.6 1373.3,577.7 1373.9,590.4 1374.4,568.2 1375.0,568.2 1375.5,590.4 1376.1,590.4 1376.6,590.4 1377.2,590.4 1377.7,590.4 1378.3,589.0 1378.9,590.4 1379.4,580.4 1380.0,566.8 1380.5,565.5 1381.1,583.0 1381.6,583.8 1382.2,576.2 1382.7,582.3 1383.3,590.4 1383.8,590.4 1384.4,572.9 1384.9,560.2 1385.5,550.6 1386.0,584.9 1386.6,590.4 1387.2,581.4 1387.7,575.2 1388.3,580.6 1388.8,573.3 1389.4,555.6 1389.9,550.4 1390.5,556.8 1391.0,547.3 1391.6,563.2 1392.1,581.4 1392.7,554.7 1393.2,546.2 1393.8,568.8 1394.4,547.6 1394.9,532.8 1395.5,539.4 1396.0,542.0 1396.6,548.9 1397.1,553.7 1397.7,557.6 1398.2,559.8 1398.8,551.6 1399.3,571.0 1399.9,575.4 1400.4,580.2 1401.0,590.4 1401.6,590.4 1402.1,590.4 1402.7,590.4 1403.2,585.1 1403.8,565.9 1404.3,565.5 1404.9,578.1 1405.4,583.1 1406.0,577.4 1406.5,562.1 1407.1,571.6 1407.6,590.4 1408.2,585.4 1408.8,582.5 1409.3,588.7 1409.9,590.4 1410.4,573.2 1411.0,573.3 1411.5,574.5 1412.1,542.1 1412.6,537.7 1413.2,584.3 1413.7,590.4 1414.3,562.7 1414.8,565.5 1415.4,590.4 1415.9,588.4 1416.5,581.8 1417.1,575.3 1417.6,549.1 1418.2,533.9 1418.7,551.6 1419.3,590.4 1419.8,583.6 1420.4,554.5 1420.9,571.8 1421.5,565.9 1422.0,552.8 1422.6,584.9 1423.1,590.4 1423.7,587.2 1424.3,584.2 1424.8,576.3 1425.4,583.3 1425.9,587.9 1426.5,572.2 1427.0,570.5 1427.6,580.7 1428.1,583.2 1428.7,580.9 1429.2,590.4 1429.8,590.4 1430.3,585.4 1430.9,585.6 1431.5,590.4 1432.0,580.0 1432.6,558.7 1433.1,585.5 1433.7,584.8 1434.2,589.6 1434.8,557.1 1435.3,574.0 1435.9,585.0 1436.4,588.8 1437.0,585.3 1437.5,551.0 1438.1,545.4 1438.7,585.8 1439.2,570.0 1439.8,588.6 1440.3,526.7 1440.9,528.3 1441.4,554.0 1442.0,559.8 1442.5,587.4 1443.1,571.3 1443.6,573.7 1444.2,576.1 1444.7,568.3 1445.3,579.7 1445.8,568.9 1446.4,577.8 1447.0,586.2 1447.5,590.0 1448.1,563.4 1448.6,585.8 1449.2,537.1 1449.7,538.8 1450.3,542.5 1450.8,559.5 1451.4,572.4 1451.9,590.2 1452.5,584.0 1453.0,580.1 1453.6,587.3 1454.2,572.4 1454.7,568.9 1455.3,590.4 1455.8,590.4 1456.4,588.7 1456.9,589.8 1457.5,590.4 1458.0,576.1 1458.6,540.0 1459.1,568.0 1459.7,583.2 1460.2,562.7 1460.8,583.5 1461.4,589.6 1461.9,559.7 1462.5,550.7 1463.0,548.3 1463.6,572.6 1464.1,590.4 1464.7,583.6 1465.2,570.4 1465.8,573.7 1466.3,582.7 1466.9,587.9 1467.4,590.4 1468.0,580.3 1468.6,590.4 1469.1,590.4 1469.7,565.6 1470.2,590.4 1470.8,589.3 1471.3,589.0 1471.9,590.4 1472.4,578.9 1473.0,576.4 1473.5,562.1 1474.1,553.7 1474.6,569.1 1475.2,588.2 1475.8,582.4 1476.3,590.4 1476.9,588.7 1477.4,570.1 1478.0,590.4 1478.5,580.3 1479.1,547.8 1479.6,578.1 1480.2,587.6 1480.7,556.7 1481.3,553.4 1481.8,580.1 1482.4,590.4 1482.9,590.4 1483.5,585.3 1484.1,583.8 1484.6,578.7 1485.2,571.7 1485.7,576.5 1486.3,583.6 1486.8,539.4 1487.4,535.8 1487.9,556.2 1488.5,536.9 1489.0,507.6 1489.6,471.8 1490.1,518.4 1490.7,543.5 1491.3,554.4 1491.8,535.5 1492.4,546.4 1492.9,563.7 1493.5,579.3 1494.0,587.8 1494.6,557.4 1495.1,559.9 1495.7,586.4 1496.2,583.4 1496.8,578.1 1497.3,583.5 1497.9,585.7 1498.5,558.9 1499.0,564.7 1499.6,590.4 1500.1,588.9 1500.7,567.9 1501.2,561.8 1501.8,554.7 1502.3,533.8 1502.9,551.6 1503.4,584.9 1504.0,576.5 1504.5,555.2 1505.1,566.1 1505.7,574.7 1506.2,585.0 1506.8,590.4 1507.3,582.9 1507.9,564.6 1508.4,580.4 1509.0,590.4 1509.5,585.6 1510.1,579.2 1510.6,560.9 1511.2,550.6 1511.7,577.4 1512.3,590.4 1512.8,590.4 1513.4,590.4 1514.0,589.6 1514.5,573.9 1515.1,567.2 1515.6,567.1 1516.2,576.9 1516.7,574.7 1517.3,583.1 1517.8,590.4 1518.4,570.8 1518.9,566.4 1519.5,590.4 1520.0,590.4 1520.6,590.4 1521.2,577.3 1521.7,576.5 1522.3,590.4 1522.8,559.2 1523.4,544.7 1523.9,550.9 1524.5,569.7 1525.0,576.6 1525.6,534.3 1526.1,543.5 1526.7,575.0 1527.2,578.3 1527.8,583.4 1528.4,575.1 1528.9,558.4 1529.5,573.6 1530.0,590.4 1530.6,590.4 1531.1,576.7 1531.7,560.1 1532.2,554.0 1532.8,578.3 1533.3,580.1 1533.9,559.3 1534.4,562.6 1535.0,580.0 1535.6,575.4 1536.1,575.5 1536.7,590.4 1537.2,585.8 1537.8,578.9 1538.3,590.4 1538.9,587.2 1539.4,587.2 1540.0,586.8 1540.5,590.4 1541.1,590.4 1541.6,572.9 1542.2,578.7 1542.7,566.2 1543.3,553.6 1543.9,550.4 1544.4,541.5 1545.0,552.0 1545.5,590.4 1546.1,590.4 1546.6,576.8 1547.2,578.5 1547.7,585.8 1548.3,590.4 1548.8,580.6 1549.4,558.4 1549.9,581.2 1550.5,586.3 1551.1,575.0 1551.6,586.1 1552.2,575.9 1552.7,571.9 1553.3,586.6 1553.8,585.4 1554.4,590.4 1554.9,590.4 1555.5,590.4 1556.0,590.4 1556.6,590.4 1557.1,574.2 1557.7,583.5 1558.3,588.7 1558.8,573.5 1559.4,558.9 1559.9,576.0 1560.5,584.6 1561.0,563.2 1561.6,567.6 1562.1,589.1 1562.7,590.4 1563.2,590.4 1563.8,590.4 1564.3,568.0 1564.9,562.5 1565.5,581.9 1566.0,572.9 1566.6,569.9 1567.1,576.6 1567.7,590.4 1568.2,575.6 1568.8,561.0 1569.3,579.1 1569.9,575.8 1570.4,562.1 1571.0,555.4 1571.5,556.4 1572.1,555.7 1572.7,567.8 1573.2,574.5 1573.8,585.1 1574.3,590.4 1574.9,590.4 1575.4,590.4 1576.0,561.1 1576.5,529.8 1577.1,546.6 1577.6,571.6 1578.2,561.0 1578.7,574.6 1579.3,590.4 1579.8,590.4 1580.4,590.4 1581.0,588.3 1581.5,574.6 1582.1,553.4 1582.6,543.8 1583.2,551.8 1583.7,558.6 1584.3,574.7 1584.8,587.7 1585.4,590.4 1585.9,590.4 1586.5,590.4 1587.0,572.7 1587.6,588.0 1588.2,590.4 1588.7,590.2 1589.3,586.2 1589.8,584.6 1590.4,576.8 1590.9,589.3 1591.5,590.4 1592.0,590.4 1592.6,584.1 1593.1,589.8 1593.7,588.1 1594.2,578.0 1594.8,568.0 1595.4,589.7 1595.9,590.4 1596.5,566.4 1597.0,551.0 1597.6,545.1 1598.1,553.4 1598.7,574.4 1599.2,584.0 1599.8,557.4 1600.3,553.9 1600.9,549.5 1601.4,522.5 1602.0,542.9 1602.6,547.6 1603.1,530.0 1603.7,503.3 1604.2,481.9 1604.8,498.7 1605.3,486.5 1605.9,469.1 1606.4,449.7 1607.0,412.4 1607.5,401.4 1608.1,404.5 1608.6,438.0 1609.2,486.7 1609.7,499.9 1610.3,503.5 1610.9,518.6 1611.4,491.1 1612.0,534.3 1612.5,534.3 1613.1,541.7 1613.6,557.4 1614.2,537.3 1614.7,531.7 1615.3,529.1 1615.8,526.5 1616.4,519.8 1616.9,526.5 1617.5,543.9 1618.1,562.5 1618.6,541.6 1619.2,537.0 1619.7,540.7 1620.3,567.9 1620.8,581.9 1621.4,588.9 1621.9,581.5 1622.5,562.8 1623.0,560.4 1623.6,575.2 1624.1,590.4 1624.7,567.2 1625.3,552.4 1625.8,550.5 1626.4,548.1 1626.9,586.4 1627.5,582.6 1628.0,551.2 1628.6,566.4 1629.1,590.4 1629.7,590.4 1630.2,570.3 1630.8,575.2 1631.3,590.4 1631.9,590.4 1632.5,590.4 1633.0,590.4 1633.6,577.5 1634.1,588.9 1634.7,590.4 1635.2,590.4 1635.8,564.1 1636.3,539.9 1636.9,566.5 1637.4,573.9 1638.0,560.0 1638.5,568.8 1639.1,571.5 1639.6,583.2 1640.2,578.0 1640.8,557.0 1641.3,534.7 1641.9,536.5 1642.4,590.4 1643.0,590.4 1643.5,589.5 1644.1,574.6 1644.6,590.4 1645.2,590.4 1645.7,585.3 1646.3,584.3 1646.8,581.6 1647.4,570.2 1648.0,551.6 1648.5,554.4 1649.1,584.7 1649.6,590.4 1650.2,590.4 1650.7,588.2 1651.3,585.5 1651.8,589.0 1652.4,590.4 1652.9,579.6 1653.5,558.7 1654.0,558.7 1654.6,569.7 1655.2,575.6 1655.7,585.3 1656.3,590.4 1656.8,590.4 1657.4,579.5 1657.9,574.9 1658.5,590.4 1659.0,590.4 1659.6,574.0 1660.1,573.2 1660.7,586.0 1661.2,587.2 1661.8,584.3 1662.4,588.9 1662.9,585.0 1663.5,572.3 1664.0,549.9 1664.6,540.4 1665.1,554.5 1665.7,577.5 1666.2,588.5 1666.8,586.9 1667.3,569.8 1667.9,590.4 1668.4,590.4 1669.0,590.4 1669.6,590.4 1670.1,564.7 1670.7,575.3 1671.2,590.4 1671.8,590.4 1672.3,547.3 1672.9,556.7 1673.4,559.6 1674.0,574.9 1674.5,575.8 1675.1,546.5 1675.6,552.8 1676.2,569.4 1676.7,561.9 1677.3,551.9 1677.9,575.7 1678.4,573.0 1679.0,555.5 1679.5,569.6 1680.1,563.0 1680.6,554.0 1681.2,560.6 1681.7,577.3 1682.3,576.3 1682.8,583.3 1683.4,590.4 1683.9,590.4 1684.5,590.4 1685.1,590.4 1685.6,575.8 1686.2,580.0 1686.7,572.1 1687.3,568.9 1687.8,586.2 1688.4,589.4 1688.9,579.8 1689.5,586.7 1690.0,587.3 1690.6,585.5 1691.1,590.4 1691.7,590.4 1692.3,580.7 1692.8,552.6 1693.4,564.8 1693.9,582.8 1694.5,590.2 1695.0,577.6 1695.6,564.3 1696.1,581.1 1696.7,562.1 1697.2,552.0 1697.8,584.1 1698.3,588.9 1698.9,573.8 1699.5,572.7 1700.0,567.8 1700.6,565.8 1701.1,563.5 1701.7,572.9 1702.2,561.4 1702.8,576.4 1703.3,590.4 1703.9,583.7 1704.4,576.5 1705.0,564.8 1705.5,556.3 1706.1,543.6 1706.6,526.0 1707.2,501.1 1707.8,448.5 1708.3,451.6 1708.9,487.2 1709.4,529.4 1710.0,551.3 1710.5,537.4 1711.1,536.2 1711.6,556.9 1712.2,566.4 1712.7,579.4 1713.3,588.1 1713.8,565.7 1714.4,576.4 1715.0,590.4 1715.5,572.9 1716.1,579.9 1716.6,590.4 1717.2,590.4 1717.7,580.8 1718.3,574.7 1718.8,576.1 1719.4,560.4 1719.9,564.0 1720.5,563.1 1721.0,584.1 1721.6,590.4 1722.2,576.6 1722.7,585.8 1723.3,574.4 1723.8,566.2 1724.4,586.4 1724.9,590.4 1725.5,586.7 1726.0,583.3 1726.6,590.3 1727.1,590.4 1727.7,578.1 1728.2,583.7 1728.8,590.4 1729.4,570.2 1729.9,570.0 1730.5,584.3 1731.0,576.9 1731.6,553.1 1732.1,562.4 1732.7,568.7 1733.2,570.7 1733.8,564.3 1734.3,568.1 1734.9,562.9 1735.4,538.6 1736.0,547.2 1736.5,518.7 1737.1,553.6 1737.7,538.7 1738.2,537.6 1738.8,545.0 1739.3,571.2 1739.9,590.4 1740.4,589.5 1741.0,582.3 1741.5,590.4 1742.1,590.4 1742.6,566.4 1743.2,564.4 1743.7,589.4 1744.3,587.0 1744.9,587.8 1745.4,590.4 1746.0,590.4 1746.5,580.1 1747.1,573.0 1747.6,563.1 1748.2,585.5 1748.7,586.7 1749.3,562.3 1749.8,567.1 1750.4,590.4 1750.9,590.4 1751.5,590.4 1752.1,590.4 1752.6,590.4 1753.2,590.4 1753.7,562.4 1754.3,571.6 1754.8,575.4 1755.4,560.6 1755.9,550.2 1756.5,563.0 1757.0,586.6 1757.6,579.6 1758.1,574.4 1758.7,575.8 1759.3,561.9 1759.8,570.4 1760.4,583.0 1760.9,589.4 1761.5,590.4 1762.0,590.2 1762.6,590.4 1763.1,590.4 1763.7,588.3 1764.2,581.4 1764.8,566.9 1765.3,588.6 1765.9,586.2 1766.5,590.4 1767.0,590.4 1767.6,569.4 1768.1,579.9 1768.7,590.4 1769.2,590.4 1769.8,579.3 1770.3,590.4 1770.9,590.4 1771.4,590.4 1772.0,590.4 1772.5,563.3 1773.1,551.6 1773.6,559.0 1774.2,569.9 1774.8,586.6 1775.3,575.3 1775.9,559.2 1776.4,583.1 1777.0,590.4 1777.5,590.4 1778.1,575.3 1778.6,553.4 1779.2,547.2 1779.7,570.8 1780.3,590.4 1780.8,568.6 1781.4,561.9 1782.0,569.1 1782.5,586.9 1783.1,590.4 1783.6,584.9 1784.2,584.7 1784.7,589.3 1785.3,590.4 1785.8,580.4 1786.4,559.7 1786.9,590.4 1787.5,584.6 1788.0,566.9 1788.6,571.0 1789.2,573.9 1789.7,590.4 1790.3,590.4 1790.8,584.5 1791.4,566.6 1791.9,564.8 1792.5,566.2 1793.0,557.8 1793.6,561.8 1794.1,564.0 1794.7,554.2 1795.2,562.2 1795.8,575.7 1796.4,583.8 1796.9,590.4 1797.5,590.4 1798.0,579.3 1798.6,560.7 1799.1,581.4 1799.7,561.8 1800.2,542.6 1800.8,558.0 1801.3,554.5 1801.9,552.9 1802.4,553.7 1803.0,532.6 1803.5,530.0 1804.1,523.3 1804.7,530.0 1805.2,532.6 1805.8,535.2 1806.3,561.6 1806.9,545.1 1807.4,548.1 1808.0,588.1 1808.5,585.1 1809.1,544.7 1809.6,540.1 1810.2,556.2 1810.7,589.2 1811.3,590.4 1811.9,568.2 1812.4,566.7 1813.0,565.6 1813.5,555.5 1814.1,566.3 1814.6,552.5 1815.2,563.0 1815.7,587.9 1816.3,580.9 1816.8,573.0 1817.4,590.4 1817.9,582.3 1818.5,560.1 1819.1,576.3 1819.6,571.7 1820.2,574.4 1820.7,567.7 1821.3,562.3 1821.8,568.0 1822.4,579.0 1822.9,590.4 1823.5,576.0 1824.0,583.8 1824.6,590.4 1825.1,585.4 1825.7,564.8 1826.3,555.4 1826.8,557.7 1827.4,562.9 1827.9,562.8 1828.5,548.2 1829.0,556.2 1829.6,568.2 1830.1,561.9 1830.7,586.8 1831.2,585.5 1831.8,526.3 1832.3,532.9 1832.9,556.3 1833.4,562.9 1834.0,570.0 1834.6,584.9 1835.1,558.9 1835.7,573.0 1836.2,590.4 1836.8,580.0 1837.3,580.4 1837.9,585.0 1838.4,576.6 1839.0,582.9 1839.5,590.4 1840.1,587.9 1840.6,586.5 1841.2,587.8 1841.8,573.9 1842.3,586.2 1842.9,590.4 1843.4,583.8 1844.0,574.7 1844.5,580.9 1845.1,588.6 1845.6,590.4 1846.2,590.4 1846.7,590.4 1847.3,590.4 1847.8,585.0 1848.4,560.3 1849.0,540.3 1849.5,566.3 1850.1,570.2 1850.6,565.3 1851.2,589.5 1851.7,590.4 1852.3,590.4 1852.8,562.4 1853.4,590.4 1853.9,590.4 1854.5,562.0 1855.0,577.2 1855.6,578.7 1856.2,590.4 1856.7,590.4 1857.3,582.1 1857.8,570.6 1858.4,566.4 1858.9,572.9 1859.5,571.1 1860.0,581.2 1860.6,570.6 1861.1,567.0 1861.7,574.9 1862.2,571.1 1862.8,583.1 1863.4,576.3 1863.9,568.3 1864.5,559.6 1865.0,552.3 1865.6,574.4 1866.1,581.0 1866.7,573.2 1867.2,588.2 1867.8,590.4 1868.3,589.9 1868.9,583.4 1869.4,590.4 1870.0,590.4 1870.5,578.7 1871.1,576.5 1871.7,590.4 1872.2,590.4 1872.8,571.1 1873.3,573.3 1873.9,590.4 1874.4,557.4 1875.0,549.6 1875.5,582.0 1876.1,590.4 1876.6,590.4 1877.2,590.4 1877.7,590.4 1878.3,590.4 1878.9,590.4 1879.4,580.4 1880.0,562.3 1880.5,570.7 1881.1,560.9 1881.6,579.8 1882.2,587.2 1882.7,582.8 1883.3,572.6 1883.8,563.4 1884.4,578.3 1884.9,563.9 1885.5,557.1 1886.1,566.7 1886.6,580.9 1887.2,580.5 1887.7,586.9 1888.3,584.1 1888.8,574.7 1889.4,573.5 1889.9,561.1 1890.5,542.6 1891.0,553.3 1891.6,561.4 1892.1,570.6 1892.7,590.4 1893.3,590.4 1893.8,583.7 1894.4,557.1 1894.9,588.5 1895.5,573.7 1896.0,565.3 1896.6,581.7 1897.1,568.9 1897.7,573.7 1898.2,571.7 1898.8,588.9 1899.3,590.4 1899.9,583.6 1900.4,582.3 1901.0,582.6 1901.6,590.4 1902.1,590.4 1902.7,578.8 1903.2,580.2 1903.8,586.2 1904.3,572.5 1904.9,577.8 1905.4,577.0 1906.0,569.6 1906.5,580.6 1907.1,583.0 1907.6,555.0 1908.2,571.2 1908.8,590.4 1909.3,590.4 1909.9,566.8 1910.4,574.2 1911.0,590.4 1911.5,570.1 1912.1,580.2 1912.6,590.4 1913.2,590.4 1913.7,590.4 1914.3,590.4 1914.8,576.1 1915.4,579.8 1916.0,583.6 1916.5,571.2 1917.1,559.4 1917.6,581.4 1918.2,588.1 1918.7,581.1 1919.3,590.4 1919.8,590.4 1920.4,582.5 1920.9,570.1 1921.5,590.0 1922.0,575.1 1922.6,557.9 1923.2,577.1 1923.7,588.0 1924.3,582.4 1924.8,580.6 1925.4,572.4 1925.9,564.4 1926.5,570.3 1927.0,577.4 1927.6,590.4 1928.1,590.4 1928.7,586.5 1929.2,590.4 1929.8,582.4 1930.3,590.1 1930.9,579.8 1931.5,587.2 1932.0,580.3 1932.6,570.7 1933.1,576.7 1933.7,555.2 1934.2,576.1 1934.8,590.4 1935.3,578.7 1935.9,568.1 1936.4,577.9 1937.0,590.4 1937.5,590.4 1938.1,590.4 1938.7,558.5 1939.2,572.7 1939.8,590.4 1940.3,588.5 1940.9,573.3 1941.4,569.3 1942.0,579.6 1942.5,590.4 1943.1,586.6 1943.6,570.0 1944.2,572.3 1944.7,589.4 1945.3,590.4 1945.9,582.5 1946.4,590.4 1947.0,582.3 1947.5,555.2 1948.1,573.0 1948.6,580.3 1949.2,585.9 1949.7,590.4 1950.3,590.4 1950.8,587.8 1951.4,577.7 1951.9,587.5 1952.5,583.7 1953.1,559.0 1953.6,572.5 1954.2,590.4 1954.7,590.4 1955.3,590.4 1955.8,589.9 1956.4,588.0 1956.9,590.4 1957.5,590.4 1958.0,581.7 1958.6,581.6 1959.1,577.6 1959.7,574.5 1960.3,566.7 1960.8,578.9 1961.4,581.7 1961.9,571.0 1962.5,583.9 1963.0,590.4 1963.6,575.7 1964.1,561.7 1964.7,584.1 1965.2,586.0 1965.8,580.1 1966.3,586.8 1966.9,590.4 1967.4,590.4 1968.0,581.1 1968.6,586.0 1969.1,573.0 1969.7,584.6 1970.2,590.4 1970.8,589.9 1971.3,569.7 1971.9,564.6 1972.4,565.8 1973.0,590.4 1973.5,590.4 1974.1,570.6 1974.6,568.5 1975.2,581.0 1975.8,582.9 1976.3,563.8 1976.9,551.4 1977.4,559.9 1978.0,590.4 1978.5,590.4 1979.1,572.9 1979.6,567.8 1980.2,553.4 1980.7,561.5 1981.3,590.4 1981.8,590.4 1982.4,580.6 1983.0,582.4 1983.5,590.4 1984.1,590.4 1984.6,576.6 1985.2,564.5 1985.7,581.9 1986.3,575.0 1986.8,563.4 1987.4,584.0 1987.9,582.3 1988.5,568.6 1989.0,590.4 1989.6,590.4 1990.2,590.4 1990.7,572.3 1991.3,578.4 1991.8,590.4 1992.4,589.1 1992.9,590.4 1993.5,590.4 1994.0,576.0 1994.6,582.6 1995.1,588.2 1995.7,578.6 1996.2,590.4 1996.8,590.4 1997.3,583.8 1997.9,581.9 1998.5,571.9 1999.0,559.2 1999.6,584.2 2000.1,576.5 2000.7,568.9 2001.2,574.8 2001.8,580.6 2002.3,590.4 2002.9,578.9 2003.4,571.0 2004.0,587.4 2004.5,590.4 2005.1,582.5 2005.7,552.8 2006.2,569.5 2006.8,581.6 2007.3,590.4 2007.9,590.4 2008.4,587.7 2009.0,554.2 2009.5,561.0 2010.1,572.7 2010.6,570.4 2011.2,565.2 2011.7,580.2 2012.3,584.4 2012.9,577.0 2013.4,587.9 2014.0,583.0 2014.5,581.5 2015.1,590.0 2015.6,590.4 2016.2,590.4 2016.7,572.7 2017.3,554.1 2017.8,575.2 2018.4,565.0 2018.9,545.7 2019.5,557.8 2020.1,577.9 2020.6,580.0 2021.2,567.0 2021.7,553.5 2022.3,560.8 2022.8,581.0 2023.4,550.5 2023.9,536.1 2024.5,538.3 2025.0,550.3 2025.6,524.2 2026.1,530.8 2026.7,533.5 2027.2,538.9 2027.8,554.5 2028.4,555.2 2028.9,564.8 2029.5,583.7 2030.0,583.1 2030.6,585.4 2031.1,557.6 2031.7,568.5 2032.2,586.3 2032.8,576.1 2033.3,589.1 2033.9,571.2 2034.4,565.6 2035.0,553.3 2035.6,513.7 2036.1,507.0 2036.7,513.7 2037.2,539.4 2037.8,553.7 2038.3,570.4 2038.9,579.6 2039.4,568.1 2040.0,548.5 2040.5,549.8 2041.1,579.6 2041.6,585.9 2042.2,590.4 2042.8,581.8 2043.3,552.4 2043.9,565.7 2044.4,574.3 2045.0,574.3 2045.5,578.0 2046.1,569.0 2046.6,589.8 2047.2,590.4 2047.7,577.2 2048.3,590.1 2048.8,590.4 2049.4,583.1 2050.0,590.4 2050.5,589.3 2051.1,575.4 2051.6,569.9 2052.2,590.4 2052.7,590.2 2053.3,566.0 2053.8,573.1 2054.4,569.1 2054.9,587.4 2055.5,586.8 2056.0,544.4 2056.6,526.0 2057.2,565.6 2057.7,580.7 2058.3,564.0 2058.8,560.0 2059.4,571.6 2059.9,580.1 2060.5,590.4 2061.0,582.4 2061.6,557.6 2062.1,540.7 2062.7,559.1 2063.2,576.7 2063.8,570.6 2064.3,563.5 2064.9,563.9 2065.5,585.0 2066.0,590.4 2066.6,586.8 2067.1,565.4 2067.7,560.2 2068.2,567.7 2068.8,582.7 2069.3,551.6 2069.9,586.6 2070.4,589.2 2071.0,553.7 2071.5,583.6 2072.1,587.5 2072.7,590.0 2073.2,569.7 2073.8,556.7 2074.3,561.3 2074.9,584.8 2075.4,572.7 2076.0,582.2 2076.5,554.8 2077.1,573.4 2077.6,588.8 2078.2,552.8 2078.7,548.6 2079.3,569.3 2079.9,569.7 2080.4,586.0 2081.0,590.4 2081.5,590.0 2082.1,569.8 2082.6,551.9 2083.2,586.8 2083.7,590.4 2084.3,590.4 2084.8,588.3 2085.4,569.1 2085.9,588.1 2086.5,571.4 2087.1,583.3 2087.6,589.9 2088.2,559.8 2088.7,553.9 2089.3,559.2 2089.8,567.9 2090.4,568.9 2090.9,564.8 2091.5,571.7 2092.0,576.3 2092.6,578.4 2093.1,576.9 2093.7,573.9 2094.2,589.4 2094.8,590.4 2095.4,570.4 2095.9,580.5 2096.5,590.4 2097.0,589.3 2097.6,583.9 2098.1,590.4 2098.7,590.4 2099.2,560.1 2099.8,562.2 2100.3,590.4 2100.9,590.4 2101.4,582.2 2102.0,572.2 2102.6,590.4 2103.1,590.4 2103.7,553.6 2104.2,578.7 2104.8,590.4 2105.3,565.5 2105.9,570.3 2106.4,581.1 2107.0,590.4 2107.5,590.4 2108.1,570.9 2108.6,586.7 2109.2,569.3 2109.8,590.4 2110.3,590.4 2110.9,574.9 2111.4,566.1 2112.0,566.0 2112.5,551.2 2113.1,554.8 2113.6,566.3 2114.2,560.8 2114.7,588.9 2115.3,590.4 2115.8,566.2 2116.4,560.6 2117.0,584.7 2117.5,590.4 2118.1,590.4 2118.6,590.4 2119.2,590.4 2119.7,581.6 2120.3,584.1 2120.8,590.4 2121.4,572.9 2121.9,560.7 2122.5,569.9 2123.0,564.1 2123.6,576.0 2124.1,590.4 2124.7,590.4 2125.3,590.4 2125.8,575.1 2126.4,583.4 2126.9,590.4 2127.5,586.3 2128.0,567.1 2128.6,572.0 2129.1,590.4 2129.7,590.4 2130.2,590.4 2130.8,590.4 2131.3,586.2 2131.9,565.5 2132.5,578.3 2133.0,590.4 2133.6,590.4 2134.1,577.2 2134.7,559.5 2135.2,541.3 2135.8,551.2 2136.3,590.4 2136.9,587.0 2137.4,579.1 2138.0,581.6 2138.5,565.1 2139.1,570.4 2139.7,576.2 2140.2,590.4 2140.8,590.4 2141.3,567.8 2141.9,582.3 2142.4,589.4 2143.0,570.9 2143.5,570.9 2144.1,572.6 2144.6,572.6 2145.2,586.2 2145.7,576.6 2146.3,554.4 2146.9,555.6 2147.4,575.6 2148.0,579.1 2148.5,585.1 2149.1,590.4 2149.6,567.5 2150.2,544.3 2150.7,572.2 2151.3,586.8 2151.8,590.4 2152.4,583.5 2152.9,562.7 2153.5,572.0 2154.1,588.6 2154.6,581.3 2155.2,565.4 2155.7,576.0 2156.3,574.6 2156.8,587.6 2157.4,590.4 2157.9,590.4 2158.5,590.2 2159.0,561.0 2159.6,561.7 2160.1,567.7 2160.7,568.6 2161.2,585.8 2161.8,574.1 2162.4,563.6 2162.9,559.0 2163.5,554.2 2164.0,579.2 2164.6,590.4 2165.1,590.4 2165.7,590.4 2166.2,590.4 2166.8,590.4 2167.3,590.4 2167.9,590.4 2168.4,583.2 2169.0,558.2 2169.6,571.7 2170.1,590.4 2170.7,590.4 2171.2,590.4 2171.8,590.4 2172.3,575.6 2172.9,590.4 2173.4,582.6 2174.0,578.6 2174.5,580.7 2175.1,570.9 2175.6,571.5 2176.2,564.6 2176.8,577.8 2177.3,578.8 2177.9,590.4 2178.4,590.4 2179.0,590.4 2179.5,569.5 2180.1,573.8 2180.6,590.4 2181.2,568.7 2181.7,561.5 2182.3,579.9 2182.8,590.4 2183.4,590.4 2184.0,572.4 2184.5,573.2 2185.1,570.6 2185.6,565.3 2186.2,560.4 2186.7,551.9 2187.3,559.8 2187.8,551.0 2188.4,539.1 2188.9,545.7 2189.5,577.7 2190.0,584.3 2190.6,575.9 2191.1,553.6 2191.7,553.6 2192.3,583.2 2192.8,590.4 2193.4,565.9 2193.9,577.0 2194.5,590.4 2195.0,586.1 2195.6,582.4 2196.1,589.2 2196.7,586.1 2197.2,590.4 2197.8,590.4 2198.3,590.4 2198.9,590.4 2199.5,588.0 2200.0,584.7 2200.6,585.3 2201.1,590.0 2201.7,582.1 2202.2,567.5 2202.8,560.9 2203.3,583.7 2203.9,590.4 2204.4,570.6 2205.0,576.3 2205.5,579.5 2206.1,579.0 2206.7,580.0 2207.2,590.4 2207.8,590.4 2208.3,582.0 2208.9,590.4 2209.4,590.4 2210.0,574.2 2210.5,560.4 2211.1,568.6 2211.6,569.5 2212.2,576.8 2212.7,590.4 2213.3,590.4 2213.9,590.4 2214.4,583.9 2215.0,583.1 2215.5,580.8 2216.1,567.7 2216.6,578.6 2217.2,590.4 2217.7,569.3 2218.3,552.2 2218.8,576.8 2219.4,590.4 2219.9,590.4 2220.5,590.4 2221.0,586.9 2221.6,580.8 2222.2,582.4 2222.7,571.9 2223.3,582.5 2223.8,590.4 2224.4,590.4 2224.9,581.1 2225.5,571.6 2226.0,571.4 2226.6,572.5 2227.1,539.8 2227.7,532.6 2228.2,582.5 2228.8,590.4 2229.4,586.6 2229.9,578.2 2230.5,563.0 2231.0,567.1 2231.6,579.8 2232.1,590.4 2232.7,571.7 2233.2,551.9 2233.8,590.4 2234.3,590.4 2234.9,590.4 2235.4,590.4 2236.0,567.3"/>
</g>
<text x="240.4" y="262.5" text-anchor="end" fill="#000">200</text>
<text x="240.4" y="613.0" text-anchor="end" fill="#000">0</text>
<text x="228.3" y="789.0" text-anchor="end" fill="#000">200</text>
<text x="228.3" y="1138.5" text-anchor="end" fill="#000">0</text>
<text x="241.2" y="1313.4" text-anchor="end" fill="#000">200</text>
<text x="241.2" y="1664.4" text-anchor="end" fill="#000">0</text>
<text x="298.0" y="1769.5" text-anchor="middle" fill="#000">0</text>
<text x="574.9" y="1769.5" text-anchor="middle" fill="#000">10</text>
<text x="851.7" y="1769.5" text-anchor="middle" fill="#000">20</text>
<text x="1128.6" y="1769.5" text-anchor="middle" fill="#000">30</text>
<text x="1405.4" y="1769.5" text-anchor="middle" fill="#000">40</text>
<text x="1682.3" y="1769.5" text-anchor="middle" fill="#000">50</text>
<text x="1959.1" y="1769.5" text-anchor="middle" fill="#000">60</text>
<text x="2236.0" y="1769.5" text-anchor="middle" fill="#000">70</text>
<text x="1267.0" y="1855.0" text-anchor="middle" fill="#000">2θ (°)</text>
<text transform="translate(72,805.8) rotate(-90)" text-anchor="middle" fill="#000" textLength="472.5" lengthAdjust="spacingAndGlyphs">Intensity (A.U.)</text>
<text x="340.6" y="144.9" text-anchor="start" fill="#0000ff" textLength="715.8" lengthAdjust="spacingAndGlyphs">NAMCC (NA/C=5.0%)</text>
<text x="343.6" y="678.1" text-anchor="start" fill="#ff0000" textLength="715.0" lengthAdjust="spacingAndGlyphs">NAMCC (NA/C=3.0%)</text>
<text x="366.2" y="1204.8" text-anchor="start" fill="#000000" textLength="117.0" lengthAdjust="spacingAndGlyphs">Ref</text>
<text x="1908.5" y="154.5" text-anchor="start" fill="#0000ff" textLength="189.3" lengthAdjust="spacingAndGlyphs">1: AFt</text>
<text x="1905.3" y="245.4" text-anchor="start" fill="#0000ff" textLength="181.9" lengthAdjust="spacingAndGlyphs">2: CH</text>
<text x="1905.3" y="335.5" text-anchor="start" fill="#0000ff" textLength="271.3" lengthAdjust="spacingAndGlyphs">3: C-S-H</text>
<text x="1905.3" y="425.0" fill="#0000ff" textLength="204.4" lengthAdjust="spacingAndGlyphs">4: CA<tspan dy="20" font-size="47.5px">2</tspan></text>
<text x="1908.5" y="681.3" text-anchor="start" fill="#ff0000" textLength="189.3" lengthAdjust="spacingAndGlyphs">1: AFt</text>
<text x="1905.3" y="771.7" text-anchor="start" fill="#ff0000" textLength="181.9" lengthAdjust="spacingAndGlyphs">2: CH</text>
<text x="1905.3" y="862.3" text-anchor="start" fill="#ff0000" textLength="271.3" lengthAdjust="spacingAndGlyphs">3: C-S-H</text>
<text x="1905.3" y="953.4" fill="#ff0000" textLength="204.4" lengthAdjust="spacingAndGlyphs">4: CA<tspan dy="20" font-size="47.5px">2</tspan></text>
<text x="1908.5" y="1207.7" text-anchor="start" fill="#000000" textLength="189.3" lengthAdjust="spacingAndGlyphs">1: AFt</text>
<text x="1905.3" y="1297.9" text-anchor="start" fill="#000000" textLength="181.9" lengthAdjust="spacingAndGlyphs">2: CH</text>
<text x="1905.3" y="1388.7" text-anchor="start" fill="#000000" textLength="271.3" lengthAdjust="spacingAndGlyphs">3: C-S-H</text>
<text x="1905.3" y="1478.8" fill="#000000" textLength="204.4" lengthAdjust="spacingAndGlyphs">4: CA<tspan dy="20" font-size="47.5px">2</tspan></text>
<text x="626.5" y="398.8" text-anchor="middle" fill="#0000ff">1</text>
<text x="802.0" y="213.9" text-anchor="middle" fill="#0000ff">2</text>
<text x="885.0" y="411.3" text-anchor="middle" fill="#0000ff">1</text>
<text x="1035.1" y="347.5" text-anchor="middle" fill="#0000ff">4</text>
<text x="1115.6" y="386.4" text-anchor="middle" fill="#0000ff">3</text>
<text x="1199.6" y="445.5" text-anchor="middle" fill="#0000ff">3</text>
<text x="1281.9" y="149.2" text-anchor="middle" fill="#0000ff">2</text>
<text x="1487.1" y="439.2" text-anchor="middle" fill="#0000ff">3</text>
<text x="1606.2" y="370.8" text-anchor="middle" fill="#0000ff">2</text>
<text x="1708.8" y="416.9" text-anchor="middle" fill="#0000ff">2</text>
<text x="627.7" y="979.2" text-anchor="middle" fill="#ff0000">1</text>
<text x="804.9" y="780.3" text-anchor="middle" fill="#ff0000">2</text>
<text x="1041.3" y="953.7" text-anchor="middle" fill="#ff0000">4</text>
<text x="1121.2" y="878.2" text-anchor="middle" fill="#ff0000">3</text>
<text x="1199.9" y="993.2" text-anchor="middle" fill="#ff0000">3</text>
<text x="1251.8" y="675.2" text-anchor="middle" fill="#ff0000">2</text>
<text x="1491.1" y="1002.5" text-anchor="middle" fill="#ff0000">3</text>
<text x="1611.7" y="932.6" text-anchor="middle" fill="#ff0000">2</text>
<text x="1711.9" y="971.5" text-anchor="middle" fill="#ff0000">2</text>
<text x="625.6" y="1510.5" text-anchor="middle" fill="#000000">1</text>
<text x="802.1" y="1199.7" text-anchor="middle" fill="#000000">2</text>
<text x="1042.9" y="1370.0" text-anchor="middle" fill="#000000">4</text>
<text x="1116.6" y="1393.3" text-anchor="middle" fill="#000000">3</text>
<text x="1203.6" y="1513.6" text-anchor="middle" fill="#000000">3</text>
<text x="1244.6" y="1197.5" text-anchor="middle" fill="#000000">2</text>
<text x="1488.0" y="1527.0" text-anchor="middle" fill="#000000">3</text>
<text x="1602.4" y="1432.8" text-anchor="middle" fill="#000000">2</text>
<text x="1706.6" y="1497.5" text-anchor="middle" fill="#000000">2</text>
</svg></body></html>
